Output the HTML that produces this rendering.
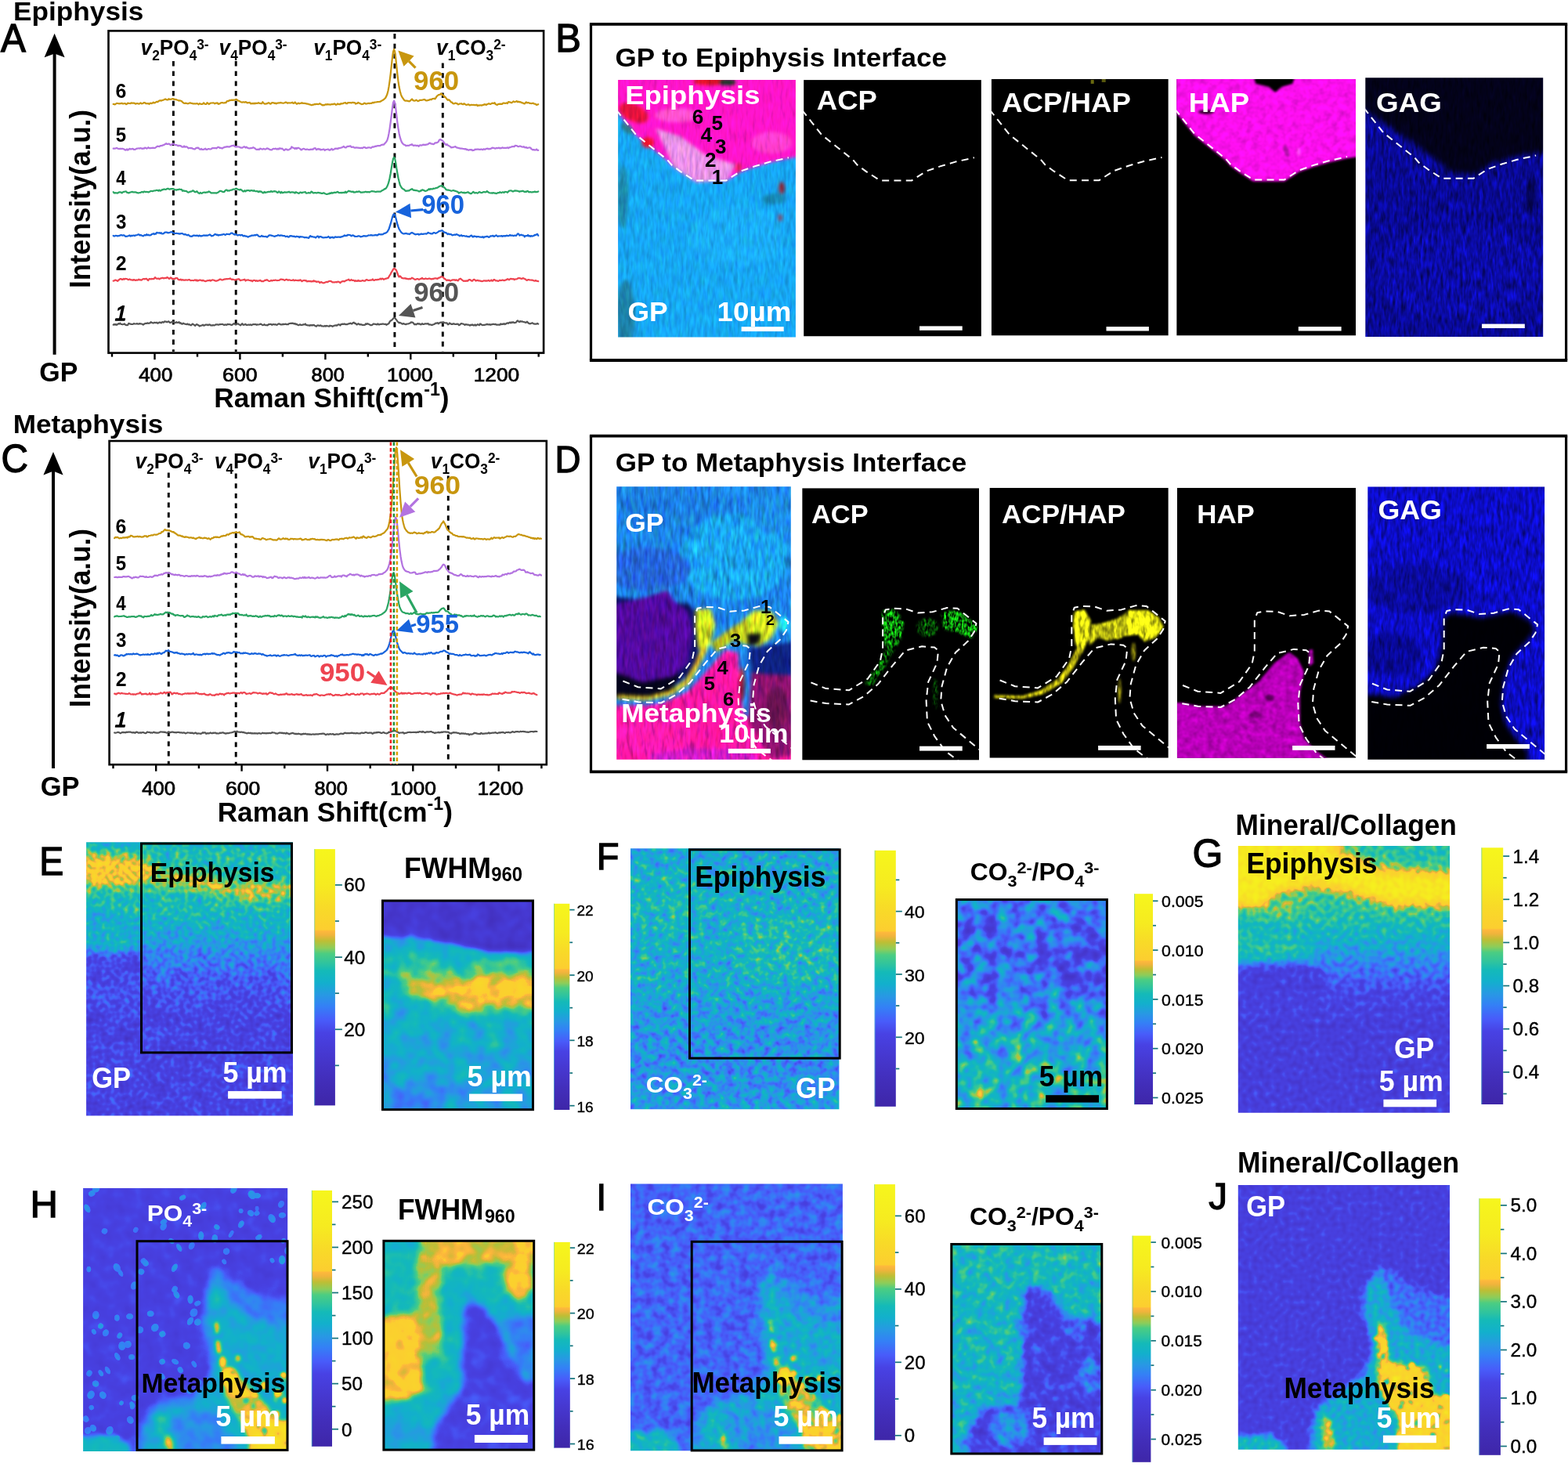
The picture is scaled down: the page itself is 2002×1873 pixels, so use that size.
<!DOCTYPE html>
<html lang="en"><head><meta charset="utf-8"><title>Raman mapping of growth plate interfaces</title>
<style>
html,body{margin:0;padding:0;background:#fff}
body{width:2002px;height:1873px;overflow:hidden}
svg{display:block;font-family:"Liberation Sans", sans-serif;}
</style></head><body>
<svg width="2002" height="1873" viewBox="0 0 2002 1873">
<defs>
<linearGradient id="cb" x1="0" y1="1" x2="0" y2="0"><stop offset="0.000" stop-color="#3e26a8"/><stop offset="0.100" stop-color="#422eba"/><stop offset="0.200" stop-color="#4638d0"/><stop offset="0.284" stop-color="#4842e4"/><stop offset="0.333" stop-color="#485cfa"/><stop offset="0.387" stop-color="#3480f6"/><stop offset="0.430" stop-color="#2898e4"/><stop offset="0.480" stop-color="#12b0cc"/><stop offset="0.525" stop-color="#14bab8"/><stop offset="0.553" stop-color="#2dc3a0"/><stop offset="0.592" stop-color="#4bcd82"/><stop offset="0.614" stop-color="#8ccd5a"/><stop offset="0.642" stop-color="#bebe34"/><stop offset="0.665" stop-color="#f0b43c"/><stop offset="0.680" stop-color="#feb83c"/><stop offset="0.686" stop-color="#fcce30"/><stop offset="0.770" stop-color="#f8da28"/><stop offset="0.860" stop-color="#f6eb20"/><stop offset="1.000" stop-color="#f6f61c"/></linearGradient>
<clipPath id="cp1"><rect x="789.1" y="102.1" width="226.8" height="328.5"/></clipPath>
<filter id="tx1" filterUnits="userSpaceOnUse" x="775.1" y="88.1" width="254.8" height="356.5" color-interpolation-filters="sRGB"><feGaussianBlur in="SourceGraphic" stdDeviation="2.0" result="b"/><feTurbulence type="fractalNoise" baseFrequency="0.26 0.06" numOctaves="2" seed="4" result="n"/><feColorMatrix in="n" type="matrix" values="0.6 0.4 0 0 0  0.3 0.7 0 0 0  0.3 0.3 0.4 0 0  0 0 0 0 1" result="n2"/><feComposite in="b" in2="n2" operator="arithmetic" k1="0.56" k2="0.74" k3="0" k4="0"/></filter>
<clipPath id="cp2"><rect x="1026.1" y="102.1" width="226.8" height="327.4"/></clipPath>
<clipPath id="cp3"><rect x="1265.7" y="100.9" width="226.1" height="327.7"/></clipPath>
<clipPath id="cp4"><rect x="1502.2" y="100.9" width="228.8" height="327.7"/></clipPath>
<filter id="tx2" filterUnits="userSpaceOnUse" x="1488.2" y="86.9" width="256.8" height="355.7" color-interpolation-filters="sRGB"><feGaussianBlur in="SourceGraphic" stdDeviation="1.6" result="b"/><feTurbulence type="fractalNoise" baseFrequency="0.12 0.12" numOctaves="2" seed="9" result="n"/><feColorMatrix in="n" type="matrix" values="0.6 0.4 0 0 0  0.6 0.4 0 0 0  0.6 0.4 0 0 0  0 0 0 0 1" result="n2"/><feComposite in="b" in2="n2" operator="arithmetic" k1="0.5" k2="0.78" k3="0" k4="0"/></filter>
<clipPath id="cp5"><rect x="1743.3" y="99.3" width="226.9" height="330.8"/></clipPath>
<filter id="tx3" filterUnits="userSpaceOnUse" x="1729.3" y="85.3" width="254.9" height="358.8" color-interpolation-filters="sRGB"><feGaussianBlur in="SourceGraphic" stdDeviation="3.5" result="b"/><feTurbulence type="fractalNoise" baseFrequency="0.28 0.07" numOctaves="2" seed="12" result="n"/><feColorMatrix in="n" type="matrix" values="0.6 0.4 0 0 0  0.6 0.4 0 0 0  0.6 0.4 0 0 0  0 0 0 0 1" result="n2"/><feComposite in="b" in2="n2" operator="arithmetic" k1="1.7" k2="0.12" k3="0" k4="0"/></filter>
<clipPath id="cp6"><rect x="787.2" y="621.3" width="222.6" height="348.5"/></clipPath>
<filter id="tx4" filterUnits="userSpaceOnUse" x="773.2" y="607.3" width="250.6" height="376.5" color-interpolation-filters="sRGB"><feGaussianBlur in="SourceGraphic" stdDeviation="2.6" result="b"/><feTurbulence type="fractalNoise" baseFrequency="0.22 0.055" numOctaves="2" seed="21" result="n"/><feColorMatrix in="n" type="matrix" values="0.6 0.4 0 0 0  0.3 0.7 0 0 0  0.3 0.3 0.4 0 0  0 0 0 0 1" result="n2"/><feComposite in="b" in2="n2" operator="arithmetic" k1="1.1" k2="0.45" k3="0" k4="0"/></filter>
<clipPath id="cp7"><rect x="1024.2" y="623.2" width="225.8" height="347.4"/></clipPath>
<filter id="tx5" filterUnits="userSpaceOnUse" x="1020.2" y="619.2" width="233.8" height="355.4" color-interpolation-filters="sRGB"><feGaussianBlur in="SourceGraphic" stdDeviation="1.6" result="b"/><feTurbulence type="fractalNoise" baseFrequency="0.35 0.16" numOctaves="2" seed="5" result="n"/><feColorMatrix in="n" type="matrix" values="0.6 0.4 0 0 0  0.6 0.4 0 0 0  0.6 0.4 0 0 0  0 0 0 0 1" result="n2"/><feComposite in="b" in2="n2" operator="arithmetic" k1="4.2" k2="-1.55" k3="0" k4="0"/></filter>
<clipPath id="cp8"><rect x="1263.4" y="622.8" width="228.4" height="344.9"/></clipPath>
<filter id="tx6" filterUnits="userSpaceOnUse" x="1249.4" y="608.8" width="256.4" height="372.9" color-interpolation-filters="sRGB"><feGaussianBlur in="SourceGraphic" stdDeviation="1.6" result="b"/><feTurbulence type="fractalNoise" baseFrequency="0.22 0.09" numOctaves="2" seed="7" result="n"/><feColorMatrix in="n" type="matrix" values="0.6 0.4 0 0 0  0.6 0.4 0 0 0  0.6 0.4 0 0 0  0 0 0 0 1" result="n2"/><feComposite in="b" in2="n2" operator="arithmetic" k1="2.0" k2="0.0" k3="0" k4="0"/></filter>
<clipPath id="cp9"><rect x="1502.9" y="622.8" width="228.1" height="344.9"/></clipPath>
<filter id="tx7" filterUnits="userSpaceOnUse" x="1488.9" y="608.8" width="256.1" height="372.9" color-interpolation-filters="sRGB"><feGaussianBlur in="SourceGraphic" stdDeviation="1.8" result="b"/><feTurbulence type="fractalNoise" baseFrequency="0.12 0.12" numOctaves="2" seed="15" result="n"/><feColorMatrix in="n" type="matrix" values="0.6 0.4 0 0 0  0.6 0.4 0 0 0  0.6 0.4 0 0 0  0 0 0 0 1" result="n2"/><feComposite in="b" in2="n2" operator="arithmetic" k1="0.7" k2="0.68" k3="0" k4="0"/></filter>
<clipPath id="cp10"><rect x="1746.3" y="621.6" width="225.8" height="348.1"/></clipPath>
<filter id="tx8" filterUnits="userSpaceOnUse" x="1732.3" y="607.6" width="253.8" height="376.1" color-interpolation-filters="sRGB"><feGaussianBlur in="SourceGraphic" stdDeviation="3.0" result="b"/><feTurbulence type="fractalNoise" baseFrequency="0.25 0.07" numOctaves="2" seed="19" result="n"/><feColorMatrix in="n" type="matrix" values="0.6 0.4 0 0 0  0.6 0.4 0 0 0  0.6 0.4 0 0 0  0 0 0 0 1" result="n2"/><feComposite in="b" in2="n2" operator="arithmetic" k1="1.5" k2="0.25" k3="0" k4="0"/></filter>
<filter id="bl2" x="-60%" y="-60%" width="220%" height="220%" color-interpolation-filters="sRGB"><feGaussianBlur stdDeviation="2"/></filter>
<filter id="bl3" x="-60%" y="-60%" width="220%" height="220%" color-interpolation-filters="sRGB"><feGaussianBlur stdDeviation="3"/></filter>
<filter id="bl5" x="-60%" y="-60%" width="220%" height="220%" color-interpolation-filters="sRGB"><feGaussianBlur stdDeviation="5"/></filter>
<filter id="bl8" x="-60%" y="-60%" width="220%" height="220%" color-interpolation-filters="sRGB"><feGaussianBlur stdDeviation="8"/></filter>
<filter id="bl12" x="-60%" y="-60%" width="220%" height="220%" color-interpolation-filters="sRGB"><feGaussianBlur stdDeviation="12"/></filter>
<filter id="bl18" x="-60%" y="-60%" width="220%" height="220%" color-interpolation-filters="sRGB"><feGaussianBlur stdDeviation="18"/></filter>
<clipPath id="cp11"><rect x="110.1" y="1075.3" width="263.9" height="349.2"/></clipPath>
<filter id="hm1" filterUnits="userSpaceOnUse" x="80.1" y="1045.3" width="323.9" height="409.2" color-interpolation-filters="sRGB"><feTurbulence type="fractalNoise" baseFrequency="0.17" numOctaves="1" seed="3" result="n"/><feColorMatrix in="n" type="matrix" values="1 0 0 0 0  1 0 0 0 0  1 0 0 0 0  0 0 0 0 1" result="ng"/><feComposite in="SourceGraphic" in2="ng" operator="arithmetic" k1="0" k2="1" k3="0.27" k4="-0.135" result="v"/><feTurbulence type="fractalNoise" baseFrequency="0.045" numOctaves="2" seed="7" result="m"/><feColorMatrix in="m" type="matrix" values="1 0 0 0 0  1 0 0 0 0  1 0 0 0 0  0 0 0 0 1" result="mg"/><feComposite in="v" in2="mg" operator="arithmetic" k1="0" k2="1" k3="0.14" k4="-0.070" result="v"/><feComponentTransfer><feFuncR type="table" tableValues="0.243 0.245 0.246 0.248 0.249 0.251 0.253 0.254 0.256 0.257 0.259 0.260 0.262 0.264 0.265 0.267 0.268 0.270 0.271 0.273 0.275 0.275 0.276 0.277 0.278 0.279 0.280 0.281 0.282 0.282 0.282 0.282 0.282 0.282 0.272 0.258 0.243 0.229 0.214 0.201 0.190 0.179 0.168 0.157 0.140 0.122 0.105 0.088 0.071 0.072 0.074 0.076 0.078 0.096 0.131 0.166 0.198 0.228 0.258 0.288 0.387 0.503 0.590 0.659 0.728 0.810 0.898 0.959 0.996 0.987 0.986 0.984 0.982 0.980 0.978 0.976 0.974 0.973 0.972 0.971 0.970 0.969 0.968 0.967 0.966 0.966 0.965 0.965 0.965 0.965 0.965 0.965 0.965 0.965 0.965 0.965 0.965 0.965 0.965 0.965 0.965"/><feFuncG type="table" tableValues="0.149 0.152 0.155 0.158 0.162 0.165 0.168 0.171 0.174 0.177 0.180 0.184 0.188 0.192 0.196 0.200 0.204 0.208 0.212 0.216 0.220 0.224 0.229 0.234 0.238 0.243 0.248 0.252 0.257 0.271 0.292 0.313 0.334 0.355 0.379 0.405 0.431 0.458 0.484 0.509 0.530 0.552 0.574 0.596 0.615 0.634 0.653 0.671 0.690 0.699 0.708 0.716 0.725 0.736 0.748 0.761 0.772 0.782 0.792 0.802 0.804 0.804 0.792 0.771 0.750 0.732 0.715 0.711 0.722 0.810 0.816 0.821 0.827 0.832 0.838 0.844 0.849 0.855 0.862 0.870 0.877 0.885 0.892 0.899 0.907 0.914 0.922 0.925 0.928 0.931 0.934 0.937 0.940 0.943 0.946 0.949 0.952 0.955 0.959 0.962 0.965"/><feFuncB type="table" tableValues="0.659 0.666 0.673 0.680 0.687 0.694 0.701 0.708 0.715 0.722 0.729 0.738 0.747 0.755 0.764 0.773 0.781 0.790 0.798 0.807 0.816 0.825 0.834 0.844 0.853 0.862 0.872 0.881 0.890 0.905 0.922 0.940 0.958 0.975 0.978 0.975 0.973 0.970 0.967 0.960 0.943 0.927 0.911 0.894 0.875 0.856 0.838 0.819 0.800 0.783 0.765 0.748 0.730 0.705 0.671 0.638 0.606 0.576 0.546 0.516 0.453 0.381 0.322 0.269 0.217 0.214 0.228 0.235 0.235 0.187 0.183 0.179 0.176 0.172 0.168 0.164 0.161 0.157 0.153 0.150 0.146 0.143 0.139 0.136 0.132 0.129 0.125 0.124 0.123 0.122 0.121 0.120 0.119 0.118 0.117 0.115 0.114 0.113 0.112 0.111 0.110"/></feComponentTransfer></filter>
<linearGradient id="vg1" x1="0" y1="0" x2="0" y2="1"><stop offset="0.000" stop-color="#858585"/><stop offset="0.100" stop-color="#878787"/><stop offset="0.280" stop-color="#858585"/><stop offset="0.360" stop-color="#787878"/><stop offset="0.420" stop-color="#666666"/><stop offset="0.500" stop-color="#545454"/><stop offset="0.620" stop-color="#474747"/><stop offset="1.000" stop-color="#454545"/></linearGradient>
<clipPath id="cp12"><rect x="488.5" y="1150.0" width="192.0" height="266.7"/></clipPath>
<filter id="hm2" filterUnits="userSpaceOnUse" x="458.5" y="1120.0" width="252.0" height="326.7" color-interpolation-filters="sRGB"><feTurbulence type="fractalNoise" baseFrequency="0.05" numOctaves="2" seed="11" result="n"/><feColorMatrix in="n" type="matrix" values="1 0 0 0 0  1 0 0 0 0  1 0 0 0 0  0 0 0 0 1" result="ng"/><feComposite in="SourceGraphic" in2="ng" operator="arithmetic" k1="0" k2="1" k3="0.22" k4="-0.110" result="v"/><feComponentTransfer><feFuncR type="table" tableValues="0.243 0.245 0.246 0.248 0.249 0.251 0.253 0.254 0.256 0.257 0.259 0.260 0.262 0.264 0.265 0.267 0.268 0.270 0.271 0.273 0.275 0.275 0.276 0.277 0.278 0.279 0.280 0.281 0.282 0.282 0.282 0.282 0.282 0.282 0.272 0.258 0.243 0.229 0.214 0.201 0.190 0.179 0.168 0.157 0.140 0.122 0.105 0.088 0.071 0.072 0.074 0.076 0.078 0.096 0.131 0.166 0.198 0.228 0.258 0.288 0.387 0.503 0.590 0.659 0.728 0.810 0.898 0.959 0.996 0.987 0.986 0.984 0.982 0.980 0.978 0.976 0.974 0.973 0.972 0.971 0.970 0.969 0.968 0.967 0.966 0.966 0.965 0.965 0.965 0.965 0.965 0.965 0.965 0.965 0.965 0.965 0.965 0.965 0.965 0.965 0.965"/><feFuncG type="table" tableValues="0.149 0.152 0.155 0.158 0.162 0.165 0.168 0.171 0.174 0.177 0.180 0.184 0.188 0.192 0.196 0.200 0.204 0.208 0.212 0.216 0.220 0.224 0.229 0.234 0.238 0.243 0.248 0.252 0.257 0.271 0.292 0.313 0.334 0.355 0.379 0.405 0.431 0.458 0.484 0.509 0.530 0.552 0.574 0.596 0.615 0.634 0.653 0.671 0.690 0.699 0.708 0.716 0.725 0.736 0.748 0.761 0.772 0.782 0.792 0.802 0.804 0.804 0.792 0.771 0.750 0.732 0.715 0.711 0.722 0.810 0.816 0.821 0.827 0.832 0.838 0.844 0.849 0.855 0.862 0.870 0.877 0.885 0.892 0.899 0.907 0.914 0.922 0.925 0.928 0.931 0.934 0.937 0.940 0.943 0.946 0.949 0.952 0.955 0.959 0.962 0.965"/><feFuncB type="table" tableValues="0.659 0.666 0.673 0.680 0.687 0.694 0.701 0.708 0.715 0.722 0.729 0.738 0.747 0.755 0.764 0.773 0.781 0.790 0.798 0.807 0.816 0.825 0.834 0.844 0.853 0.862 0.872 0.881 0.890 0.905 0.922 0.940 0.958 0.975 0.978 0.975 0.973 0.970 0.967 0.960 0.943 0.927 0.911 0.894 0.875 0.856 0.838 0.819 0.800 0.783 0.765 0.748 0.730 0.705 0.671 0.638 0.606 0.576 0.546 0.516 0.453 0.381 0.322 0.269 0.217 0.214 0.228 0.235 0.235 0.187 0.183 0.179 0.176 0.172 0.168 0.164 0.161 0.157 0.153 0.150 0.146 0.143 0.139 0.136 0.132 0.129 0.125 0.124 0.123 0.122 0.121 0.120 0.119 0.118 0.117 0.115 0.114 0.113 0.112 0.111 0.110"/></feComponentTransfer></filter>
<linearGradient id="vg2" x1="0" y1="0" x2="0" y2="1"><stop offset="0.000" stop-color="#787878"/><stop offset="0.500" stop-color="#7d7d7d"/><stop offset="0.750" stop-color="#757575"/><stop offset="1.000" stop-color="#737373"/></linearGradient>
<clipPath id="cp13"><rect x="805.0" y="1083.3" width="266.4" height="332.9"/></clipPath>
<filter id="hm3" filterUnits="userSpaceOnUse" x="775.0" y="1053.3" width="326.4" height="392.9" color-interpolation-filters="sRGB"><feTurbulence type="fractalNoise" baseFrequency="0.11" numOctaves="2" seed="5" result="n"/><feColorMatrix in="n" type="matrix" values="1 0 0 0 0  1 0 0 0 0  1 0 0 0 0  0 0 0 0 1" result="ng"/><feComposite in="SourceGraphic" in2="ng" operator="arithmetic" k1="0" k2="1" k3="0.36" k4="-0.180" result="v"/><feComponentTransfer><feFuncR type="table" tableValues="0.243 0.245 0.246 0.248 0.249 0.251 0.253 0.254 0.256 0.257 0.259 0.260 0.262 0.264 0.265 0.267 0.268 0.270 0.271 0.273 0.275 0.275 0.276 0.277 0.278 0.279 0.280 0.281 0.282 0.282 0.282 0.282 0.282 0.282 0.272 0.258 0.243 0.229 0.214 0.201 0.190 0.179 0.168 0.157 0.140 0.122 0.105 0.088 0.071 0.072 0.074 0.076 0.078 0.096 0.131 0.166 0.198 0.228 0.258 0.288 0.387 0.503 0.590 0.659 0.728 0.810 0.898 0.959 0.996 0.987 0.986 0.984 0.982 0.980 0.978 0.976 0.974 0.973 0.972 0.971 0.970 0.969 0.968 0.967 0.966 0.966 0.965 0.965 0.965 0.965 0.965 0.965 0.965 0.965 0.965 0.965 0.965 0.965 0.965 0.965 0.965"/><feFuncG type="table" tableValues="0.149 0.152 0.155 0.158 0.162 0.165 0.168 0.171 0.174 0.177 0.180 0.184 0.188 0.192 0.196 0.200 0.204 0.208 0.212 0.216 0.220 0.224 0.229 0.234 0.238 0.243 0.248 0.252 0.257 0.271 0.292 0.313 0.334 0.355 0.379 0.405 0.431 0.458 0.484 0.509 0.530 0.552 0.574 0.596 0.615 0.634 0.653 0.671 0.690 0.699 0.708 0.716 0.725 0.736 0.748 0.761 0.772 0.782 0.792 0.802 0.804 0.804 0.792 0.771 0.750 0.732 0.715 0.711 0.722 0.810 0.816 0.821 0.827 0.832 0.838 0.844 0.849 0.855 0.862 0.870 0.877 0.885 0.892 0.899 0.907 0.914 0.922 0.925 0.928 0.931 0.934 0.937 0.940 0.943 0.946 0.949 0.952 0.955 0.959 0.962 0.965"/><feFuncB type="table" tableValues="0.659 0.666 0.673 0.680 0.687 0.694 0.701 0.708 0.715 0.722 0.729 0.738 0.747 0.755 0.764 0.773 0.781 0.790 0.798 0.807 0.816 0.825 0.834 0.844 0.853 0.862 0.872 0.881 0.890 0.905 0.922 0.940 0.958 0.975 0.978 0.975 0.973 0.970 0.967 0.960 0.943 0.927 0.911 0.894 0.875 0.856 0.838 0.819 0.800 0.783 0.765 0.748 0.730 0.705 0.671 0.638 0.606 0.576 0.546 0.516 0.453 0.381 0.322 0.269 0.217 0.214 0.228 0.235 0.235 0.187 0.183 0.179 0.176 0.172 0.168 0.164 0.161 0.157 0.153 0.150 0.146 0.143 0.139 0.136 0.132 0.129 0.125 0.124 0.123 0.122 0.121 0.120 0.119 0.118 0.117 0.115 0.114 0.113 0.112 0.111 0.110"/></feComponentTransfer></filter>
<linearGradient id="vg3" x1="0" y1="0" x2="0" y2="1"><stop offset="0.000" stop-color="#707070"/><stop offset="0.120" stop-color="#787878"/><stop offset="0.300" stop-color="#7d7d7d"/><stop offset="0.500" stop-color="#797979"/><stop offset="0.620" stop-color="#6f6f6f"/><stop offset="0.800" stop-color="#696969"/><stop offset="0.900" stop-color="#6f6f6f"/><stop offset="1.000" stop-color="#757575"/></linearGradient>
<clipPath id="cp14"><rect x="1221.3" y="1148.6" width="192.1" height="266.9"/></clipPath>
<filter id="hm4" filterUnits="userSpaceOnUse" x="1191.3" y="1118.6" width="252.1" height="326.9" color-interpolation-filters="sRGB"><feTurbulence type="fractalNoise" baseFrequency="0.062" numOctaves="2" seed="8" result="n"/><feColorMatrix in="n" type="matrix" values="1 0 0 0 0  1 0 0 0 0  1 0 0 0 0  0 0 0 0 1" result="ng"/><feComposite in="SourceGraphic" in2="ng" operator="arithmetic" k1="0" k2="1" k3="0.5" k4="-0.250" result="v"/><feComponentTransfer><feFuncR type="table" tableValues="0.243 0.245 0.246 0.248 0.249 0.251 0.253 0.254 0.256 0.257 0.259 0.260 0.262 0.264 0.265 0.267 0.268 0.270 0.271 0.273 0.275 0.275 0.276 0.277 0.278 0.279 0.280 0.281 0.282 0.282 0.282 0.282 0.282 0.282 0.272 0.258 0.243 0.229 0.214 0.201 0.190 0.179 0.168 0.157 0.140 0.122 0.105 0.088 0.071 0.072 0.074 0.076 0.078 0.096 0.131 0.166 0.198 0.228 0.258 0.288 0.387 0.503 0.590 0.659 0.728 0.810 0.898 0.959 0.996 0.987 0.986 0.984 0.982 0.980 0.978 0.976 0.974 0.973 0.972 0.971 0.970 0.969 0.968 0.967 0.966 0.966 0.965 0.965 0.965 0.965 0.965 0.965 0.965 0.965 0.965 0.965 0.965 0.965 0.965 0.965 0.965"/><feFuncG type="table" tableValues="0.149 0.152 0.155 0.158 0.162 0.165 0.168 0.171 0.174 0.177 0.180 0.184 0.188 0.192 0.196 0.200 0.204 0.208 0.212 0.216 0.220 0.224 0.229 0.234 0.238 0.243 0.248 0.252 0.257 0.271 0.292 0.313 0.334 0.355 0.379 0.405 0.431 0.458 0.484 0.509 0.530 0.552 0.574 0.596 0.615 0.634 0.653 0.671 0.690 0.699 0.708 0.716 0.725 0.736 0.748 0.761 0.772 0.782 0.792 0.802 0.804 0.804 0.792 0.771 0.750 0.732 0.715 0.711 0.722 0.810 0.816 0.821 0.827 0.832 0.838 0.844 0.849 0.855 0.862 0.870 0.877 0.885 0.892 0.899 0.907 0.914 0.922 0.925 0.928 0.931 0.934 0.937 0.940 0.943 0.946 0.949 0.952 0.955 0.959 0.962 0.965"/><feFuncB type="table" tableValues="0.659 0.666 0.673 0.680 0.687 0.694 0.701 0.708 0.715 0.722 0.729 0.738 0.747 0.755 0.764 0.773 0.781 0.790 0.798 0.807 0.816 0.825 0.834 0.844 0.853 0.862 0.872 0.881 0.890 0.905 0.922 0.940 0.958 0.975 0.978 0.975 0.973 0.970 0.967 0.960 0.943 0.927 0.911 0.894 0.875 0.856 0.838 0.819 0.800 0.783 0.765 0.748 0.730 0.705 0.671 0.638 0.606 0.576 0.546 0.516 0.453 0.381 0.322 0.269 0.217 0.214 0.228 0.235 0.235 0.187 0.183 0.179 0.176 0.172 0.168 0.164 0.161 0.157 0.153 0.150 0.146 0.143 0.139 0.136 0.132 0.129 0.125 0.124 0.123 0.122 0.121 0.120 0.119 0.118 0.117 0.115 0.114 0.113 0.112 0.111 0.110"/></feComponentTransfer></filter>
<linearGradient id="vg4" x1="0" y1="0" x2="0" y2="1"><stop offset="0.000" stop-color="#757575"/><stop offset="0.060" stop-color="#737373"/><stop offset="0.140" stop-color="#616161"/><stop offset="0.300" stop-color="#5c5c5c"/><stop offset="0.450" stop-color="#616161"/><stop offset="0.560" stop-color="#707070"/><stop offset="0.700" stop-color="#7a7a7a"/><stop offset="0.850" stop-color="#828282"/><stop offset="1.000" stop-color="#858585"/></linearGradient>
<clipPath id="cp15"><rect x="1580.8" y="1080.0" width="270.2" height="340.7"/></clipPath>
<filter id="hm5" filterUnits="userSpaceOnUse" x="1550.8" y="1050.0" width="330.2" height="400.7" color-interpolation-filters="sRGB"><feTurbulence type="fractalNoise" baseFrequency="0.14" numOctaves="1" seed="14" result="n"/><feColorMatrix in="n" type="matrix" values="1 0 0 0 0  1 0 0 0 0  1 0 0 0 0  0 0 0 0 1" result="ng"/><feComposite in="SourceGraphic" in2="ng" operator="arithmetic" k1="0" k2="1" k3="0.26" k4="-0.130" result="v"/><feComponentTransfer><feFuncR type="table" tableValues="0.243 0.245 0.246 0.248 0.249 0.251 0.253 0.254 0.256 0.257 0.259 0.260 0.262 0.264 0.265 0.267 0.268 0.270 0.271 0.273 0.275 0.275 0.276 0.277 0.278 0.279 0.280 0.281 0.282 0.282 0.282 0.282 0.282 0.282 0.272 0.258 0.243 0.229 0.214 0.201 0.190 0.179 0.168 0.157 0.140 0.122 0.105 0.088 0.071 0.072 0.074 0.076 0.078 0.096 0.131 0.166 0.198 0.228 0.258 0.288 0.387 0.503 0.590 0.659 0.728 0.810 0.898 0.959 0.996 0.987 0.986 0.984 0.982 0.980 0.978 0.976 0.974 0.973 0.972 0.971 0.970 0.969 0.968 0.967 0.966 0.966 0.965 0.965 0.965 0.965 0.965 0.965 0.965 0.965 0.965 0.965 0.965 0.965 0.965 0.965 0.965"/><feFuncG type="table" tableValues="0.149 0.152 0.155 0.158 0.162 0.165 0.168 0.171 0.174 0.177 0.180 0.184 0.188 0.192 0.196 0.200 0.204 0.208 0.212 0.216 0.220 0.224 0.229 0.234 0.238 0.243 0.248 0.252 0.257 0.271 0.292 0.313 0.334 0.355 0.379 0.405 0.431 0.458 0.484 0.509 0.530 0.552 0.574 0.596 0.615 0.634 0.653 0.671 0.690 0.699 0.708 0.716 0.725 0.736 0.748 0.761 0.772 0.782 0.792 0.802 0.804 0.804 0.792 0.771 0.750 0.732 0.715 0.711 0.722 0.810 0.816 0.821 0.827 0.832 0.838 0.844 0.849 0.855 0.862 0.870 0.877 0.885 0.892 0.899 0.907 0.914 0.922 0.925 0.928 0.931 0.934 0.937 0.940 0.943 0.946 0.949 0.952 0.955 0.959 0.962 0.965"/><feFuncB type="table" tableValues="0.659 0.666 0.673 0.680 0.687 0.694 0.701 0.708 0.715 0.722 0.729 0.738 0.747 0.755 0.764 0.773 0.781 0.790 0.798 0.807 0.816 0.825 0.834 0.844 0.853 0.862 0.872 0.881 0.890 0.905 0.922 0.940 0.958 0.975 0.978 0.975 0.973 0.970 0.967 0.960 0.943 0.927 0.911 0.894 0.875 0.856 0.838 0.819 0.800 0.783 0.765 0.748 0.730 0.705 0.671 0.638 0.606 0.576 0.546 0.516 0.453 0.381 0.322 0.269 0.217 0.214 0.228 0.235 0.235 0.187 0.183 0.179 0.176 0.172 0.168 0.164 0.161 0.157 0.153 0.150 0.146 0.143 0.139 0.136 0.132 0.129 0.125 0.124 0.123 0.122 0.121 0.120 0.119 0.118 0.117 0.115 0.114 0.113 0.112 0.111 0.110"/></feComponentTransfer></filter>
<linearGradient id="vg5" x1="0" y1="0" x2="0" y2="1"><stop offset="0.000" stop-color="#8f8f8f"/><stop offset="0.200" stop-color="#919191"/><stop offset="0.300" stop-color="#8c8c8c"/><stop offset="0.380" stop-color="#7a7a7a"/><stop offset="0.460" stop-color="#616161"/><stop offset="0.540" stop-color="#4a4a4a"/><stop offset="0.650" stop-color="#404040"/><stop offset="1.000" stop-color="#404040"/></linearGradient>
<clipPath id="cp16"><rect x="106.1" y="1517.1" width="261.1" height="335.8"/></clipPath>
<filter id="hm6" filterUnits="userSpaceOnUse" x="76.1" y="1487.1" width="321.1" height="395.8" color-interpolation-filters="sRGB"><feTurbulence type="fractalNoise" baseFrequency="0.06" numOctaves="2" seed="23" result="n"/><feColorMatrix in="n" type="matrix" values="1 0 0 0 0  1 0 0 0 0  1 0 0 0 0  0 0 0 0 1" result="ng"/><feComposite in="SourceGraphic" in2="ng" operator="arithmetic" k1="0" k2="1" k3="0.12" k4="-0.060" result="v"/><feComponentTransfer><feFuncR type="table" tableValues="0.243 0.245 0.246 0.248 0.249 0.251 0.253 0.254 0.256 0.257 0.259 0.260 0.262 0.264 0.265 0.267 0.268 0.270 0.271 0.273 0.275 0.275 0.276 0.277 0.278 0.279 0.280 0.281 0.282 0.282 0.282 0.282 0.282 0.282 0.272 0.258 0.243 0.229 0.214 0.201 0.190 0.179 0.168 0.157 0.140 0.122 0.105 0.088 0.071 0.072 0.074 0.076 0.078 0.096 0.131 0.166 0.198 0.228 0.258 0.288 0.387 0.503 0.590 0.659 0.728 0.810 0.898 0.959 0.996 0.987 0.986 0.984 0.982 0.980 0.978 0.976 0.974 0.973 0.972 0.971 0.970 0.969 0.968 0.967 0.966 0.966 0.965 0.965 0.965 0.965 0.965 0.965 0.965 0.965 0.965 0.965 0.965 0.965 0.965 0.965 0.965"/><feFuncG type="table" tableValues="0.149 0.152 0.155 0.158 0.162 0.165 0.168 0.171 0.174 0.177 0.180 0.184 0.188 0.192 0.196 0.200 0.204 0.208 0.212 0.216 0.220 0.224 0.229 0.234 0.238 0.243 0.248 0.252 0.257 0.271 0.292 0.313 0.334 0.355 0.379 0.405 0.431 0.458 0.484 0.509 0.530 0.552 0.574 0.596 0.615 0.634 0.653 0.671 0.690 0.699 0.708 0.716 0.725 0.736 0.748 0.761 0.772 0.782 0.792 0.802 0.804 0.804 0.792 0.771 0.750 0.732 0.715 0.711 0.722 0.810 0.816 0.821 0.827 0.832 0.838 0.844 0.849 0.855 0.862 0.870 0.877 0.885 0.892 0.899 0.907 0.914 0.922 0.925 0.928 0.931 0.934 0.937 0.940 0.943 0.946 0.949 0.952 0.955 0.959 0.962 0.965"/><feFuncB type="table" tableValues="0.659 0.666 0.673 0.680 0.687 0.694 0.701 0.708 0.715 0.722 0.729 0.738 0.747 0.755 0.764 0.773 0.781 0.790 0.798 0.807 0.816 0.825 0.834 0.844 0.853 0.862 0.872 0.881 0.890 0.905 0.922 0.940 0.958 0.975 0.978 0.975 0.973 0.970 0.967 0.960 0.943 0.927 0.911 0.894 0.875 0.856 0.838 0.819 0.800 0.783 0.765 0.748 0.730 0.705 0.671 0.638 0.606 0.576 0.546 0.516 0.453 0.381 0.322 0.269 0.217 0.214 0.228 0.235 0.235 0.187 0.183 0.179 0.176 0.172 0.168 0.164 0.161 0.157 0.153 0.150 0.146 0.143 0.139 0.136 0.132 0.129 0.125 0.124 0.123 0.122 0.121 0.120 0.119 0.118 0.117 0.115 0.114 0.113 0.112 0.111 0.110"/></feComponentTransfer></filter>
<clipPath id="cp17"><rect x="489.9" y="1584.3" width="191.8" height="266.8"/></clipPath>
<filter id="hm7" filterUnits="userSpaceOnUse" x="459.9" y="1554.3" width="251.8" height="326.8" color-interpolation-filters="sRGB"><feTurbulence type="fractalNoise" baseFrequency="0.05" numOctaves="2" seed="31" result="n"/><feColorMatrix in="n" type="matrix" values="1 0 0 0 0  1 0 0 0 0  1 0 0 0 0  0 0 0 0 1" result="ng"/><feComposite in="SourceGraphic" in2="ng" operator="arithmetic" k1="0" k2="1" k3="0.16" k4="-0.080" result="v"/><feComponentTransfer><feFuncR type="table" tableValues="0.243 0.245 0.246 0.248 0.249 0.251 0.253 0.254 0.256 0.257 0.259 0.260 0.262 0.264 0.265 0.267 0.268 0.270 0.271 0.273 0.275 0.275 0.276 0.277 0.278 0.279 0.280 0.281 0.282 0.282 0.282 0.282 0.282 0.282 0.272 0.258 0.243 0.229 0.214 0.201 0.190 0.179 0.168 0.157 0.140 0.122 0.105 0.088 0.071 0.072 0.074 0.076 0.078 0.096 0.131 0.166 0.198 0.228 0.258 0.288 0.387 0.503 0.590 0.659 0.728 0.810 0.898 0.959 0.996 0.987 0.986 0.984 0.982 0.980 0.978 0.976 0.974 0.973 0.972 0.971 0.970 0.969 0.968 0.967 0.966 0.966 0.965 0.965 0.965 0.965 0.965 0.965 0.965 0.965 0.965 0.965 0.965 0.965 0.965 0.965 0.965"/><feFuncG type="table" tableValues="0.149 0.152 0.155 0.158 0.162 0.165 0.168 0.171 0.174 0.177 0.180 0.184 0.188 0.192 0.196 0.200 0.204 0.208 0.212 0.216 0.220 0.224 0.229 0.234 0.238 0.243 0.248 0.252 0.257 0.271 0.292 0.313 0.334 0.355 0.379 0.405 0.431 0.458 0.484 0.509 0.530 0.552 0.574 0.596 0.615 0.634 0.653 0.671 0.690 0.699 0.708 0.716 0.725 0.736 0.748 0.761 0.772 0.782 0.792 0.802 0.804 0.804 0.792 0.771 0.750 0.732 0.715 0.711 0.722 0.810 0.816 0.821 0.827 0.832 0.838 0.844 0.849 0.855 0.862 0.870 0.877 0.885 0.892 0.899 0.907 0.914 0.922 0.925 0.928 0.931 0.934 0.937 0.940 0.943 0.946 0.949 0.952 0.955 0.959 0.962 0.965"/><feFuncB type="table" tableValues="0.659 0.666 0.673 0.680 0.687 0.694 0.701 0.708 0.715 0.722 0.729 0.738 0.747 0.755 0.764 0.773 0.781 0.790 0.798 0.807 0.816 0.825 0.834 0.844 0.853 0.862 0.872 0.881 0.890 0.905 0.922 0.940 0.958 0.975 0.978 0.975 0.973 0.970 0.967 0.960 0.943 0.927 0.911 0.894 0.875 0.856 0.838 0.819 0.800 0.783 0.765 0.748 0.730 0.705 0.671 0.638 0.606 0.576 0.546 0.516 0.453 0.381 0.322 0.269 0.217 0.214 0.228 0.235 0.235 0.187 0.183 0.179 0.176 0.172 0.168 0.164 0.161 0.157 0.153 0.150 0.146 0.143 0.139 0.136 0.132 0.129 0.125 0.124 0.123 0.122 0.121 0.120 0.119 0.118 0.117 0.115 0.114 0.113 0.112 0.111 0.110"/></feComponentTransfer></filter>
<clipPath id="cp18"><rect x="805.0" y="1511.4" width="270.9" height="340.9"/></clipPath>
<filter id="hm8" filterUnits="userSpaceOnUse" x="775.0" y="1481.4" width="330.9" height="400.9" color-interpolation-filters="sRGB"><feTurbulence type="fractalNoise" baseFrequency="0.09" numOctaves="2" seed="41" result="n"/><feColorMatrix in="n" type="matrix" values="1 0 0 0 0  1 0 0 0 0  1 0 0 0 0  0 0 0 0 1" result="ng"/><feComposite in="SourceGraphic" in2="ng" operator="arithmetic" k1="0" k2="1" k3="0.22" k4="-0.110" result="v"/><feComponentTransfer><feFuncR type="table" tableValues="0.243 0.245 0.246 0.248 0.249 0.251 0.253 0.254 0.256 0.257 0.259 0.260 0.262 0.264 0.265 0.267 0.268 0.270 0.271 0.273 0.275 0.275 0.276 0.277 0.278 0.279 0.280 0.281 0.282 0.282 0.282 0.282 0.282 0.282 0.272 0.258 0.243 0.229 0.214 0.201 0.190 0.179 0.168 0.157 0.140 0.122 0.105 0.088 0.071 0.072 0.074 0.076 0.078 0.096 0.131 0.166 0.198 0.228 0.258 0.288 0.387 0.503 0.590 0.659 0.728 0.810 0.898 0.959 0.996 0.987 0.986 0.984 0.982 0.980 0.978 0.976 0.974 0.973 0.972 0.971 0.970 0.969 0.968 0.967 0.966 0.966 0.965 0.965 0.965 0.965 0.965 0.965 0.965 0.965 0.965 0.965 0.965 0.965 0.965 0.965 0.965"/><feFuncG type="table" tableValues="0.149 0.152 0.155 0.158 0.162 0.165 0.168 0.171 0.174 0.177 0.180 0.184 0.188 0.192 0.196 0.200 0.204 0.208 0.212 0.216 0.220 0.224 0.229 0.234 0.238 0.243 0.248 0.252 0.257 0.271 0.292 0.313 0.334 0.355 0.379 0.405 0.431 0.458 0.484 0.509 0.530 0.552 0.574 0.596 0.615 0.634 0.653 0.671 0.690 0.699 0.708 0.716 0.725 0.736 0.748 0.761 0.772 0.782 0.792 0.802 0.804 0.804 0.792 0.771 0.750 0.732 0.715 0.711 0.722 0.810 0.816 0.821 0.827 0.832 0.838 0.844 0.849 0.855 0.862 0.870 0.877 0.885 0.892 0.899 0.907 0.914 0.922 0.925 0.928 0.931 0.934 0.937 0.940 0.943 0.946 0.949 0.952 0.955 0.959 0.962 0.965"/><feFuncB type="table" tableValues="0.659 0.666 0.673 0.680 0.687 0.694 0.701 0.708 0.715 0.722 0.729 0.738 0.747 0.755 0.764 0.773 0.781 0.790 0.798 0.807 0.816 0.825 0.834 0.844 0.853 0.862 0.872 0.881 0.890 0.905 0.922 0.940 0.958 0.975 0.978 0.975 0.973 0.970 0.967 0.960 0.943 0.927 0.911 0.894 0.875 0.856 0.838 0.819 0.800 0.783 0.765 0.748 0.730 0.705 0.671 0.638 0.606 0.576 0.546 0.516 0.453 0.381 0.322 0.269 0.217 0.214 0.228 0.235 0.235 0.187 0.183 0.179 0.176 0.172 0.168 0.164 0.161 0.157 0.153 0.150 0.146 0.143 0.139 0.136 0.132 0.129 0.125 0.124 0.123 0.122 0.121 0.120 0.119 0.118 0.117 0.115 0.114 0.113 0.112 0.111 0.110"/></feComponentTransfer></filter>
<clipPath id="cp19"><rect x="1214.8" y="1588.5" width="192.0" height="267.5"/></clipPath>
<filter id="hm9" filterUnits="userSpaceOnUse" x="1184.8" y="1558.5" width="252.0" height="327.5" color-interpolation-filters="sRGB"><feTurbulence type="fractalNoise" baseFrequency="0.085" numOctaves="2" seed="51" result="n"/><feColorMatrix in="n" type="matrix" values="1 0 0 0 0  1 0 0 0 0  1 0 0 0 0  0 0 0 0 1" result="ng"/><feComposite in="SourceGraphic" in2="ng" operator="arithmetic" k1="0" k2="1" k3="0.3" k4="-0.150" result="v"/><feComponentTransfer><feFuncR type="table" tableValues="0.243 0.245 0.246 0.248 0.249 0.251 0.253 0.254 0.256 0.257 0.259 0.260 0.262 0.264 0.265 0.267 0.268 0.270 0.271 0.273 0.275 0.275 0.276 0.277 0.278 0.279 0.280 0.281 0.282 0.282 0.282 0.282 0.282 0.282 0.272 0.258 0.243 0.229 0.214 0.201 0.190 0.179 0.168 0.157 0.140 0.122 0.105 0.088 0.071 0.072 0.074 0.076 0.078 0.096 0.131 0.166 0.198 0.228 0.258 0.288 0.387 0.503 0.590 0.659 0.728 0.810 0.898 0.959 0.996 0.987 0.986 0.984 0.982 0.980 0.978 0.976 0.974 0.973 0.972 0.971 0.970 0.969 0.968 0.967 0.966 0.966 0.965 0.965 0.965 0.965 0.965 0.965 0.965 0.965 0.965 0.965 0.965 0.965 0.965 0.965 0.965"/><feFuncG type="table" tableValues="0.149 0.152 0.155 0.158 0.162 0.165 0.168 0.171 0.174 0.177 0.180 0.184 0.188 0.192 0.196 0.200 0.204 0.208 0.212 0.216 0.220 0.224 0.229 0.234 0.238 0.243 0.248 0.252 0.257 0.271 0.292 0.313 0.334 0.355 0.379 0.405 0.431 0.458 0.484 0.509 0.530 0.552 0.574 0.596 0.615 0.634 0.653 0.671 0.690 0.699 0.708 0.716 0.725 0.736 0.748 0.761 0.772 0.782 0.792 0.802 0.804 0.804 0.792 0.771 0.750 0.732 0.715 0.711 0.722 0.810 0.816 0.821 0.827 0.832 0.838 0.844 0.849 0.855 0.862 0.870 0.877 0.885 0.892 0.899 0.907 0.914 0.922 0.925 0.928 0.931 0.934 0.937 0.940 0.943 0.946 0.949 0.952 0.955 0.959 0.962 0.965"/><feFuncB type="table" tableValues="0.659 0.666 0.673 0.680 0.687 0.694 0.701 0.708 0.715 0.722 0.729 0.738 0.747 0.755 0.764 0.773 0.781 0.790 0.798 0.807 0.816 0.825 0.834 0.844 0.853 0.862 0.872 0.881 0.890 0.905 0.922 0.940 0.958 0.975 0.978 0.975 0.973 0.970 0.967 0.960 0.943 0.927 0.911 0.894 0.875 0.856 0.838 0.819 0.800 0.783 0.765 0.748 0.730 0.705 0.671 0.638 0.606 0.576 0.546 0.516 0.453 0.381 0.322 0.269 0.217 0.214 0.228 0.235 0.235 0.187 0.183 0.179 0.176 0.172 0.168 0.164 0.161 0.157 0.153 0.150 0.146 0.143 0.139 0.136 0.132 0.129 0.125 0.124 0.123 0.122 0.121 0.120 0.119 0.118 0.117 0.115 0.114 0.113 0.112 0.111 0.110"/></feComponentTransfer></filter>
<linearGradient id="vg6" x1="0" y1="0" x2="0" y2="1"><stop offset="0.000" stop-color="#858585"/><stop offset="0.500" stop-color="#808080"/><stop offset="1.000" stop-color="#787878"/></linearGradient>
<clipPath id="cp20"><rect x="1580.8" y="1513.1" width="270.2" height="337.7"/></clipPath>
<filter id="hm10" filterUnits="userSpaceOnUse" x="1550.8" y="1483.1" width="330.2" height="397.7" color-interpolation-filters="sRGB"><feTurbulence type="fractalNoise" baseFrequency="0.15" numOctaves="1" seed="61" result="n"/><feColorMatrix in="n" type="matrix" values="1 0 0 0 0  1 0 0 0 0  1 0 0 0 0  0 0 0 0 1" result="ng"/><feComposite in="SourceGraphic" in2="ng" operator="arithmetic" k1="0" k2="1" k3="0.22" k4="-0.110" result="v"/><feComponentTransfer><feFuncR type="table" tableValues="0.243 0.245 0.246 0.248 0.249 0.251 0.253 0.254 0.256 0.257 0.259 0.260 0.262 0.264 0.265 0.267 0.268 0.270 0.271 0.273 0.275 0.275 0.276 0.277 0.278 0.279 0.280 0.281 0.282 0.282 0.282 0.282 0.282 0.282 0.272 0.258 0.243 0.229 0.214 0.201 0.190 0.179 0.168 0.157 0.140 0.122 0.105 0.088 0.071 0.072 0.074 0.076 0.078 0.096 0.131 0.166 0.198 0.228 0.258 0.288 0.387 0.503 0.590 0.659 0.728 0.810 0.898 0.959 0.996 0.987 0.986 0.984 0.982 0.980 0.978 0.976 0.974 0.973 0.972 0.971 0.970 0.969 0.968 0.967 0.966 0.966 0.965 0.965 0.965 0.965 0.965 0.965 0.965 0.965 0.965 0.965 0.965 0.965 0.965 0.965 0.965"/><feFuncG type="table" tableValues="0.149 0.152 0.155 0.158 0.162 0.165 0.168 0.171 0.174 0.177 0.180 0.184 0.188 0.192 0.196 0.200 0.204 0.208 0.212 0.216 0.220 0.224 0.229 0.234 0.238 0.243 0.248 0.252 0.257 0.271 0.292 0.313 0.334 0.355 0.379 0.405 0.431 0.458 0.484 0.509 0.530 0.552 0.574 0.596 0.615 0.634 0.653 0.671 0.690 0.699 0.708 0.716 0.725 0.736 0.748 0.761 0.772 0.782 0.792 0.802 0.804 0.804 0.792 0.771 0.750 0.732 0.715 0.711 0.722 0.810 0.816 0.821 0.827 0.832 0.838 0.844 0.849 0.855 0.862 0.870 0.877 0.885 0.892 0.899 0.907 0.914 0.922 0.925 0.928 0.931 0.934 0.937 0.940 0.943 0.946 0.949 0.952 0.955 0.959 0.962 0.965"/><feFuncB type="table" tableValues="0.659 0.666 0.673 0.680 0.687 0.694 0.701 0.708 0.715 0.722 0.729 0.738 0.747 0.755 0.764 0.773 0.781 0.790 0.798 0.807 0.816 0.825 0.834 0.844 0.853 0.862 0.872 0.881 0.890 0.905 0.922 0.940 0.958 0.975 0.978 0.975 0.973 0.970 0.967 0.960 0.943 0.927 0.911 0.894 0.875 0.856 0.838 0.819 0.800 0.783 0.765 0.748 0.730 0.705 0.671 0.638 0.606 0.576 0.546 0.516 0.453 0.381 0.322 0.269 0.217 0.214 0.228 0.235 0.235 0.187 0.183 0.179 0.176 0.172 0.168 0.164 0.161 0.157 0.153 0.150 0.146 0.143 0.139 0.136 0.132 0.129 0.125 0.124 0.123 0.122 0.121 0.120 0.119 0.118 0.117 0.115 0.114 0.113 0.112 0.111 0.110"/></feComponentTransfer></filter>
</defs>
<rect width="2002" height="1873" fill="#fff"/>
<text transform="translate(17.1 25.9) scale(1 0.945)" font-size="35.2" font-weight="bold">Epiphysis</text>
<text transform="translate(0.9 66.4) scale(1 1.032)" font-size="47.8" stroke="#000" stroke-width="1.3">A</text>
<line x1="69.6" y1="67.4" x2="69.6" y2="452.8" stroke="#000" stroke-width="4.0"/>
<polygon points="69.6,42.8 82.6,73.2 69.6,68.4 56.6,73.2" fill="#000"/>
<text transform="translate(114.7 368.1) rotate(-90) scale(1 1.03)" font-size="35.1" font-weight="bold">Intensity(a.u.)</text>
<text transform="translate(50.3 487.4) scale(1 1.040)" font-size="34.0" font-weight="bold">GP</text>
<rect x="138.5" y="39.4" width="555.6" height="411.2" fill="none" stroke="#000" stroke-width="2.6"/>
<line x1="143.0" y1="450.6" x2="143.0" y2="455.6" stroke="#000" stroke-width="2.4"/>
<line x1="197.5" y1="450.6" x2="197.5" y2="459.1" stroke="#000" stroke-width="2.4"/>
<line x1="252.0" y1="450.6" x2="252.0" y2="455.6" stroke="#000" stroke-width="2.4"/>
<line x1="306.4" y1="450.6" x2="306.4" y2="459.1" stroke="#000" stroke-width="2.4"/>
<line x1="360.9" y1="450.6" x2="360.9" y2="455.6" stroke="#000" stroke-width="2.4"/>
<line x1="415.4" y1="450.6" x2="415.4" y2="459.1" stroke="#000" stroke-width="2.4"/>
<line x1="469.8" y1="450.6" x2="469.8" y2="455.6" stroke="#000" stroke-width="2.4"/>
<line x1="524.3" y1="450.6" x2="524.3" y2="459.1" stroke="#000" stroke-width="2.4"/>
<line x1="578.8" y1="450.6" x2="578.8" y2="455.6" stroke="#000" stroke-width="2.4"/>
<line x1="633.3" y1="450.6" x2="633.3" y2="459.1" stroke="#000" stroke-width="2.4"/>
<line x1="687.7" y1="450.6" x2="687.7" y2="455.6" stroke="#000" stroke-width="2.4"/>
<text transform="translate(177.2 486.9) scale(1 0.950)" font-size="25.8" stroke="#000" stroke-width="0.8">400</text>
<text transform="translate(284.1 486.9) scale(1 0.918)" font-size="26.7" stroke="#000" stroke-width="0.8">600</text>
<text transform="translate(397.6 486.9) scale(1 0.971)" font-size="25.3" stroke="#000" stroke-width="0.8">800</text>
<text transform="translate(494.1 486.9) scale(1 0.927)" font-size="26.4" stroke="#000" stroke-width="0.8">1000</text>
<text transform="translate(604.7 486.9) scale(1 0.932)" font-size="26.3" stroke="#000" stroke-width="0.8">1200</text>
<text transform="translate(273.3 519.6) scale(1 1.020)" font-size="35.2" font-weight="bold">Raman Shift(cm<tspan font-size="23.2" dy="-14.1">-1</tspan><tspan dy="14.1">)</tspan></text>
<text transform="translate(179.6 69.8) scale(1 1.040)" font-size="26.2" font-weight="bold"><tspan font-style="italic">v</tspan><tspan font-size="17.3" dy="6.5">2</tspan><tspan dy="-6.5">PO</tspan><tspan font-size="17.3" dy="6.5">4</tspan><tspan font-size="17.3" dy="-13.1">3-</tspan></text>
<text transform="translate(279.6 69.8) scale(1 1.040)" font-size="26.2" font-weight="bold"><tspan font-style="italic">v</tspan><tspan font-size="17.3" dy="6.5">4</tspan><tspan dy="-6.5">PO</tspan><tspan font-size="17.3" dy="6.5">4</tspan><tspan font-size="17.3" dy="-13.1">3-</tspan></text>
<text transform="translate(400.2 69.8) scale(1 1.040)" font-size="26.2" font-weight="bold"><tspan font-style="italic">v</tspan><tspan font-size="17.3" dy="6.5">1</tspan><tspan dy="-6.5">PO</tspan><tspan font-size="17.3" dy="6.5">4</tspan><tspan font-size="17.3" dy="-13.1">3-</tspan></text>
<text transform="translate(557.1 69.8) scale(1 1.040)" font-size="26.2" font-weight="bold"><tspan font-style="italic">v</tspan><tspan font-size="17.3" dy="6.5">1</tspan><tspan dy="-6.5">CO</tspan><tspan font-size="17.3" dy="6.5">3</tspan><tspan font-size="17.3" dy="-13.1">2-</tspan></text>
<line x1="221.4" y1="78.0" x2="221.4" y2="449.0" stroke="#000" stroke-width="2.9" stroke-dasharray="6.4 6.3"/>
<line x1="301.2" y1="78.0" x2="301.2" y2="449.0" stroke="#000" stroke-width="2.9" stroke-dasharray="6.4 6.3"/>
<line x1="503.9" y1="43.0" x2="503.9" y2="449.0" stroke="#000" stroke-width="2.9" stroke-dasharray="6.4 6.3"/>
<line x1="565.3" y1="80.5" x2="565.3" y2="449.0" stroke="#000" stroke-width="2.9" stroke-dasharray="6.4 6.3"/>
<polyline points="144.7,414.7 145.8,414.0 146.8,414.7 147.9,414.0 149.0,414.8 150.1,414.1 151.2,413.1 152.3,413.6 153.4,412.6 154.5,413.9 155.6,414.0 156.6,414.3 157.7,414.0 158.8,413.4 159.9,414.5 161.0,415.0 162.1,415.2 163.2,414.9 164.3,412.8 165.4,413.2 166.5,413.7 167.5,413.8 168.6,414.0 169.7,413.9 170.8,413.2 171.9,413.4 173.0,413.5 174.1,413.4 175.2,413.1 176.3,413.7 177.3,413.6 178.4,413.1 179.5,413.3 180.6,413.5 181.7,413.8 182.8,414.6 183.9,413.8 185.0,413.1 186.1,412.9 187.2,413.0 188.2,412.3 189.3,412.9 190.4,412.7 191.5,412.5 192.6,411.2 193.7,411.8 194.8,412.3 195.9,412.5 197.0,411.8 198.0,411.9 199.1,412.2 200.2,411.6 201.3,412.9 202.4,412.3 203.5,411.5 204.6,411.7 205.7,412.3 206.8,411.4 207.8,411.2 208.9,411.7 210.0,410.4 211.1,410.6 212.2,410.7 213.3,411.3 214.4,410.6 215.5,410.4 216.6,411.8 217.7,411.9 218.7,411.4 219.8,411.0 220.9,411.5 222.0,411.2 223.1,411.7 224.2,412.1 225.3,411.2 226.4,412.0 227.5,412.0 228.5,411.1 229.6,412.7 230.7,412.1 231.8,413.5 232.9,413.6 234.0,412.6 235.1,413.2 236.2,413.6 237.3,413.8 238.4,414.2 239.4,413.5 240.5,414.5 241.6,414.1 242.7,414.8 243.8,415.4 244.9,414.4 246.0,413.5 247.1,414.4 248.2,415.0 249.2,415.9 250.3,414.6 251.4,414.1 252.5,414.9 253.6,415.3 254.7,416.4 255.8,415.9 256.9,415.6 258.0,415.2 259.1,414.6 260.1,415.7 261.2,415.5 262.3,414.7 263.4,414.6 264.5,414.5 265.6,415.2 266.7,414.5 267.8,414.4 268.9,415.4 269.9,415.3 271.0,415.6 272.1,415.0 273.2,415.5 274.3,415.2 275.4,414.3 276.5,414.3 277.6,414.3 278.7,414.7 279.7,414.6 280.8,414.1 281.9,414.2 283.0,414.0 284.1,413.9 285.2,414.4 286.3,414.9 287.4,414.4 288.5,414.6 289.6,414.8 290.6,413.9 291.7,414.2 292.8,414.0 293.9,414.3 295.0,414.9 296.1,414.9 297.2,414.2 298.3,413.3 299.4,413.0 300.4,414.4 301.5,414.4 302.6,413.6 303.7,413.3 304.8,414.0 305.9,414.6 307.0,415.3 308.1,414.4 309.2,413.1 310.3,414.7 311.3,414.8 312.4,414.4 313.5,413.8 314.6,415.0 315.7,414.9 316.8,414.7 317.9,414.6 319.0,414.8 320.1,414.4 321.1,415.2 322.2,414.6 323.3,414.1 324.4,414.2 325.5,414.1 326.6,414.2 327.7,414.8 328.8,414.4 329.9,414.5 331.0,414.2 332.0,413.9 333.1,413.6 334.2,414.4 335.3,415.1 336.4,414.9 337.5,414.2 338.6,415.0 339.7,415.3 340.8,415.0 341.8,415.4 342.9,414.0 344.0,414.2 345.1,413.8 346.2,414.0 347.3,414.8 348.4,414.2 349.5,414.2 350.6,414.3 351.7,414.2 352.7,414.6 353.8,414.8 354.9,413.7 356.0,413.4 357.1,413.6 358.2,414.3 359.3,414.4 360.4,414.4 361.5,413.7 362.5,414.2 363.6,413.8 364.7,413.7 365.8,414.2 366.9,414.0 368.0,414.2 369.1,413.0 370.2,413.0 371.3,412.7 372.3,412.8 373.4,412.7 374.5,412.9 375.6,413.6 376.7,413.1 377.8,414.1 378.9,413.7 380.0,414.7 381.1,415.2 382.2,414.6 383.2,414.3 384.3,415.0 385.4,415.0 386.5,414.6 387.6,414.2 388.7,414.5 389.8,413.5 390.9,415.0 392.0,415.1 393.0,415.5 394.1,415.3 395.2,415.8 396.3,415.1 397.4,415.4 398.5,415.1 399.6,415.3 400.7,414.8 401.8,415.7 402.9,416.2 403.9,416.7 405.0,415.5 406.1,415.4 407.2,415.8 408.3,415.8 409.4,415.3 410.5,416.3 411.6,416.4 412.7,416.5 413.7,416.6 414.8,415.9 415.9,416.7 417.0,415.9 418.1,416.2 419.2,416.5 420.3,416.8 421.4,415.6 422.5,416.2 423.6,416.0 424.6,416.8 425.7,416.2 426.8,415.6 427.9,415.7 429.0,415.2 430.1,415.8 431.2,414.8 432.3,414.2 433.4,414.5 434.4,415.5 435.5,414.0 436.6,413.8 437.7,413.6 438.8,413.9 439.9,413.4 441.0,414.2 442.1,414.0 443.2,414.2 444.2,413.6 445.3,413.3 446.4,413.1 447.5,412.5 448.6,413.4 449.7,413.3 450.8,412.1 451.9,411.7 453.0,413.0 454.1,412.9 455.1,414.4 456.2,414.3 457.3,413.2 458.4,413.8 459.5,414.5 460.6,414.2 461.7,414.4 462.8,414.9 463.9,414.8 464.9,415.0 466.0,414.7 467.1,413.3 468.2,414.0 469.3,413.1 470.4,413.8 471.5,414.2 472.6,414.7 473.7,415.3 474.8,415.0 475.8,414.3 476.9,413.5 478.0,413.7 479.1,413.8 480.2,414.2 481.3,414.3 482.4,413.4 483.5,414.4 484.6,414.4 485.6,413.8 486.7,414.0 487.8,413.6 488.9,413.6 490.0,413.7 491.1,414.0 492.2,413.7 493.3,414.8 494.4,414.0 495.5,413.6 496.5,413.0 497.6,410.7 498.7,409.6 499.8,409.1 500.9,407.9 502.0,406.7 503.1,405.8 504.2,405.8 505.3,407.4 506.3,408.7 507.4,410.2 508.5,411.2 509.6,412.3 510.7,411.9 511.8,412.4 512.9,413.2 514.0,413.7 515.1,413.0 516.1,413.4 517.2,413.9 518.3,414.2 519.4,413.5 520.5,413.5 521.6,413.4 522.7,412.8 523.8,412.5 524.9,411.3 526.0,411.7 527.0,411.7 528.1,412.8 529.2,414.3 530.3,413.9 531.4,414.3 532.5,413.5 533.6,413.0 534.7,413.7 535.8,413.3 536.8,414.3 537.9,414.2 539.0,413.1 540.1,413.9 541.2,414.0 542.3,413.4 543.4,413.4 544.5,413.3 545.6,413.4 546.7,413.2 547.7,414.5 548.8,414.3 549.9,414.5 551.0,414.9 552.1,414.9 553.2,414.3 554.3,414.0 555.4,413.3 556.5,412.5 557.5,412.7 558.6,412.1 559.7,413.3 560.8,412.5 561.9,411.9 563.0,411.5 564.1,411.9 565.2,411.7 566.3,411.4 567.4,412.0 568.4,412.3 569.5,412.4 570.6,412.3 571.7,414.1 572.8,414.1 573.9,412.5 575.0,413.0 576.1,414.0 577.2,413.6 578.2,413.8 579.3,413.1 580.4,413.8 581.5,414.0 582.6,413.7 583.7,413.8 584.8,413.5 585.9,415.2 587.0,414.7 588.0,413.7 589.1,413.0 590.2,413.3 591.3,413.5 592.4,414.1 593.5,414.9 594.6,414.1 595.7,414.3 596.8,414.6 597.9,414.7 598.9,414.8 600.0,415.7 601.1,414.7 602.2,414.9 603.3,414.4 604.4,415.4 605.5,415.3 606.6,414.5 607.7,415.6 608.7,414.9 609.8,414.2 610.9,414.6 612.0,415.2 613.1,413.4 614.2,414.0 615.3,414.8 616.4,415.1 617.5,414.8 618.6,415.0 619.6,414.5 620.7,414.5 621.8,413.8 622.9,414.3 624.0,414.3 625.1,414.1 626.2,414.8 627.3,414.3 628.4,414.1 629.4,413.9 630.5,413.9 631.6,414.2 632.7,413.8 633.8,414.7 634.9,414.6 636.0,414.7 637.1,414.5 638.2,414.8 639.3,413.5 640.3,414.2 641.4,413.6 642.5,413.9 643.6,413.2 644.7,414.1 645.8,413.6 646.9,412.7 648.0,412.4 649.1,412.8 650.1,412.0 651.2,411.5 652.3,412.3 653.4,411.4 654.5,411.8 655.6,411.3 656.7,412.2 657.8,412.0 658.9,411.7 660.0,410.0 661.0,409.3 662.1,410.6 663.2,411.1 664.3,410.0 665.4,410.6 666.5,410.3 667.6,410.9 668.7,411.0 669.8,411.3 670.8,411.8 671.9,411.6 673.0,410.7 674.1,411.9 675.2,412.9 676.3,413.3 677.4,413.1 678.5,412.7 679.6,412.3 680.6,412.9 681.7,413.4 682.8,413.7 683.9,413.6 685.0,413.6 686.1,412.9 687.2,413.7" fill="none" stroke="#555555" stroke-width="2.2" stroke-linejoin="round" stroke-linecap="round"/>
<polyline points="144.7,358.6 145.8,358.5 146.8,357.7 147.9,357.7 149.0,358.1 150.1,358.8 151.2,357.9 152.3,356.9 153.4,356.2 154.5,356.0 155.6,356.8 156.6,357.0 157.7,355.9 158.8,356.7 159.9,355.8 161.0,356.0 162.1,356.1 163.2,356.9 164.3,357.1 165.4,356.4 166.5,357.0 167.5,357.5 168.6,357.3 169.7,357.8 170.8,357.0 171.9,357.4 173.0,357.9 174.1,357.4 175.2,357.7 176.3,357.5 177.3,356.6 178.4,357.5 179.5,357.2 180.6,357.7 181.7,356.7 182.8,356.2 183.9,356.0 185.0,356.5 186.1,355.9 187.2,355.9 188.2,357.3 189.3,358.0 190.4,356.2 191.5,356.2 192.6,356.4 193.7,355.9 194.8,356.2 195.9,356.2 197.0,355.5 198.0,354.1 199.1,355.3 200.2,355.8 201.3,355.7 202.4,355.5 203.5,356.3 204.6,355.6 205.7,355.2 206.8,355.1 207.8,354.7 208.9,355.4 210.0,355.1 211.1,354.8 212.2,355.2 213.3,354.0 214.4,354.5 215.5,355.6 216.6,355.8 217.7,354.3 218.7,354.7 219.8,356.1 220.9,355.8 222.0,355.9 223.1,356.1 224.2,355.2 225.3,355.1 226.4,355.2 227.5,356.9 228.5,357.1 229.6,357.3 230.7,356.6 231.8,357.7 232.9,357.1 234.0,357.6 235.1,357.5 236.2,357.7 237.3,357.4 238.4,357.5 239.4,357.7 240.5,357.3 241.6,357.0 242.7,357.7 243.8,358.2 244.9,358.0 246.0,358.0 247.1,358.2 248.2,357.8 249.2,357.3 250.3,358.3 251.4,357.5 252.5,358.6 253.6,358.0 254.7,357.6 255.8,357.5 256.9,357.9 258.0,358.5 259.1,357.8 260.1,358.4 261.2,358.7 262.3,359.1 263.4,358.9 264.5,358.3 265.6,358.2 266.7,358.2 267.8,357.7 268.9,358.6 269.9,358.0 271.0,357.4 272.1,357.5 273.2,357.8 274.3,358.4 275.4,358.6 276.5,358.6 277.6,358.2 278.7,357.9 279.7,357.3 280.8,356.5 281.9,356.6 283.0,357.5 284.1,357.5 285.2,357.0 286.3,356.6 287.4,356.4 288.5,356.4 289.6,356.0 290.6,356.3 291.7,356.0 292.8,355.9 293.9,355.4 295.0,356.4 296.1,357.0 297.2,356.6 298.3,357.0 299.4,357.3 300.4,357.4 301.5,357.2 302.6,356.6 303.7,356.5 304.8,356.2 305.9,357.1 307.0,358.1 308.1,357.8 309.2,357.5 310.3,357.4 311.3,357.2 312.4,356.7 313.5,358.5 314.6,357.5 315.7,357.7 316.8,357.3 317.9,357.9 319.0,358.0 320.1,358.4 321.1,358.2 322.2,359.3 323.3,358.0 324.4,357.8 325.5,358.0 326.6,358.8 327.7,358.1 328.8,358.9 329.9,358.4 331.0,358.5 332.0,357.8 333.1,358.5 334.2,359.2 335.3,359.1 336.4,359.2 337.5,358.2 338.6,357.6 339.7,357.8 340.8,357.2 341.8,357.9 342.9,358.7 344.0,359.0 345.1,358.7 346.2,357.9 347.3,358.6 348.4,358.0 349.5,357.7 350.6,358.0 351.7,357.5 352.7,357.8 353.8,358.1 354.9,358.0 356.0,358.0 357.1,357.5 358.2,356.7 359.3,356.7 360.4,356.8 361.5,356.8 362.5,357.5 363.6,357.9 364.7,357.0 365.8,356.7 366.9,357.4 368.0,357.8 369.1,357.3 370.2,357.5 371.3,358.0 372.3,358.0 373.4,357.8 374.5,357.2 375.6,358.3 376.7,357.8 377.8,357.7 378.9,358.0 380.0,358.1 381.1,357.9 382.2,358.1 383.2,357.3 384.3,358.0 385.4,359.2 386.5,358.5 387.6,358.0 388.7,357.9 389.8,358.5 390.9,358.1 392.0,359.5 393.0,359.1 394.1,358.9 395.2,359.2 396.3,358.9 397.4,359.6 398.5,359.0 399.6,359.4 400.7,358.2 401.8,359.3 402.9,359.0 403.9,359.9 405.0,359.6 406.1,359.5 407.2,359.6 408.3,361.2 409.4,360.4 410.5,360.1 411.6,361.0 412.7,361.3 413.7,361.2 414.8,360.7 415.9,360.3 417.0,359.9 418.1,360.2 419.2,359.5 420.3,359.0 421.4,358.8 422.5,359.0 423.6,359.7 424.6,360.5 425.7,360.4 426.8,360.3 427.9,360.3 429.0,360.0 430.1,360.4 431.2,359.5 432.3,359.8 433.4,360.3 434.4,361.3 435.5,360.0 436.6,359.4 437.7,359.1 438.8,359.1 439.9,359.3 441.0,358.6 442.1,358.1 443.2,357.5 444.2,357.4 445.3,356.7 446.4,358.1 447.5,357.9 448.6,357.0 449.7,358.0 450.8,357.9 451.9,357.9 453.0,359.1 454.1,358.2 455.1,358.8 456.2,358.8 457.3,357.9 458.4,358.9 459.5,358.5 460.6,358.9 461.7,358.5 462.8,358.0 463.9,358.4 464.9,358.6 466.0,358.7 467.1,357.5 468.2,357.1 469.3,357.6 470.4,358.0 471.5,358.0 472.6,357.5 473.7,357.7 474.8,357.5 475.8,356.4 476.9,357.7 478.0,357.9 479.1,357.2 480.2,357.2 481.3,357.3 482.4,356.9 483.5,356.9 484.6,356.5 485.6,355.7 486.7,356.6 487.8,355.7 488.9,355.8 490.0,356.9 491.1,356.3 492.2,355.9 493.3,355.7 494.4,355.1 495.5,355.2 496.5,353.4 497.6,351.5 498.7,349.8 499.8,347.6 500.9,345.9 502.0,343.9 503.1,342.9 504.2,343.3 505.3,344.1 506.3,345.9 507.4,348.7 508.5,351.8 509.6,353.5 510.7,352.5 511.8,353.3 512.9,355.0 514.0,355.1 515.1,355.4 516.1,355.5 517.2,355.1 518.3,356.0 519.4,355.6 520.5,356.2 521.6,356.3 522.7,355.9 523.8,356.3 524.9,355.6 526.0,354.7 527.0,355.3 528.1,355.8 529.2,356.6 530.3,356.8 531.4,356.6 532.5,356.0 533.6,356.2 534.7,356.8 535.8,356.6 536.8,355.9 537.9,356.0 539.0,354.9 540.1,356.1 541.2,356.1 542.3,356.1 543.4,355.4 544.5,356.0 545.6,356.2 546.7,356.0 547.7,355.5 548.8,355.7 549.9,356.1 551.0,356.5 552.1,355.9 553.2,356.2 554.3,355.5 555.4,355.3 556.5,355.4 557.5,355.6 558.6,356.0 559.7,354.9 560.8,354.7 561.9,354.2 563.0,353.3 564.1,353.5 565.2,353.4 566.3,354.6 567.4,356.0 568.4,356.2 569.5,357.3 570.6,358.1 571.7,357.4 572.8,357.9 573.9,357.7 575.0,358.7 576.1,358.1 577.2,357.6 578.2,357.3 579.3,357.3 580.4,357.3 581.5,358.0 582.6,357.3 583.7,357.9 584.8,358.4 585.9,356.8 587.0,356.1 588.0,355.7 589.1,356.7 590.2,357.6 591.3,358.4 592.4,358.9 593.5,358.5 594.6,359.0 595.7,358.4 596.8,358.8 597.9,358.0 598.9,357.0 600.0,357.1 601.1,357.8 602.2,358.7 603.3,358.6 604.4,357.0 605.5,356.8 606.6,357.7 607.7,358.6 608.7,358.1 609.8,357.8 610.9,358.5 612.0,358.4 613.1,358.6 614.2,358.8 615.3,359.2 616.4,359.0 617.5,358.4 618.6,358.3 619.6,358.6 620.7,358.4 621.8,358.7 622.9,358.2 624.0,357.9 625.1,358.8 626.2,358.5 627.3,357.5 628.4,358.7 629.4,358.5 630.5,357.0 631.6,357.2 632.7,358.3 633.8,358.4 634.9,358.4 636.0,359.0 637.1,358.4 638.2,357.7 639.3,358.1 640.3,358.0 641.4,357.5 642.5,357.7 643.6,358.2 644.7,357.7 645.8,357.6 646.9,357.1 648.0,356.2 649.1,356.6 650.1,357.3 651.2,356.3 652.3,355.9 653.4,356.2 654.5,356.3 655.6,356.0 656.7,357.2 657.8,356.4 658.9,356.5 660.0,356.2 661.0,355.5 662.1,355.1 663.2,355.2 664.3,355.4 665.4,355.8 666.5,355.9 667.6,355.1 668.7,355.6 669.8,356.1 670.8,356.4 671.9,357.5 673.0,357.9 674.1,357.0 675.2,357.1 676.3,357.5 677.4,357.5 678.5,357.7 679.6,357.6 680.6,358.0 681.7,358.5 682.8,358.7 683.9,358.0 685.0,358.7 686.1,358.8 687.2,359.1" fill="none" stroke="#ee4450" stroke-width="2.2" stroke-linejoin="round" stroke-linecap="round"/>
<polyline points="144.7,300.9 145.8,301.6 146.8,301.2 147.9,300.8 149.0,301.0 150.1,301.4 151.2,301.2 152.3,300.9 153.4,300.6 154.5,300.0 155.6,300.4 156.6,300.6 157.7,300.2 158.8,300.5 159.9,301.6 161.0,301.9 162.1,301.7 163.2,301.4 164.3,301.0 165.4,300.4 166.5,301.6 167.5,300.7 168.6,301.1 169.7,300.7 170.8,300.5 171.9,301.1 173.0,300.3 174.1,300.3 175.2,300.0 176.3,299.4 177.3,299.3 178.4,300.4 179.5,300.2 180.6,300.4 181.7,300.9 182.8,301.5 183.9,300.6 185.0,300.1 186.1,300.6 187.2,299.2 188.2,300.3 189.3,299.7 190.4,300.4 191.5,300.4 192.6,300.1 193.7,299.1 194.8,298.7 195.9,298.1 197.0,299.1 198.0,298.4 199.1,298.6 200.2,296.8 201.3,297.2 202.4,297.5 203.5,297.1 204.6,297.8 205.7,297.1 206.8,298.5 207.8,298.5 208.9,298.1 210.0,297.1 211.1,296.6 212.2,296.7 213.3,296.7 214.4,297.4 215.5,297.2 216.6,296.9 217.7,296.5 218.7,296.0 219.8,296.6 220.9,297.0 222.0,297.9 223.1,297.8 224.2,298.0 225.3,297.8 226.4,298.0 227.5,298.3 228.5,298.2 229.6,298.7 230.7,298.1 231.8,298.2 232.9,298.0 234.0,298.9 235.1,299.5 236.2,299.1 237.3,299.3 238.4,300.1 239.4,300.3 240.5,299.7 241.6,300.7 242.7,301.7 243.8,301.6 244.9,301.9 246.0,301.2 247.1,300.5 248.2,300.6 249.2,300.8 250.3,300.8 251.4,300.6 252.5,300.8 253.6,301.5 254.7,300.5 255.8,301.4 256.9,301.2 258.0,301.3 259.1,300.8 260.1,300.4 261.2,300.6 262.3,300.8 263.4,300.4 264.5,300.9 265.6,300.3 266.7,300.1 267.8,299.4 268.9,300.2 269.9,301.3 271.0,301.1 272.1,300.9 273.2,300.1 274.3,299.0 275.4,299.2 276.5,299.9 277.6,299.6 278.7,300.7 279.7,299.9 280.8,300.2 281.9,299.9 283.0,299.7 284.1,299.6 285.2,299.0 286.3,299.0 287.4,299.9 288.5,299.4 289.6,298.7 290.6,299.0 291.7,299.0 292.8,299.3 293.9,298.6 295.0,297.7 296.1,297.6 297.2,298.1 298.3,299.0 299.4,299.6 300.4,298.7 301.5,299.2 302.6,299.9 303.7,300.6 304.8,300.0 305.9,299.9 307.0,300.6 308.1,300.1 309.2,299.9 310.3,301.2 311.3,301.5 312.4,300.8 313.5,301.6 314.6,301.6 315.7,302.1 316.8,302.7 317.9,301.9 319.0,301.4 320.1,301.5 321.1,300.6 322.2,300.7 323.3,300.6 324.4,300.4 325.5,300.1 326.6,300.3 327.7,299.7 328.8,299.8 329.9,301.4 331.0,301.8 332.0,302.1 333.1,301.7 334.2,300.9 335.3,301.8 336.4,301.7 337.5,302.0 338.6,302.1 339.7,301.8 340.8,302.8 341.8,302.1 342.9,301.0 344.0,300.3 345.1,300.3 346.2,300.6 347.3,300.9 348.4,301.2 349.5,301.5 350.6,302.0 351.7,301.4 352.7,301.2 353.8,301.0 354.9,300.1 356.0,300.5 357.1,301.0 358.2,300.4 359.3,300.6 360.4,300.7 361.5,301.2 362.5,301.1 363.6,301.2 364.7,302.2 365.8,301.8 366.9,301.7 368.0,302.6 369.1,302.5 370.2,301.1 371.3,301.4 372.3,301.2 373.4,301.7 374.5,301.9 375.6,301.6 376.7,302.3 377.8,302.3 378.9,301.7 380.0,302.2 381.1,302.0 382.2,303.1 383.2,302.1 384.3,302.4 385.4,302.3 386.5,302.5 387.6,302.8 388.7,303.3 389.8,303.2 390.9,303.1 392.0,303.3 393.0,303.5 394.1,304.0 395.2,302.3 396.3,301.1 397.4,302.3 398.5,302.0 399.6,302.5 400.7,302.6 401.8,302.6 402.9,303.5 403.9,302.8 405.0,301.7 406.1,301.7 407.2,303.3 408.3,302.0 409.4,302.1 410.5,302.5 411.6,303.2 412.7,303.3 413.7,303.3 414.8,303.2 415.9,303.0 417.0,303.1 418.1,303.0 419.2,302.0 420.3,302.8 421.4,304.0 422.5,302.9 423.6,303.2 424.6,302.7 425.7,303.6 426.8,303.5 427.9,302.3 429.0,302.7 430.1,302.9 431.2,302.7 432.3,302.5 433.4,302.6 434.4,303.0 435.5,302.3 436.6,302.3 437.7,301.8 438.8,301.4 439.9,300.4 441.0,301.2 442.1,300.7 443.2,300.8 444.2,299.7 445.3,300.0 446.4,300.0 447.5,300.4 448.6,301.3 449.7,300.6 450.8,300.4 451.9,301.0 453.0,301.8 454.1,301.9 455.1,302.0 456.2,301.8 457.3,301.4 458.4,301.3 459.5,301.7 460.6,302.4 461.7,302.0 462.8,301.9 463.9,301.2 464.9,301.3 466.0,301.2 467.1,301.6 468.2,301.3 469.3,301.2 470.4,300.4 471.5,300.5 472.6,300.4 473.7,300.2 474.8,300.3 475.8,300.6 476.9,300.5 478.0,300.4 479.1,299.9 480.2,300.3 481.3,300.1 482.4,300.3 483.5,299.0 484.6,299.1 485.6,299.5 486.7,299.2 487.8,299.3 488.9,299.2 490.0,298.3 491.1,297.8 492.2,297.6 493.3,297.0 494.4,296.1 495.5,294.3 496.5,292.6 497.6,289.2 498.7,285.7 499.8,281.7 500.9,277.4 502.0,274.3 503.1,273.2 504.2,274.7 505.3,278.0 506.3,282.1 507.4,286.1 508.5,289.6 509.6,292.5 510.7,294.2 511.8,296.0 512.9,297.3 514.0,297.9 515.1,298.5 516.1,298.4 517.2,298.2 518.3,297.9 519.4,298.2 520.5,298.6 521.6,298.6 522.7,299.1 523.8,298.3 524.9,297.3 526.0,297.1 527.0,297.5 528.1,298.1 529.2,298.9 530.3,299.3 531.4,299.1 532.5,299.0 533.6,298.7 534.7,299.6 535.8,299.2 536.8,299.2 537.9,298.4 539.0,298.9 540.1,298.8 541.2,298.6 542.3,298.5 543.4,298.4 544.5,298.6 545.6,297.9 546.7,296.9 547.7,297.5 548.8,297.8 549.9,298.3 551.0,298.4 552.1,298.3 553.2,297.4 554.3,297.0 555.4,297.5 556.5,297.9 557.5,297.2 558.6,296.8 559.7,295.8 560.8,295.0 561.9,295.0 563.0,294.6 564.1,294.2 565.2,294.6 566.3,296.1 567.4,296.3 568.4,297.1 569.5,297.2 570.6,298.1 571.7,299.1 572.8,298.3 573.9,299.2 575.0,299.1 576.1,299.2 577.2,300.3 578.2,300.1 579.3,299.9 580.4,299.5 581.5,299.9 582.6,299.1 583.7,299.4 584.8,299.9 585.9,300.5 587.0,301.3 588.0,300.6 589.1,300.2 590.2,301.5 591.3,301.0 592.4,301.0 593.5,301.5 594.6,301.7 595.7,301.3 596.8,302.2 597.9,302.1 598.9,302.5 600.0,301.9 601.1,300.8 602.2,300.6 603.3,302.3 604.4,302.4 605.5,301.4 606.6,302.0 607.7,301.8 608.7,302.6 609.8,302.1 610.9,302.0 612.0,302.5 613.1,302.7 614.2,302.6 615.3,302.8 616.4,302.2 617.5,303.4 618.6,302.4 619.6,302.3 620.7,302.2 621.8,301.7 622.9,302.1 624.0,302.9 625.1,302.5 626.2,301.4 627.3,301.4 628.4,301.4 629.4,300.8 630.5,301.9 631.6,301.7 632.7,300.7 633.8,300.4 634.9,301.6 636.0,301.8 637.1,301.3 638.2,301.5 639.3,301.4 640.3,301.0 641.4,301.8 642.5,301.1 643.6,301.3 644.7,301.1 645.8,301.3 646.9,300.6 648.0,301.1 649.1,301.2 650.1,300.8 651.2,300.0 652.3,300.8 653.4,300.5 654.5,300.7 655.6,301.1 656.7,300.7 657.8,300.7 658.9,301.0 660.0,299.7 661.0,298.4 662.1,298.5 663.2,300.6 664.3,300.2 665.4,299.6 666.5,300.4 667.6,300.3 668.7,300.7 669.8,302.3 670.8,301.1 671.9,301.0 673.0,301.2 674.1,300.0 675.2,301.5 676.3,301.0 677.4,301.8 678.5,301.0 679.6,301.6 680.6,301.3 681.7,300.9 682.8,299.9 683.9,300.1 685.0,299.3 686.1,298.9 687.2,300.8" fill="none" stroke="#1763dc" stroke-width="2.2" stroke-linejoin="round" stroke-linecap="round"/>
<polyline points="144.7,245.1 145.8,246.5 146.8,246.2 147.9,246.4 149.0,246.3 150.1,246.6 151.2,245.8 152.3,245.4 153.4,245.3 154.5,245.6 155.6,246.4 156.6,245.4 157.7,244.9 158.8,244.8 159.9,244.5 161.0,244.4 162.1,245.9 163.2,245.9 164.3,246.5 165.4,245.9 166.5,245.5 167.5,245.2 168.6,244.9 169.7,245.3 170.8,245.3 171.9,245.3 173.0,245.4 174.1,245.6 175.2,246.2 176.3,246.3 177.3,246.3 178.4,246.0 179.5,246.0 180.6,245.1 181.7,245.0 182.8,245.6 183.9,244.7 185.0,244.7 186.1,245.2 187.2,244.9 188.2,245.0 189.3,245.5 190.4,245.1 191.5,244.5 192.6,243.9 193.7,244.0 194.8,244.2 195.9,243.7 197.0,243.5 198.0,243.3 199.1,243.1 200.2,242.8 201.3,243.0 202.4,243.7 203.5,242.6 204.6,243.7 205.7,243.3 206.8,242.2 207.8,242.3 208.9,241.7 210.0,241.5 211.1,242.0 212.2,241.7 213.3,241.0 214.4,240.7 215.5,241.4 216.6,241.7 217.7,241.2 218.7,241.2 219.8,241.0 220.9,241.1 222.0,241.5 223.1,242.2 224.2,242.4 225.3,242.7 226.4,242.0 227.5,242.2 228.5,241.7 229.6,241.7 230.7,242.0 231.8,241.8 232.9,243.8 234.0,243.4 235.1,243.6 236.2,244.0 237.3,243.9 238.4,244.3 239.4,245.3 240.5,245.7 241.6,245.3 242.7,244.7 243.8,244.6 244.9,244.3 246.0,243.4 247.1,243.6 248.2,244.7 249.2,245.3 250.3,244.9 251.4,244.2 252.5,245.5 253.6,246.6 254.7,247.1 255.8,245.8 256.9,246.7 258.0,246.8 259.1,245.8 260.1,245.7 261.2,245.5 262.3,246.0 263.4,245.6 264.5,245.4 265.6,245.3 266.7,244.4 267.8,245.0 268.9,245.8 269.9,246.5 271.0,246.4 272.1,246.3 273.2,246.3 274.3,246.4 275.4,246.4 276.5,246.6 277.6,246.1 278.7,245.5 279.7,244.7 280.8,243.8 281.9,243.9 283.0,244.3 284.1,244.9 285.2,245.1 286.3,245.0 287.4,243.5 288.5,242.6 289.6,242.5 290.6,243.7 291.7,243.3 292.8,243.6 293.9,243.1 295.0,242.5 296.1,242.7 297.2,241.8 298.3,241.5 299.4,241.6 300.4,241.3 301.5,240.7 302.6,241.1 303.7,241.8 304.8,242.1 305.9,242.6 307.0,241.8 308.1,242.4 309.2,243.3 310.3,244.4 311.3,244.4 312.4,243.2 313.5,244.4 314.6,243.4 315.7,243.1 316.8,243.1 317.9,243.0 319.0,243.9 320.1,243.2 321.1,243.2 322.2,243.4 323.3,243.8 324.4,243.2 325.5,244.0 326.6,244.3 327.7,244.0 328.8,244.2 329.9,245.3 331.0,244.2 332.0,244.8 333.1,244.4 334.2,245.0 335.3,246.2 336.4,246.4 337.5,244.9 338.6,245.9 339.7,245.6 340.8,245.4 341.8,245.1 342.9,244.9 344.0,244.8 345.1,244.8 346.2,244.0 347.3,244.9 348.4,244.6 349.5,244.3 350.6,244.2 351.7,244.4 352.7,244.5 353.8,245.9 354.9,245.8 356.0,244.3 357.1,245.3 358.2,246.4 359.3,244.9 360.4,246.3 361.5,245.9 362.5,245.8 363.6,245.2 364.7,245.6 365.8,245.6 366.9,245.4 368.0,245.3 369.1,244.7 370.2,245.8 371.3,245.6 372.3,245.4 373.4,245.3 374.5,245.7 375.6,245.6 376.7,246.6 377.8,245.1 378.9,245.7 380.0,246.2 381.1,246.8 382.2,246.6 383.2,245.5 384.3,245.7 385.4,246.3 386.5,245.7 387.6,245.5 388.7,245.3 389.8,245.0 390.9,246.7 392.0,246.5 393.0,246.5 394.1,245.9 395.2,246.5 396.3,246.3 397.4,244.6 398.5,245.0 399.6,246.3 400.7,246.3 401.8,246.1 402.9,246.2 403.9,246.3 405.0,246.3 406.1,245.8 407.2,246.1 408.3,246.4 409.4,246.4 410.5,246.9 411.6,246.9 412.7,246.4 413.7,246.3 414.8,247.2 415.9,247.5 417.0,248.0 418.1,247.8 419.2,247.4 420.3,247.4 421.4,246.4 422.5,246.9 423.6,245.9 424.6,246.7 425.7,246.1 426.8,245.7 427.9,245.9 429.0,245.9 430.1,245.2 431.2,244.9 432.3,245.9 433.4,246.1 434.4,246.2 435.5,245.9 436.6,246.3 437.7,245.9 438.8,245.8 439.9,246.1 441.0,244.6 442.1,246.1 443.2,245.1 444.2,244.5 445.3,243.6 446.4,244.3 447.5,244.3 448.6,244.9 449.7,244.9 450.8,244.5 451.9,245.6 453.0,245.4 454.1,245.3 455.1,244.6 456.2,244.8 457.3,244.8 458.4,244.4 459.5,244.7 460.6,245.8 461.7,245.5 462.8,245.6 463.9,245.3 464.9,245.5 466.0,244.9 467.1,244.8 468.2,245.3 469.3,245.1 470.4,245.0 471.5,245.5 472.6,244.8 473.7,244.5 474.8,244.0 475.8,244.3 476.9,244.3 478.0,244.5 479.1,244.9 480.2,245.0 481.3,244.5 482.4,244.6 483.5,244.6 484.6,244.7 485.6,244.7 486.7,244.1 487.8,243.2 488.9,242.8 490.0,242.1 491.1,241.1 492.2,241.1 493.3,239.7 494.4,237.9 495.5,235.2 496.5,231.9 497.6,227.2 498.7,221.5 499.8,214.5 500.9,208.0 502.0,202.7 503.1,200.7 504.2,202.6 505.3,207.9 506.3,214.7 507.4,221.1 508.5,227.2 509.6,231.8 510.7,235.9 511.8,238.0 512.9,239.9 514.0,240.8 515.1,241.6 516.1,242.0 517.2,243.4 518.3,244.0 519.4,243.5 520.5,243.6 521.6,243.4 522.7,243.3 523.8,242.3 524.9,241.8 526.0,241.1 527.0,242.1 528.1,242.8 529.2,242.7 530.3,243.1 531.4,243.2 532.5,243.4 533.6,243.5 534.7,244.4 535.8,244.5 536.8,243.4 537.9,243.6 539.0,242.3 540.1,242.6 541.2,243.0 542.3,243.7 543.4,243.9 544.5,243.5 545.6,243.0 546.7,242.3 547.7,241.2 548.8,242.0 549.9,241.0 551.0,241.4 552.1,241.5 553.2,240.6 554.3,240.8 555.4,240.5 556.5,240.1 557.5,239.8 558.6,239.6 559.7,238.8 560.8,238.1 561.9,237.5 563.0,237.3 564.1,236.9 565.2,237.6 566.3,238.6 567.4,239.6 568.4,240.4 569.5,242.2 570.6,242.4 571.7,242.7 572.8,242.6 573.9,243.0 575.0,243.3 576.1,243.8 577.2,243.5 578.2,243.2 579.3,243.1 580.4,243.7 581.5,243.9 582.6,244.3 583.7,244.5 584.8,245.3 585.9,246.7 587.0,245.9 588.0,245.7 589.1,245.3 590.2,245.8 591.3,246.2 592.4,245.7 593.5,246.5 594.6,246.1 595.7,246.0 596.8,245.4 597.9,245.4 598.9,246.4 600.0,246.6 601.1,247.3 602.2,246.9 603.3,245.6 604.4,244.8 605.5,246.1 606.6,246.4 607.7,245.9 608.7,246.3 609.8,246.7 610.9,245.7 612.0,245.1 613.1,245.5 614.2,246.1 615.3,245.9 616.4,245.6 617.5,245.1 618.6,245.1 619.6,245.4 620.7,245.2 621.8,244.0 622.9,245.0 624.0,245.8 625.1,246.2 626.2,246.5 627.3,246.3 628.4,246.7 629.4,246.1 630.5,246.3 631.6,246.6 632.7,246.7 633.8,247.1 634.9,246.5 636.0,246.1 637.1,246.2 638.2,245.2 639.3,245.8 640.3,246.1 641.4,245.4 642.5,245.4 643.6,245.9 644.7,244.9 645.8,245.0 646.9,245.1 648.0,245.8 649.1,244.6 650.1,243.6 651.2,243.5 652.3,243.3 653.4,243.7 654.5,244.5 655.6,244.3 656.7,243.6 657.8,243.4 658.9,243.7 660.0,243.6 661.0,244.0 662.1,244.1 663.2,244.8 664.3,244.3 665.4,244.2 666.5,244.2 667.6,243.6 668.7,244.4 669.8,244.9 670.8,244.6 671.9,245.1 673.0,243.9 674.1,244.0 675.2,245.4 676.3,245.2 677.4,245.1 678.5,245.5 679.6,245.3 680.6,245.2 681.7,245.1 682.8,244.5 683.9,245.2 685.0,245.1 686.1,245.0 687.2,244.5" fill="none" stroke="#2aa563" stroke-width="2.2" stroke-linejoin="round" stroke-linecap="round"/>
<polyline points="144.7,189.6 145.8,189.7 146.8,189.6 147.9,189.3 149.0,188.9 150.1,189.4 151.2,190.0 152.3,190.1 153.4,189.7 154.5,190.1 155.6,189.8 156.6,189.9 157.7,190.2 158.8,190.7 159.9,191.6 161.0,191.4 162.1,190.3 163.2,191.7 164.3,190.9 165.4,189.8 166.5,190.5 167.5,190.3 168.6,190.1 169.7,189.9 170.8,190.8 171.9,190.9 173.0,190.7 174.1,189.8 175.2,189.6 176.3,189.5 177.3,189.3 178.4,189.6 179.5,189.0 180.6,189.5 181.7,190.0 182.8,189.4 183.9,189.7 185.0,188.6 186.1,188.8 187.2,189.6 188.2,189.3 189.3,188.2 190.4,189.1 191.5,189.0 192.6,189.2 193.7,188.9 194.8,188.8 195.9,188.7 197.0,189.0 198.0,188.8 199.1,188.1 200.2,187.2 201.3,186.6 202.4,187.0 203.5,187.1 204.6,186.2 205.7,186.1 206.8,185.9 207.8,185.4 208.9,185.2 210.0,184.5 211.1,184.0 212.2,183.2 213.3,184.0 214.4,183.9 215.5,183.5 216.6,184.0 217.7,185.2 218.7,185.3 219.8,183.9 220.9,183.5 222.0,183.7 223.1,184.9 224.2,185.1 225.3,185.0 226.4,185.6 227.5,186.4 228.5,185.7 229.6,186.2 230.7,186.1 231.8,187.3 232.9,187.6 234.0,187.6 235.1,186.5 236.2,187.8 237.3,187.3 238.4,187.4 239.4,187.9 240.5,189.4 241.6,189.0 242.7,188.9 243.8,189.3 244.9,189.0 246.0,189.8 247.1,190.1 248.2,190.4 249.2,190.4 250.3,188.9 251.4,188.9 252.5,188.7 253.6,188.9 254.7,190.5 255.8,190.8 256.9,189.9 258.0,190.8 259.1,190.9 260.1,190.8 261.2,190.4 262.3,189.6 263.4,191.0 264.5,191.0 265.6,190.1 266.7,190.0 267.8,190.5 268.9,190.5 269.9,190.0 271.0,189.2 272.1,189.2 273.2,189.0 274.3,189.1 275.4,189.0 276.5,189.4 277.6,188.2 278.7,187.8 279.7,188.3 280.8,189.0 281.9,188.7 283.0,189.3 284.1,189.4 285.2,188.3 286.3,188.2 287.4,187.5 288.5,187.7 289.6,187.2 290.6,187.4 291.7,187.3 292.8,187.6 293.9,187.0 295.0,186.5 296.1,186.1 297.2,186.0 298.3,185.6 299.4,186.8 300.4,187.3 301.5,187.1 302.6,187.4 303.7,187.3 304.8,187.5 305.9,187.8 307.0,188.5 308.1,188.7 309.2,188.7 310.3,188.1 311.3,187.3 312.4,187.4 313.5,188.6 314.6,187.7 315.7,188.6 316.8,189.0 317.9,189.5 319.0,189.3 320.1,189.1 321.1,189.2 322.2,188.9 323.3,188.2 324.4,188.7 325.5,189.4 326.6,190.5 327.7,190.9 328.8,190.8 329.9,190.6 331.0,191.0 332.0,189.7 333.1,189.9 334.2,190.5 335.3,190.6 336.4,189.9 337.5,190.2 338.6,190.6 339.7,190.3 340.8,189.4 341.8,189.6 342.9,190.0 344.0,190.8 345.1,191.2 346.2,191.3 347.3,191.2 348.4,190.0 349.5,189.9 350.6,190.2 351.7,189.6 352.7,190.0 353.8,190.7 354.9,189.7 356.0,190.5 357.1,189.2 358.2,189.7 359.3,189.9 360.4,189.7 361.5,190.7 362.5,191.9 363.6,191.4 364.7,190.4 365.8,190.5 366.9,191.3 368.0,191.4 369.1,190.9 370.2,190.3 371.3,189.8 372.3,187.5 373.4,188.2 374.5,188.7 375.6,189.3 376.7,190.0 377.8,188.9 378.9,190.0 380.0,188.9 381.1,188.8 382.2,189.4 383.2,189.9 384.3,191.3 385.4,191.1 386.5,190.2 387.6,189.8 388.7,190.2 389.8,190.8 390.9,191.0 392.0,190.4 393.0,190.8 394.1,191.1 395.2,191.2 396.3,190.6 397.4,190.9 398.5,190.5 399.6,190.9 400.7,189.5 401.8,189.2 402.9,189.4 403.9,191.1 405.0,190.8 406.1,189.9 407.2,190.7 408.3,190.2 409.4,191.5 410.5,191.0 411.6,191.1 412.7,190.5 413.7,190.7 414.8,192.0 415.9,191.0 417.0,191.0 418.1,190.7 419.2,190.5 420.3,191.6 421.4,191.6 422.5,190.6 423.6,189.9 424.6,191.4 425.7,191.0 426.8,190.5 427.9,189.5 429.0,190.0 430.1,189.5 431.2,190.1 432.3,189.1 433.4,189.1 434.4,189.0 435.5,188.5 436.6,188.3 437.7,187.6 438.8,186.9 439.9,188.0 441.0,188.4 442.1,188.3 443.2,187.1 444.2,186.8 445.3,186.9 446.4,186.6 447.5,186.4 448.6,187.8 449.7,187.8 450.8,187.5 451.9,188.2 453.0,188.7 454.1,188.7 455.1,188.3 456.2,188.6 457.3,188.7 458.4,188.9 459.5,188.9 460.6,189.1 461.7,188.7 462.8,189.2 463.9,188.2 464.9,188.1 466.0,188.2 467.1,189.0 468.2,189.1 469.3,188.6 470.4,188.3 471.5,188.4 472.6,188.5 473.7,189.0 474.8,188.0 475.8,187.4 476.9,187.7 478.0,187.3 479.1,186.6 480.2,186.9 481.3,186.3 482.4,186.1 483.5,186.2 484.6,186.2 485.6,186.0 486.7,185.1 487.8,184.8 488.9,184.6 490.0,184.7 491.1,183.4 492.2,182.3 493.3,180.9 494.4,179.0 495.5,175.4 496.5,170.4 497.6,164.1 498.7,156.0 499.8,147.3 500.9,138.1 502.0,131.0 503.1,128.6 504.2,131.5 505.3,138.5 506.3,147.4 507.4,156.3 508.5,164.0 509.6,170.4 510.7,175.2 511.8,178.7 512.9,181.5 514.0,183.0 515.1,184.2 516.1,184.7 517.2,185.1 518.3,186.2 519.4,185.9 520.5,185.9 521.6,185.9 522.7,185.7 523.8,184.9 524.9,185.0 526.0,184.2 527.0,185.4 528.1,186.0 529.2,185.6 530.3,185.6 531.4,186.1 532.5,185.8 533.6,185.9 534.7,186.8 535.8,185.6 536.8,185.3 537.9,185.6 539.0,185.4 540.1,184.6 541.2,185.1 542.3,184.7 543.4,185.1 544.5,184.6 545.6,184.3 546.7,184.1 547.7,183.0 548.8,182.5 549.9,183.2 551.0,183.6 552.1,183.7 553.2,184.1 554.3,183.8 555.4,182.4 556.5,182.4 557.5,182.3 558.6,181.7 559.7,181.1 560.8,178.7 561.9,178.2 563.0,178.3 564.1,179.2 565.2,179.8 566.3,181.1 567.4,182.6 568.4,183.9 569.5,185.1 570.6,184.1 571.7,185.5 572.8,185.9 573.9,186.6 575.0,187.2 576.1,188.4 577.2,188.1 578.2,188.2 579.3,187.7 580.4,187.5 581.5,187.1 582.6,188.3 583.7,188.6 584.8,188.7 585.9,189.2 587.0,189.3 588.0,189.6 589.1,189.6 590.2,189.7 591.3,190.0 592.4,190.1 593.5,190.4 594.6,190.0 595.7,191.1 596.8,190.8 597.9,191.6 598.9,191.6 600.0,191.0 601.1,191.4 602.2,191.0 603.3,192.1 604.4,191.8 605.5,191.6 606.6,190.7 607.7,190.8 608.7,190.7 609.8,190.7 610.9,190.7 612.0,190.8 613.1,190.9 614.2,190.6 615.3,190.7 616.4,191.2 617.5,190.2 618.6,190.7 619.6,190.8 620.7,189.8 621.8,189.9 622.9,189.6 624.0,190.4 625.1,189.9 626.2,190.1 627.3,189.6 628.4,188.6 629.4,188.8 630.5,188.9 631.6,189.4 632.7,189.6 633.8,188.9 634.9,189.1 636.0,189.1 637.1,188.6 638.2,189.5 639.3,189.1 640.3,189.2 641.4,188.3 642.5,188.9 643.6,188.8 644.7,188.9 645.8,188.8 646.9,188.9 648.0,188.3 649.1,189.3 650.1,188.4 651.2,188.1 652.3,187.8 653.4,187.3 654.5,187.1 655.6,187.2 656.7,187.2 657.8,185.8 658.9,186.0 660.0,186.2 661.0,187.0 662.1,187.2 663.2,186.6 664.3,186.5 665.4,187.1 666.5,187.5 667.6,187.7 668.7,187.2 669.8,188.1 670.8,188.4 671.9,188.0 673.0,188.8 674.1,188.8 675.2,188.5 676.3,188.3 677.4,188.7 678.5,190.3 679.6,190.9 680.6,191.5 681.7,191.0 682.8,191.6 683.9,191.5 685.0,190.5 686.1,191.6 687.2,191.9" fill="none" stroke="#b373e0" stroke-width="2.2" stroke-linejoin="round" stroke-linecap="round"/>
<polyline points="144.7,132.9 145.8,133.1 146.8,133.3 147.9,132.6 149.0,131.9 150.1,132.0 151.2,132.2 152.3,132.3 153.4,132.1 154.5,132.1 155.6,131.7 156.6,132.5 157.7,132.3 158.8,132.0 159.9,132.2 161.0,133.1 162.1,132.7 163.2,131.5 164.3,131.9 165.4,132.0 166.5,132.1 167.5,131.3 168.6,131.7 169.7,131.7 170.8,131.5 171.9,131.9 173.0,132.7 174.1,132.2 175.2,132.0 176.3,132.3 177.3,132.6 178.4,132.3 179.5,131.3 180.6,132.3 181.7,132.1 182.8,131.7 183.9,131.0 185.0,131.1 186.1,132.2 187.2,132.1 188.2,132.3 189.3,132.0 190.4,133.0 191.5,131.9 192.6,131.7 193.7,132.1 194.8,131.6 195.9,130.7 197.0,131.5 198.0,131.2 199.1,130.4 200.2,129.8 201.3,130.3 202.4,129.2 203.5,128.5 204.6,128.2 205.7,128.7 206.8,128.1 207.8,127.9 208.9,127.5 210.0,127.0 211.1,126.4 212.2,127.1 213.3,127.4 214.4,127.5 215.5,126.2 216.6,126.9 217.7,126.8 218.7,126.7 219.8,126.3 220.9,126.0 222.0,126.8 223.1,126.6 224.2,127.2 225.3,127.2 226.4,127.7 227.5,128.0 228.5,128.7 229.6,128.3 230.7,128.7 231.8,129.0 232.9,130.3 234.0,131.1 235.1,132.0 236.2,131.8 237.3,131.6 238.4,132.0 239.4,132.3 240.5,132.2 241.6,131.7 242.7,131.3 243.8,131.8 244.9,131.8 246.0,132.3 247.1,132.3 248.2,132.3 249.2,132.4 250.3,132.5 251.4,132.0 252.5,132.5 253.6,133.4 254.7,132.1 255.8,132.6 256.9,132.8 258.0,132.9 259.1,132.5 260.1,131.3 261.2,132.5 262.3,133.0 263.4,133.0 264.5,131.1 265.6,132.0 266.7,133.0 267.8,132.3 268.9,131.6 269.9,131.5 271.0,131.5 272.1,131.4 273.2,131.5 274.3,132.4 275.4,131.6 276.5,131.7 277.6,131.4 278.7,132.9 279.7,132.4 280.8,132.3 281.9,131.3 283.0,131.1 284.1,131.0 285.2,131.5 286.3,131.5 287.4,131.0 288.5,131.1 289.6,129.3 290.6,129.0 291.7,129.1 292.8,128.1 293.9,128.1 295.0,127.9 296.1,127.7 297.2,127.9 298.3,127.6 299.4,127.6 300.4,127.5 301.5,126.8 302.6,127.4 303.7,128.4 304.8,128.7 305.9,129.2 307.0,129.9 308.1,130.5 309.2,130.7 310.3,130.4 311.3,130.4 312.4,130.7 313.5,130.1 314.6,130.6 315.7,131.4 316.8,131.2 317.9,131.2 319.0,130.8 320.1,132.3 321.1,132.3 322.2,131.9 323.3,132.4 324.4,131.7 325.5,132.4 326.6,131.6 327.7,132.0 328.8,131.8 329.9,131.2 331.0,131.8 332.0,131.9 333.1,132.2 334.2,132.2 335.3,130.2 336.4,131.5 337.5,132.4 338.6,132.7 339.7,132.4 340.8,132.3 341.8,131.7 342.9,131.1 344.0,131.7 345.1,132.6 346.2,132.2 347.3,131.0 348.4,131.2 349.5,131.3 350.6,132.0 351.7,131.5 352.7,132.4 353.8,131.6 354.9,131.6 356.0,131.3 357.1,131.4 358.2,130.9 359.3,131.4 360.4,131.5 361.5,131.8 362.5,131.5 363.6,131.2 364.7,130.5 365.8,130.8 366.9,131.8 368.0,131.3 369.1,131.3 370.2,131.5 371.3,131.3 372.3,131.1 373.4,130.7 374.5,131.9 375.6,131.7 376.7,130.5 377.8,131.8 378.9,132.8 380.0,132.1 381.1,131.6 382.2,132.3 383.2,131.9 384.3,131.9 385.4,131.2 386.5,131.8 387.6,131.9 388.7,131.8 389.8,132.2 390.9,132.2 392.0,132.7 393.0,132.6 394.1,133.1 395.2,133.3 396.3,133.6 397.4,134.2 398.5,134.2 399.6,133.5 400.7,133.6 401.8,132.9 402.9,133.3 403.9,132.8 405.0,132.8 406.1,133.1 407.2,132.8 408.3,132.2 409.4,132.9 410.5,133.4 411.6,134.5 412.7,134.0 413.7,134.4 414.8,133.7 415.9,133.2 417.0,133.6 418.1,133.1 419.2,133.4 420.3,133.3 421.4,133.6 422.5,133.4 423.6,133.2 424.6,133.1 425.7,133.2 426.8,132.4 427.9,133.0 429.0,133.8 430.1,133.5 431.2,132.4 432.3,133.1 433.4,132.9 434.4,133.1 435.5,132.1 436.6,132.5 437.7,132.2 438.8,131.5 439.9,131.4 441.0,131.0 442.1,132.2 443.2,132.1 444.2,131.1 445.3,131.0 446.4,131.2 447.5,131.1 448.6,131.4 449.7,130.9 450.8,130.8 451.9,131.3 453.0,131.0 454.1,132.6 455.1,132.2 456.2,132.0 457.3,130.9 458.4,131.4 459.5,132.1 460.6,132.5 461.7,133.1 462.8,132.9 463.9,132.6 464.9,131.7 466.0,131.9 467.1,132.7 468.2,132.3 469.3,132.1 470.4,131.8 471.5,132.1 472.6,131.8 473.7,132.0 474.8,131.6 475.8,130.8 476.9,131.4 478.0,130.7 479.1,130.5 480.2,130.5 481.3,130.2 482.4,130.1 483.5,130.0 484.6,129.9 485.6,129.7 486.7,129.0 487.8,128.4 488.9,127.8 490.0,127.0 491.1,126.1 492.2,124.9 493.3,122.9 494.4,120.3 495.5,116.0 496.5,110.7 497.6,103.2 498.7,94.5 499.8,84.1 500.9,73.9 502.0,66.1 503.1,63.0 504.2,66.4 505.3,74.7 506.3,84.7 507.4,94.9 508.5,103.9 509.6,111.1 510.7,116.2 511.8,120.3 512.9,123.2 514.0,124.9 515.1,126.4 516.1,127.9 517.2,128.6 518.3,128.6 519.4,128.7 520.5,128.8 521.6,129.1 522.7,129.3 523.8,128.6 524.9,127.5 526.0,126.5 527.0,127.8 528.1,128.5 529.2,128.7 530.3,128.5 531.4,127.6 532.5,128.4 533.6,129.2 534.7,128.8 535.8,127.9 536.8,127.8 537.9,127.8 539.0,127.7 540.1,127.5 541.2,127.1 542.3,127.0 543.4,128.1 544.5,128.3 545.6,128.3 546.7,127.9 547.7,127.8 548.8,127.1 549.9,126.9 551.0,127.1 552.1,126.0 553.2,126.0 554.3,125.7 555.4,126.4 556.5,124.9 557.5,123.1 558.6,122.2 559.7,121.2 560.8,121.0 561.9,120.7 563.0,119.4 564.1,120.2 565.2,121.5 566.3,121.8 567.4,123.8 568.4,123.6 569.5,125.1 570.6,126.5 571.7,127.9 572.8,127.3 573.9,128.0 575.0,129.2 576.1,130.6 577.2,130.7 578.2,132.0 579.3,132.4 580.4,132.1 581.5,131.6 582.6,132.1 583.7,132.1 584.8,133.4 585.9,133.0 587.0,132.4 588.0,132.5 589.1,132.2 590.2,133.0 591.3,133.3 592.4,132.2 593.5,133.1 594.6,133.6 595.7,133.8 596.8,133.6 597.9,133.2 598.9,133.8 600.0,134.5 601.1,133.9 602.2,133.8 603.3,134.0 604.4,133.9 605.5,134.1 606.6,134.0 607.7,134.3 608.7,133.7 609.8,135.2 610.9,134.3 612.0,134.6 613.1,134.4 614.2,134.4 615.3,134.7 616.4,133.8 617.5,134.0 618.6,133.2 619.6,133.3 620.7,134.0 621.8,133.3 622.9,132.8 624.0,132.2 625.1,132.6 626.2,133.0 627.3,132.4 628.4,131.6 629.4,131.8 630.5,132.0 631.6,131.2 632.7,133.1 633.8,133.6 634.9,133.8 636.0,133.0 637.1,132.7 638.2,132.8 639.3,132.6 640.3,133.0 641.4,132.6 642.5,131.5 643.6,131.5 644.7,132.0 645.8,131.7 646.9,131.4 648.0,132.0 649.1,130.0 650.1,130.3 651.2,130.4 652.3,130.9 653.4,131.3 654.5,130.3 655.6,129.3 656.7,130.3 657.8,130.0 658.9,129.6 660.0,129.1 661.0,130.3 662.1,129.6 663.2,130.3 664.3,130.2 665.4,130.6 666.5,131.4 667.6,131.3 668.7,132.1 669.8,132.5 670.8,131.4 671.9,130.4 673.0,131.3 674.1,131.1 675.2,131.1 676.3,132.0 677.4,131.9 678.5,132.1 679.6,132.0 680.6,131.6 681.7,132.5 682.8,132.7 683.9,132.9 685.0,134.1 686.1,133.6 687.2,133.2" fill="none" stroke="#c8960e" stroke-width="2.2" stroke-linejoin="round" stroke-linecap="round"/>
<text transform="translate(147.6 125.1) scale(1 1.026)" font-size="24.9" font-weight="bold">6</text>
<text transform="translate(147.8 180.9) scale(1 1.073)" font-size="24.1" font-weight="bold">5</text>
<text transform="translate(148.2 236.3) scale(1 1.154)" font-size="22.4" font-weight="bold">4</text>
<text transform="translate(148.0 291.9) scale(1 1.058)" font-size="24.1" font-weight="bold">3</text>
<text transform="translate(147.7 345.3) scale(1 1.026)" font-size="24.9" font-weight="bold">2</text>
<text transform="translate(145.6 409.3) skewX(-12)" font-size="26.5" stroke="#000" stroke-width="1.5" stroke-linejoin="round">1</text>
<text x="528.1" y="115.1" font-size="34.7" font-weight="bold" fill="#c8960e">960</text>
<line x1="530.5" y1="86.6" x2="522.1" y2="78.2" stroke="#c8960e" stroke-width="3.2"/>
<polygon points="508.3,64.4 528.6,71.6 522.1,78.2 515.5,84.7" fill="#c8960e"/>
<text transform="translate(538.3 272.9) scale(1 1.056)" font-size="32.8" font-weight="bold" fill="#1763dc">960</text>
<line x1="540.1" y1="267.7" x2="524.3" y2="269.0" stroke="#1763dc" stroke-width="3.2"/>
<polygon points="504.9,270.7 523.5,259.8 524.3,269.0 525.1,278.3" fill="#1763dc"/>
<text transform="translate(528.2 384.8) scale(1 0.984)" font-size="34.7" font-weight="bold" fill="#555555">960</text>
<line x1="539.5" y1="392.5" x2="527.5" y2="396.6" stroke="#555555" stroke-width="3.2"/>
<polygon points="509.0,402.9 524.5,387.9 527.5,396.6 530.4,405.4" fill="#555555"/>
<text transform="translate(16.7 552.6) scale(1 0.949)" font-size="35.2" font-weight="bold">Metaphysis</text>
<text transform="translate(1.6 603.2) scale(1 1.042)" font-size="47.6" stroke="#000" stroke-width="1.3">C</text>
<line x1="68.0" y1="600.5" x2="68.0" y2="980.9" stroke="#000" stroke-width="4.0"/>
<polygon points="68.0,576.9 80.6,606.5 68.0,601.5 55.4,606.5" fill="#000"/>
<text transform="translate(114.7 903.2) rotate(-90) scale(1 1.03)" font-size="35.1" font-weight="bold">Intensity(a.u.)</text>
<text transform="translate(51.7 1016.0) scale(1 1.040)" font-size="34.5" font-weight="bold">GP</text>
<rect x="139.6" y="563.0" width="558.2" height="413.2" fill="none" stroke="#000" stroke-width="2.6"/>
<line x1="144.5" y1="976.2" x2="144.5" y2="981.2" stroke="#000" stroke-width="2.4"/>
<line x1="199.2" y1="976.2" x2="199.2" y2="984.7" stroke="#000" stroke-width="2.4"/>
<line x1="253.9" y1="976.2" x2="253.9" y2="981.2" stroke="#000" stroke-width="2.4"/>
<line x1="308.6" y1="976.2" x2="308.6" y2="984.7" stroke="#000" stroke-width="2.4"/>
<line x1="363.3" y1="976.2" x2="363.3" y2="981.2" stroke="#000" stroke-width="2.4"/>
<line x1="418.0" y1="976.2" x2="418.0" y2="984.7" stroke="#000" stroke-width="2.4"/>
<line x1="472.7" y1="976.2" x2="472.7" y2="981.2" stroke="#000" stroke-width="2.4"/>
<line x1="527.3" y1="976.2" x2="527.3" y2="984.7" stroke="#000" stroke-width="2.4"/>
<line x1="582.0" y1="976.2" x2="582.0" y2="981.2" stroke="#000" stroke-width="2.4"/>
<line x1="636.7" y1="976.2" x2="636.7" y2="984.7" stroke="#000" stroke-width="2.4"/>
<line x1="691.4" y1="976.2" x2="691.4" y2="981.2" stroke="#000" stroke-width="2.4"/>
<text transform="translate(181.3 1015.0) scale(1 0.959)" font-size="25.6" stroke="#000" stroke-width="0.8">400</text>
<text transform="translate(288.1 1015.0) scale(1 0.927)" font-size="26.5" stroke="#000" stroke-width="0.8">600</text>
<text transform="translate(401.6 1015.0) scale(1 0.968)" font-size="25.3" stroke="#000" stroke-width="0.8">800</text>
<text transform="translate(498.1 1015.0) scale(1 0.924)" font-size="26.5" stroke="#000" stroke-width="0.8">1000</text>
<text transform="translate(609.4 1015.0) scale(1 0.927)" font-size="26.4" stroke="#000" stroke-width="0.8">1200</text>
<text transform="translate(277.7 1048.7) scale(1 1.020)" font-size="35.2" font-weight="bold">Raman Shift(cm<tspan font-size="23.2" dy="-14.1">-1</tspan><tspan dy="14.1">)</tspan></text>
<text transform="translate(172.6 598.3) scale(1 1.040)" font-size="26.2" font-weight="bold"><tspan font-style="italic">v</tspan><tspan font-size="17.3" dy="6.5">2</tspan><tspan dy="-6.5">PO</tspan><tspan font-size="17.3" dy="6.5">4</tspan><tspan font-size="17.3" dy="-13.1">3-</tspan></text>
<text transform="translate(273.8 598.3) scale(1 1.040)" font-size="26.2" font-weight="bold"><tspan font-style="italic">v</tspan><tspan font-size="17.3" dy="6.5">4</tspan><tspan dy="-6.5">PO</tspan><tspan font-size="17.3" dy="6.5">4</tspan><tspan font-size="17.3" dy="-13.1">3-</tspan></text>
<text transform="translate(393.3 598.3) scale(1 1.040)" font-size="26.2" font-weight="bold"><tspan font-style="italic">v</tspan><tspan font-size="17.3" dy="6.5">1</tspan><tspan dy="-6.5">PO</tspan><tspan font-size="17.3" dy="6.5">4</tspan><tspan font-size="17.3" dy="-13.1">3-</tspan></text>
<text transform="translate(549.8 598.3) scale(1 1.040)" font-size="26.2" font-weight="bold"><tspan font-style="italic">v</tspan><tspan font-size="17.3" dy="6.5">1</tspan><tspan dy="-6.5">CO</tspan><tspan font-size="17.3" dy="6.5">3</tspan><tspan font-size="17.3" dy="-13.1">2-</tspan></text>
<line x1="215.3" y1="603.5" x2="215.3" y2="975.0" stroke="#000" stroke-width="2.9" stroke-dasharray="6.4 6.3"/>
<line x1="301.2" y1="604.5" x2="301.2" y2="975.0" stroke="#000" stroke-width="2.9" stroke-dasharray="6.4 6.3"/>
<line x1="572.3" y1="607.5" x2="572.3" y2="975.0" stroke="#000" stroke-width="2.9" stroke-dasharray="6.4 6.3"/>
<polyline points="146.2,935.5 147.2,935.8 148.3,935.5 149.4,935.2 150.5,934.8 151.6,935.1 152.7,935.6 153.8,936.2 154.9,935.6 156.0,935.1 157.1,934.9 158.2,935.3 159.3,935.0 160.4,935.4 161.5,934.6 162.6,934.9 163.7,934.7 164.7,934.5 165.8,934.7 166.9,934.7 168.0,935.1 169.1,935.4 170.2,935.1 171.3,935.3 172.4,935.9 173.5,934.8 174.6,934.6 175.7,935.1 176.8,935.7 177.9,935.7 179.0,935.2 180.1,935.8 181.2,935.3 182.2,935.0 183.3,935.1 184.4,935.8 185.5,936.1 186.6,935.9 187.7,934.7 188.8,934.7 189.9,935.0 191.0,934.9 192.1,935.6 193.2,935.3 194.3,935.6 195.4,935.2 196.5,934.6 197.6,935.4 198.7,935.4 199.7,935.6 200.8,935.6 201.9,935.6 203.0,935.4 204.1,934.7 205.2,934.4 206.3,934.5 207.4,934.7 208.5,934.5 209.6,934.9 210.7,934.7 211.8,935.3 212.9,935.6 214.0,935.4 215.1,934.5 216.2,935.0 217.2,935.3 218.3,934.8 219.4,934.6 220.5,934.6 221.6,934.9 222.7,935.2 223.8,935.0 224.9,935.4 226.0,934.9 227.1,935.0 228.2,934.9 229.3,935.3 230.4,935.3 231.5,935.3 232.6,935.6 233.7,935.7 234.7,935.3 235.8,935.7 236.9,936.4 238.0,936.0 239.1,935.4 240.2,935.5 241.3,935.5 242.4,935.8 243.5,935.7 244.6,935.9 245.7,935.7 246.8,936.4 247.9,936.4 249.0,935.7 250.1,935.6 251.2,936.6 252.2,936.6 253.3,936.3 254.4,936.5 255.5,936.6 256.6,936.8 257.7,936.3 258.8,935.2 259.9,935.8 261.0,935.3 262.1,935.4 263.2,936.9 264.3,936.3 265.4,936.2 266.5,936.3 267.6,936.2 268.7,935.4 269.8,935.9 270.8,936.3 271.9,935.6 273.0,935.8 274.1,935.7 275.2,935.7 276.3,936.5 277.4,936.2 278.5,936.5 279.6,936.5 280.7,935.6 281.8,935.9 282.9,935.7 284.0,935.4 285.1,935.3 286.2,936.2 287.3,936.2 288.3,936.7 289.4,936.2 290.5,936.1 291.6,936.1 292.7,935.9 293.8,935.5 294.9,935.5 296.0,935.2 297.1,934.9 298.2,934.4 299.3,933.9 300.4,934.1 301.5,934.3 302.6,933.7 303.7,934.5 304.8,934.6 305.8,934.6 306.9,934.8 308.0,934.6 309.1,934.7 310.2,935.1 311.3,934.9 312.4,935.6 313.5,935.6 314.6,936.2 315.7,936.3 316.8,935.7 317.9,935.8 319.0,936.1 320.1,935.7 321.2,936.5 322.3,936.2 323.3,936.3 324.4,936.4 325.5,936.1 326.6,936.5 327.7,936.2 328.8,936.6 329.9,936.2 331.0,936.1 332.1,936.4 333.2,936.6 334.3,936.3 335.4,935.6 336.5,936.2 337.6,936.2 338.7,936.2 339.8,936.4 340.8,936.1 341.9,936.2 343.0,936.2 344.1,935.8 345.2,936.2 346.3,936.0 347.4,935.2 348.5,935.4 349.6,935.5 350.7,935.5 351.8,936.5 352.9,936.4 354.0,936.6 355.1,936.2 356.2,935.7 357.3,935.6 358.3,935.5 359.4,935.9 360.5,935.7 361.6,936.3 362.7,935.9 363.8,936.2 364.9,936.6 366.0,935.7 367.1,936.5 368.2,936.6 369.3,937.4 370.4,936.5 371.5,936.6 372.6,936.1 373.7,935.8 374.8,936.5 375.8,936.5 376.9,937.2 378.0,936.6 379.1,937.3 380.2,936.9 381.3,936.7 382.4,937.0 383.5,937.4 384.6,937.8 385.7,937.1 386.8,937.5 387.9,936.6 389.0,937.2 390.1,936.6 391.2,937.2 392.3,937.6 393.3,937.1 394.4,937.7 395.5,937.4 396.6,937.7 397.7,937.8 398.8,937.5 399.9,937.4 401.0,937.7 402.1,937.6 403.2,937.3 404.3,937.4 405.4,937.3 406.5,937.5 407.6,937.0 408.7,937.0 409.8,936.8 410.9,936.9 411.9,936.5 413.0,936.6 414.1,936.8 415.2,937.8 416.3,938.2 417.4,937.4 418.5,937.4 419.6,937.8 420.7,937.4 421.8,937.0 422.9,937.5 424.0,937.3 425.1,937.0 426.2,937.8 427.3,937.8 428.4,937.7 429.4,937.4 430.5,937.3 431.6,937.6 432.7,937.5 433.8,937.0 434.9,936.6 436.0,936.6 437.1,936.8 438.2,937.0 439.3,936.3 440.4,935.6 441.5,936.1 442.6,936.1 443.7,936.1 444.8,936.0 445.9,936.2 446.9,936.1 448.0,935.8 449.1,935.7 450.2,935.8 451.3,936.3 452.4,936.0 453.5,936.3 454.6,936.3 455.7,935.9 456.8,936.2 457.9,936.5 459.0,936.4 460.1,936.5 461.2,935.5 462.3,935.6 463.4,935.9 464.4,935.8 465.5,935.6 466.6,935.1 467.7,935.2 468.8,935.5 469.9,936.0 471.0,935.7 472.1,935.6 473.2,935.6 474.3,935.6 475.4,936.8 476.5,936.5 477.6,935.4 478.7,935.7 479.8,935.4 480.9,935.1 481.9,935.3 483.0,934.8 484.1,935.2 485.2,935.2 486.3,935.8 487.4,935.9 488.5,935.5 489.6,934.9 490.7,935.6 491.8,936.0 492.9,936.3 494.0,936.3 495.1,935.9 496.2,934.7 497.3,934.9 498.4,934.4 499.4,934.3 500.5,933.7 501.6,933.3 502.7,933.4 503.8,933.2 504.9,933.1 506.0,933.9 507.1,934.5 508.2,934.8 509.3,935.8 510.4,935.7 511.5,935.5 512.6,935.5 513.7,935.3 514.8,935.1 515.9,936.5 516.9,935.8 518.0,935.8 519.1,935.6 520.2,935.2 521.3,935.0 522.4,934.8 523.5,934.8 524.6,935.1 525.7,935.0 526.8,935.0 527.9,934.9 529.0,935.0 530.1,934.8 531.2,935.3 532.3,934.8 533.4,934.7 534.4,934.9 535.5,934.0 536.6,934.3 537.7,934.3 538.8,934.9 539.9,933.9 541.0,934.4 542.1,935.2 543.2,935.2 544.3,934.5 545.4,934.2 546.5,934.7 547.6,934.4 548.7,934.5 549.8,934.0 550.9,934.1 552.0,934.9 553.0,935.1 554.1,935.6 555.2,936.1 556.3,935.3 557.4,935.5 558.5,935.2 559.6,934.8 560.7,935.5 561.8,935.1 562.9,935.2 564.0,934.5 565.1,935.0 566.2,934.4 567.3,934.5 568.4,934.4 569.5,934.6 570.5,934.6 571.6,934.6 572.7,934.8 573.8,935.9 574.9,936.1 576.0,936.6 577.1,935.6 578.2,935.6 579.3,935.1 580.4,935.4 581.5,935.3 582.6,935.4 583.7,935.8 584.8,935.8 585.9,936.1 587.0,936.8 588.0,936.8 589.1,936.2 590.2,936.7 591.3,936.3 592.4,936.9 593.5,936.5 594.6,936.7 595.7,937.2 596.8,937.3 597.9,937.0 599.0,938.3 600.1,937.5 601.2,937.4 602.3,937.6 603.4,937.3 604.5,936.6 605.5,935.7 606.6,936.1 607.7,935.9 608.8,936.6 609.9,936.7 611.0,937.0 612.1,936.8 613.2,937.1 614.3,935.8 615.4,936.5 616.5,936.9 617.6,936.5 618.7,936.7 619.8,936.3 620.9,936.4 622.0,936.3 623.0,936.2 624.1,935.3 625.2,936.4 626.3,936.0 627.4,935.8 628.5,935.7 629.6,935.5 630.7,935.7 631.8,935.3 632.9,935.2 634.0,935.9 635.1,936.1 636.2,935.7 637.3,935.1 638.4,935.7 639.5,935.0 640.5,935.2 641.6,934.9 642.7,935.1 643.8,935.6 644.9,936.0 646.0,935.0 647.1,935.0 648.2,935.1 649.3,934.8 650.4,935.4 651.5,935.4 652.6,935.2 653.7,934.4 654.8,934.2 655.9,934.6 657.0,934.9 658.0,934.3 659.1,934.2 660.2,934.1 661.3,934.0 662.4,934.5 663.5,934.4 664.6,933.8 665.7,934.2 666.8,934.0 667.9,933.8 669.0,934.2 670.1,934.1 671.2,934.5 672.3,934.6 673.4,934.6 674.5,934.9 675.5,934.5 676.6,934.4 677.7,934.0 678.8,934.0 679.9,934.0 681.0,934.4 682.1,934.1 683.2,933.8 684.3,933.8 685.4,934.0" fill="none" stroke="#555555" stroke-width="2.2" stroke-linejoin="round" stroke-linecap="round"/>
<polyline points="146.2,885.6 147.2,885.8 148.3,886.5 149.4,885.4 150.5,885.3 151.6,884.6 152.7,885.2 153.8,885.6 154.9,884.9 156.0,885.2 157.1,885.4 158.2,885.5 159.3,885.6 160.4,885.8 161.5,885.8 162.6,886.0 163.7,886.0 164.7,885.1 165.8,885.5 166.9,886.5 168.0,886.5 169.1,886.2 170.2,886.8 171.3,886.3 172.4,886.7 173.5,886.7 174.6,885.8 175.7,885.7 176.8,885.5 177.9,885.3 179.0,884.0 180.1,885.4 181.2,886.7 182.2,885.9 183.3,886.4 184.4,885.8 185.5,885.9 186.6,885.6 187.7,886.6 188.8,886.5 189.9,886.3 191.0,884.8 192.1,886.7 193.2,886.4 194.3,885.2 195.4,885.9 196.5,886.0 197.6,886.0 198.7,886.7 199.7,885.9 200.8,886.4 201.9,885.7 203.0,885.7 204.1,885.3 205.2,884.3 206.3,885.2 207.4,885.4 208.5,885.0 209.6,883.9 210.7,884.3 211.8,885.5 212.9,884.2 214.0,884.2 215.1,884.2 216.2,884.1 217.2,883.5 218.3,884.3 219.4,886.3 220.5,886.1 221.6,884.8 222.7,884.7 223.8,885.1 224.9,885.5 226.0,884.8 227.1,885.2 228.2,886.2 229.3,885.8 230.4,886.3 231.5,886.5 232.6,886.8 233.7,886.1 234.7,886.0 235.8,885.5 236.9,885.3 238.0,885.7 239.1,885.6 240.2,885.1 241.3,885.9 242.4,885.2 243.5,885.6 244.6,885.3 245.7,885.3 246.8,885.2 247.9,885.5 249.0,885.4 250.1,884.2 251.2,884.8 252.2,885.5 253.3,885.2 254.4,886.2 255.5,886.2 256.6,885.8 257.7,886.5 258.8,886.0 259.9,885.8 261.0,885.6 262.1,886.8 263.2,886.9 264.3,887.5 265.4,887.2 266.5,887.4 267.6,886.3 268.7,886.4 269.8,887.1 270.8,887.7 271.9,887.5 273.0,887.7 274.1,887.9 275.2,886.9 276.3,886.6 277.4,886.3 278.5,887.1 279.6,886.5 280.7,885.7 281.8,885.8 282.9,886.5 284.0,885.9 285.1,886.4 286.2,887.5 287.3,885.8 288.3,886.0 289.4,885.1 290.5,885.1 291.6,884.7 292.7,885.3 293.8,885.5 294.9,885.0 296.0,885.0 297.1,884.6 298.2,884.5 299.3,884.7 300.4,884.9 301.5,885.7 302.6,885.5 303.7,884.8 304.8,885.0 305.8,885.5 306.9,884.5 308.0,884.1 309.1,885.4 310.2,884.3 311.3,884.1 312.4,884.1 313.5,885.0 314.6,886.1 315.7,885.8 316.8,885.5 317.9,885.3 319.0,885.0 320.1,886.0 321.2,885.5 322.3,884.8 323.3,884.2 324.4,884.4 325.5,884.4 326.6,884.5 327.7,884.6 328.8,885.3 329.9,885.3 331.0,884.9 332.1,884.6 333.2,885.5 334.3,885.3 335.4,886.2 336.5,885.3 337.6,885.6 338.7,885.7 339.8,885.1 340.8,886.6 341.9,886.2 343.0,885.3 344.1,884.4 345.2,884.3 346.3,884.9 347.4,884.6 348.5,885.2 349.6,886.2 350.7,886.1 351.8,885.3 352.9,886.1 354.0,886.7 355.1,887.0 356.2,887.5 357.3,886.9 358.3,886.7 359.4,886.8 360.5,886.6 361.6,886.7 362.7,886.4 363.8,886.6 364.9,885.6 366.0,885.3 367.1,886.7 368.2,886.7 369.3,886.9 370.4,886.5 371.5,886.6 372.6,886.0 373.7,886.9 374.8,886.8 375.8,887.3 376.9,886.6 378.0,886.5 379.1,886.1 380.2,886.9 381.3,886.6 382.4,886.9 383.5,886.5 384.6,886.1 385.7,887.2 386.8,887.7 387.9,887.9 389.0,887.6 390.1,887.5 391.2,887.0 392.3,887.9 393.3,887.7 394.4,887.7 395.5,887.7 396.6,887.4 397.7,887.8 398.8,888.3 399.9,886.9 401.0,886.4 402.1,886.7 403.2,886.1 404.3,886.1 405.4,886.8 406.5,887.3 407.6,887.7 408.7,888.2 409.8,887.5 410.9,887.5 411.9,887.7 413.0,887.8 414.1,888.0 415.2,887.4 416.3,886.9 417.4,886.7 418.5,886.7 419.6,886.1 420.7,886.9 421.8,885.8 422.9,886.6 424.0,887.2 425.1,888.1 426.2,888.0 427.3,887.6 428.4,886.8 429.4,887.4 430.5,887.0 431.6,887.7 432.7,887.0 433.8,887.5 434.9,887.9 436.0,888.0 437.1,887.7 438.2,887.5 439.3,887.5 440.4,886.9 441.5,887.0 442.6,885.5 443.7,886.1 444.8,887.2 445.9,887.2 446.9,887.3 448.0,886.1 449.1,885.9 450.2,886.1 451.3,885.6 452.4,886.4 453.5,887.1 454.6,887.0 455.7,886.8 456.8,886.1 457.9,887.0 459.0,886.9 460.1,885.7 461.2,885.6 462.3,885.5 463.4,885.5 464.4,887.2 465.5,886.2 466.6,886.1 467.7,885.7 468.8,885.5 469.9,885.8 471.0,886.2 472.1,886.7 473.2,886.4 474.3,885.9 475.4,886.1 476.5,885.8 477.6,885.7 478.7,885.9 479.8,886.9 480.9,886.4 481.9,885.7 483.0,886.2 484.1,886.7 485.2,886.2 486.3,885.3 487.4,884.8 488.5,885.1 489.6,884.9 490.7,884.8 491.8,883.5 492.9,882.8 494.0,881.9 495.1,880.4 496.2,879.3 497.3,878.4 498.4,877.7 499.4,877.4 500.5,878.4 501.6,878.8 502.7,880.7 503.8,881.9 504.9,883.1 506.0,883.8 507.1,884.8 508.2,884.8 509.3,886.1 510.4,885.5 511.5,885.4 512.6,884.5 513.7,885.8 514.8,884.8 515.9,885.8 516.9,884.9 518.0,885.2 519.1,885.3 520.2,885.5 521.3,884.6 522.4,884.8 523.5,884.9 524.6,886.0 525.7,885.8 526.8,886.0 527.9,885.5 529.0,885.1 530.1,885.2 531.2,885.0 532.3,885.2 533.4,884.6 534.4,885.3 535.5,884.6 536.6,884.8 537.7,885.5 538.8,885.9 539.9,885.8 541.0,885.6 542.1,885.4 543.2,885.0 544.3,885.0 545.4,885.1 546.5,885.6 547.6,885.7 548.7,885.7 549.8,887.0 550.9,886.1 552.0,885.1 553.0,885.0 554.1,885.3 555.2,885.3 556.3,886.0 557.4,886.7 558.5,886.5 559.6,886.1 560.7,886.2 561.8,886.0 562.9,885.3 564.0,885.4 565.1,885.3 566.2,884.9 567.3,885.1 568.4,885.2 569.5,884.7 570.5,885.1 571.6,885.2 572.7,885.5 573.8,884.9 574.9,884.7 576.0,885.5 577.1,885.7 578.2,886.1 579.3,886.4 580.4,886.7 581.5,886.8 582.6,887.3 583.7,887.6 584.8,887.0 585.9,886.8 587.0,886.6 588.0,886.5 589.1,886.7 590.2,885.7 591.3,884.5 592.4,885.5 593.5,884.9 594.6,885.4 595.7,885.5 596.8,885.3 597.9,885.5 599.0,885.5 600.1,886.3 601.2,886.9 602.3,885.7 603.4,885.7 604.5,886.1 605.5,886.4 606.6,886.5 607.7,886.6 608.8,887.5 609.9,886.7 611.0,886.7 612.1,886.8 613.2,886.7 614.3,887.0 615.4,886.6 616.5,887.1 617.6,886.4 618.7,886.7 619.8,887.0 620.9,887.1 622.0,886.8 623.0,887.5 624.1,887.3 625.2,887.2 626.3,886.7 627.4,886.6 628.5,885.5 629.6,885.7 630.7,886.0 631.8,885.5 632.9,885.9 634.0,886.0 635.1,885.7 636.2,886.1 637.3,884.4 638.4,885.0 639.5,885.4 640.5,885.6 641.6,886.0 642.7,884.6 643.8,885.0 644.9,883.6 646.0,884.0 647.1,884.5 648.2,884.6 649.3,884.7 650.4,884.5 651.5,884.6 652.6,884.4 653.7,883.0 654.8,883.5 655.9,883.2 657.0,883.0 658.0,883.5 659.1,883.5 660.2,883.9 661.3,884.1 662.4,884.1 663.5,884.8 664.6,884.6 665.7,884.1 666.8,883.9 667.9,884.4 669.0,883.8 670.1,884.2 671.2,884.9 672.3,885.3 673.4,885.0 674.5,884.8 675.5,884.7 676.6,885.5 677.7,885.5 678.8,885.9 679.9,885.4 681.0,885.1 682.1,885.4 683.2,886.3 684.3,886.6 685.4,887.2" fill="none" stroke="#ee4450" stroke-width="2.2" stroke-linejoin="round" stroke-linecap="round"/>
<polyline points="146.2,836.5 147.2,836.1 148.3,836.9 149.4,836.4 150.5,836.9 151.6,838.0 152.7,837.7 153.8,836.5 154.9,836.4 156.0,836.5 157.1,837.2 158.2,837.5 159.3,836.4 160.4,836.5 161.5,834.9 162.6,835.4 163.7,835.2 164.7,835.2 165.8,835.4 166.9,835.0 168.0,835.4 169.1,835.3 170.2,834.4 171.3,835.1 172.4,835.1 173.5,834.9 174.6,834.7 175.7,834.9 176.8,835.5 177.9,835.9 179.0,836.6 180.1,836.0 181.2,836.1 182.2,835.7 183.3,835.5 184.4,836.0 185.5,835.7 186.6,835.5 187.7,836.0 188.8,835.2 189.9,835.9 191.0,835.9 192.1,835.8 193.2,834.7 194.3,835.0 195.4,835.5 196.5,835.1 197.6,834.2 198.7,834.5 199.7,835.1 200.8,833.7 201.9,834.6 203.0,833.4 204.1,833.7 205.2,834.6 206.3,834.8 207.4,833.9 208.5,833.3 209.6,833.2 210.7,831.9 211.8,830.7 212.9,831.3 214.0,830.8 215.1,830.2 216.2,831.9 217.2,831.9 218.3,832.0 219.4,832.5 220.5,832.7 221.6,833.4 222.7,833.8 223.8,833.1 224.9,833.6 226.0,833.0 227.1,834.2 228.2,834.1 229.3,834.6 230.4,835.0 231.5,834.6 232.6,834.6 233.7,835.0 234.7,835.0 235.8,835.8 236.9,835.6 238.0,835.0 239.1,835.4 240.2,835.4 241.3,834.8 242.4,835.2 243.5,835.4 244.6,835.1 245.7,834.9 246.8,833.9 247.9,835.8 249.0,836.0 250.1,835.4 251.2,835.5 252.2,835.8 253.3,835.8 254.4,836.3 255.5,835.6 256.6,836.5 257.7,836.1 258.8,835.4 259.9,835.2 261.0,834.6 262.1,835.5 263.2,834.7 264.3,834.8 265.4,834.7 266.5,835.3 267.6,834.8 268.7,835.0 269.8,834.5 270.8,834.0 271.9,834.8 273.0,834.2 274.1,834.5 275.2,835.3 276.3,835.5 277.4,836.2 278.5,836.0 279.6,836.1 280.7,836.7 281.8,835.8 282.9,835.3 284.0,834.9 285.1,833.8 286.2,834.0 287.3,834.8 288.3,834.1 289.4,833.3 290.5,833.6 291.6,833.1 292.7,833.6 293.8,833.3 294.9,834.1 296.0,833.8 297.1,833.5 298.2,832.2 299.3,832.3 300.4,832.5 301.5,832.9 302.6,832.5 303.7,833.3 304.8,833.1 305.8,833.1 306.9,834.2 308.0,834.3 309.1,834.0 310.2,834.4 311.3,833.4 312.4,833.9 313.5,833.4 314.6,834.0 315.7,834.0 316.8,834.6 317.9,834.6 319.0,835.3 320.1,835.0 321.2,834.2 322.3,834.6 323.3,835.0 324.4,834.4 325.5,834.1 326.6,834.3 327.7,834.8 328.8,835.0 329.9,834.4 331.0,834.7 332.1,834.6 333.2,835.0 334.3,835.9 335.4,835.0 336.5,835.8 337.6,836.4 338.7,836.8 339.8,836.8 340.8,837.6 341.9,837.3 343.0,837.0 344.1,836.8 345.2,836.3 346.3,837.2 347.4,837.3 348.5,837.0 349.6,836.6 350.7,836.6 351.8,836.6 352.9,837.7 354.0,837.0 355.1,836.5 356.2,837.5 357.3,837.8 358.3,837.4 359.4,837.0 360.5,836.5 361.6,836.7 362.7,836.0 363.8,836.5 364.9,836.5 366.0,836.4 367.1,836.8 368.2,837.1 369.3,836.7 370.4,836.5 371.5,836.1 372.6,836.2 373.7,836.0 374.8,835.7 375.8,835.7 376.9,835.0 378.0,836.3 379.1,836.6 380.2,837.1 381.3,836.9 382.4,836.3 383.5,837.1 384.6,836.4 385.7,836.6 386.8,837.3 387.9,836.8 389.0,837.1 390.1,836.6 391.2,836.7 392.3,836.8 393.3,836.7 394.4,836.5 395.5,836.2 396.6,837.5 397.7,837.9 398.8,837.3 399.9,837.2 401.0,836.9 402.1,838.3 403.2,838.1 404.3,837.6 405.4,837.0 406.5,837.4 407.6,838.5 408.7,837.7 409.8,837.4 410.9,837.7 411.9,837.9 413.0,837.1 414.1,836.9 415.2,837.0 416.3,838.7 417.4,837.7 418.5,837.3 419.6,837.5 420.7,837.1 421.8,837.1 422.9,836.1 424.0,836.7 425.1,836.9 426.2,837.1 427.3,837.9 428.4,837.6 429.4,837.4 430.5,838.4 431.6,837.4 432.7,837.2 433.8,836.6 434.9,835.9 436.0,836.0 437.1,835.4 438.2,836.5 439.3,836.7 440.4,836.4 441.5,836.5 442.6,836.1 443.7,836.2 444.8,836.3 445.9,836.1 446.9,835.6 448.0,835.6 449.1,835.3 450.2,834.9 451.3,834.9 452.4,835.3 453.5,835.3 454.6,835.3 455.7,835.9 456.8,835.4 457.9,835.5 459.0,836.0 460.1,835.8 461.2,836.0 462.3,837.1 463.4,836.0 464.4,836.9 465.5,835.5 466.6,835.1 467.7,835.6 468.8,835.0 469.9,836.1 471.0,836.3 472.1,835.1 473.2,835.2 474.3,835.7 475.4,836.2 476.5,836.8 477.6,836.8 478.7,836.0 479.8,835.7 480.9,836.4 481.9,836.1 483.0,835.6 484.1,835.5 485.2,834.9 486.3,834.4 487.4,834.8 488.5,834.1 489.6,833.6 490.7,832.4 491.8,831.7 492.9,830.7 494.0,829.6 495.1,827.6 496.2,824.9 497.3,821.6 498.4,817.3 499.4,812.7 500.5,808.4 501.6,805.7 502.7,805.3 503.8,807.7 504.9,811.8 506.0,816.2 507.1,820.6 508.2,824.1 509.3,827.3 510.4,829.4 511.5,830.8 512.6,831.7 513.7,833.0 514.8,833.8 515.9,833.2 516.9,833.2 518.0,833.6 519.1,834.3 520.2,834.3 521.3,834.1 522.4,834.2 523.5,834.6 524.6,834.4 525.7,834.5 526.8,834.8 527.9,834.7 529.0,833.5 530.1,834.4 531.2,835.1 532.3,835.3 533.4,835.4 534.4,835.1 535.5,835.1 536.6,835.5 537.7,835.5 538.8,835.2 539.9,835.7 541.0,834.5 542.1,834.5 543.2,835.5 544.3,834.1 545.4,834.7 546.5,834.3 547.6,833.3 548.7,834.3 549.8,833.2 550.9,833.1 552.0,834.4 553.0,834.6 554.1,834.2 555.2,834.6 556.3,833.7 557.4,833.0 558.5,833.4 559.6,833.6 560.7,832.8 561.8,832.4 562.9,831.8 564.0,831.8 565.1,831.6 566.2,830.6 567.3,830.7 568.4,831.1 569.5,832.3 570.5,832.5 571.6,833.1 572.7,833.8 573.8,835.0 574.9,834.4 576.0,834.8 577.1,834.8 578.2,834.9 579.3,835.1 580.4,835.7 581.5,836.1 582.6,836.1 583.7,836.2 584.8,836.7 585.9,837.1 587.0,836.0 588.0,836.7 589.1,837.2 590.2,836.6 591.3,836.4 592.4,836.1 593.5,836.1 594.6,835.4 595.7,835.9 596.8,836.2 597.9,836.1 599.0,835.9 600.1,835.7 601.2,836.9 602.3,837.3 603.4,837.0 604.5,836.8 605.5,836.9 606.6,837.8 607.7,837.2 608.8,837.5 609.9,835.4 611.0,835.9 612.1,836.9 613.2,837.1 614.3,837.2 615.4,836.9 616.5,837.0 617.6,836.6 618.7,836.6 619.8,837.1 620.9,837.3 622.0,836.6 623.0,836.5 624.1,835.9 625.2,836.0 626.3,835.8 627.4,836.5 628.5,836.3 629.6,835.2 630.7,835.1 631.8,834.1 632.9,834.2 634.0,834.2 635.1,834.5 636.2,834.6 637.3,834.6 638.4,835.2 639.5,834.7 640.5,834.2 641.6,835.0 642.7,833.9 643.8,833.8 644.9,833.9 646.0,833.4 647.1,832.5 648.2,832.9 649.3,833.8 650.4,833.2 651.5,832.9 652.6,832.8 653.7,833.2 654.8,832.9 655.9,833.2 657.0,831.9 658.0,831.8 659.1,832.4 660.2,832.3 661.3,832.6 662.4,833.0 663.5,833.5 664.6,833.1 665.7,832.7 666.8,833.4 667.9,832.8 669.0,832.6 670.1,832.8 671.2,833.1 672.3,833.3 673.4,833.7 674.5,834.4 675.5,833.0 676.6,832.3 677.7,833.7 678.8,834.3 679.9,835.6 681.0,834.5 682.1,835.9 683.2,836.2 684.3,836.1 685.4,835.7 686.5,835.7 687.6,835.5 688.7,836.3 689.8,836.0" fill="none" stroke="#1763dc" stroke-width="2.2" stroke-linejoin="round" stroke-linecap="round"/>
<polyline points="146.2,787.4 147.2,786.8 148.3,786.6 149.4,786.4 150.5,786.8 151.6,787.2 152.7,787.0 153.8,787.0 154.9,786.8 156.0,786.7 157.1,786.5 158.2,786.2 159.3,787.0 160.4,787.1 161.5,787.8 162.6,787.9 163.7,787.8 164.7,787.3 165.8,787.6 166.9,787.4 168.0,787.2 169.1,787.1 170.2,787.1 171.3,787.0 172.4,787.7 173.5,788.0 174.6,787.3 175.7,787.1 176.8,786.6 177.9,786.1 179.0,786.7 180.1,786.3 181.2,787.6 182.2,787.5 183.3,788.3 184.4,786.9 185.5,787.0 186.6,787.1 187.7,787.1 188.8,786.7 189.9,786.9 191.0,786.7 192.1,786.3 193.2,785.1 194.3,786.3 195.4,785.8 196.5,785.2 197.6,784.1 198.7,785.0 199.7,784.6 200.8,785.2 201.9,784.8 203.0,784.7 204.1,784.2 205.2,783.9 206.3,784.5 207.4,784.4 208.5,784.3 209.6,783.2 210.7,782.5 211.8,781.6 212.9,782.3 214.0,781.7 215.1,782.2 216.2,782.6 217.2,782.4 218.3,783.2 219.4,783.8 220.5,783.5 221.6,785.0 222.7,784.9 223.8,786.2 224.9,785.3 226.0,785.4 227.1,785.1 228.2,785.7 229.3,786.0 230.4,786.3 231.5,786.2 232.6,786.1 233.7,786.0 234.7,787.6 235.8,788.0 236.9,787.2 238.0,786.7 239.1,785.5 240.2,786.5 241.3,786.4 242.4,787.3 243.5,787.6 244.6,787.1 245.7,787.2 246.8,786.9 247.9,787.4 249.0,787.6 250.1,787.3 251.2,788.0 252.2,787.7 253.3,787.0 254.4,787.7 255.5,788.3 256.6,788.5 257.7,788.5 258.8,787.2 259.9,787.3 261.0,787.6 262.1,787.2 263.2,786.8 264.3,787.3 265.4,788.2 266.5,787.7 267.6,787.4 268.7,787.2 269.8,787.7 270.8,787.3 271.9,786.3 273.0,787.4 274.1,785.8 275.2,786.5 276.3,786.5 277.4,786.9 278.5,785.8 279.6,785.2 280.7,785.5 281.8,785.0 282.9,784.6 284.0,785.6 285.1,786.0 286.2,785.6 287.3,785.2 288.3,785.9 289.4,784.8 290.5,784.5 291.6,785.0 292.7,784.4 293.8,785.0 294.9,783.9 296.0,784.0 297.1,782.9 298.2,783.1 299.3,783.2 300.4,782.8 301.5,782.8 302.6,783.3 303.7,782.9 304.8,783.9 305.8,785.0 306.9,784.9 308.0,785.3 309.1,784.9 310.2,785.5 311.3,785.8 312.4,785.3 313.5,785.7 314.6,784.5 315.7,786.3 316.8,786.9 317.9,786.2 319.0,786.4 320.1,785.9 321.2,786.5 322.3,786.9 323.3,786.6 324.4,786.8 325.5,786.8 326.6,786.2 327.7,786.8 328.8,786.8 329.9,787.9 331.0,787.7 332.1,786.6 333.2,787.7 334.3,787.6 335.4,786.8 336.5,786.5 337.6,786.7 338.7,785.9 339.8,786.4 340.8,786.2 341.9,785.8 343.0,786.5 344.1,786.0 345.2,787.4 346.3,787.0 347.4,787.2 348.5,786.8 349.6,787.3 350.7,785.9 351.8,786.6 352.9,787.1 354.0,785.9 355.1,785.7 356.2,785.2 357.3,786.0 358.3,786.3 359.4,785.5 360.5,786.0 361.6,787.1 362.7,786.7 363.8,786.5 364.9,786.5 366.0,787.2 367.1,786.6 368.2,786.2 369.3,786.9 370.4,786.9 371.5,786.6 372.6,786.4 373.7,786.7 374.8,787.4 375.8,786.8 376.9,787.0 378.0,787.6 379.1,787.4 380.2,787.6 381.3,787.9 382.4,787.8 383.5,788.0 384.6,787.5 385.7,788.6 386.8,786.5 387.9,787.0 389.0,787.4 390.1,786.4 391.2,787.8 392.3,788.2 393.3,787.3 394.4,787.9 395.5,788.1 396.6,788.2 397.7,787.8 398.8,787.5 399.9,788.1 401.0,787.6 402.1,788.5 403.2,787.2 404.3,788.0 405.4,787.4 406.5,788.4 407.6,788.5 408.7,789.0 409.8,788.5 410.9,788.4 411.9,787.7 413.0,787.2 414.1,788.5 415.2,788.5 416.3,788.3 417.4,788.8 418.5,788.9 419.6,788.3 420.7,788.1 421.8,788.4 422.9,787.8 424.0,787.9 425.1,788.4 426.2,788.4 427.3,788.9 428.4,788.4 429.4,788.7 430.5,788.5 431.6,788.8 432.7,789.2 433.8,788.3 434.9,788.4 436.0,787.6 437.1,786.4 438.2,786.9 439.3,787.5 440.4,785.9 441.5,786.9 442.6,785.5 443.7,784.9 444.8,783.9 445.9,784.7 446.9,784.2 448.0,785.1 449.1,784.2 450.2,784.8 451.3,785.5 452.4,784.8 453.5,786.1 454.6,786.6 455.7,786.2 456.8,785.7 457.9,785.7 459.0,786.9 460.1,786.8 461.2,786.4 462.3,786.6 463.4,787.5 464.4,787.3 465.5,786.4 466.6,787.0 467.7,786.6 468.8,787.2 469.9,786.7 471.0,786.3 472.1,787.2 473.2,786.5 474.3,786.6 475.4,786.2 476.5,786.0 477.6,785.9 478.7,786.3 479.8,786.7 480.9,786.8 481.9,786.2 483.0,786.2 484.1,785.7 485.2,785.1 486.3,784.7 487.4,784.2 488.5,783.6 489.6,782.5 490.7,782.0 491.8,780.8 492.9,779.6 494.0,776.9 495.1,772.9 496.2,768.3 497.3,762.3 498.4,754.7 499.4,746.4 500.5,738.4 501.6,732.6 502.7,731.2 503.8,735.2 504.9,742.2 506.0,750.6 507.1,758.8 508.2,765.5 509.3,771.0 510.4,775.4 511.5,777.8 512.6,779.9 513.7,781.2 514.8,781.7 515.9,782.1 516.9,782.5 518.0,783.2 519.1,783.1 520.2,783.2 521.3,783.3 522.4,784.0 523.5,783.7 524.6,782.7 525.7,783.9 526.8,783.5 527.9,782.7 529.0,781.9 530.1,782.9 531.2,783.8 532.3,784.1 533.4,783.9 534.4,784.4 535.5,784.1 536.6,783.6 537.7,783.7 538.8,784.0 539.9,784.3 541.0,784.2 542.1,784.1 543.2,784.0 544.3,782.7 545.4,782.4 546.5,783.1 547.6,782.5 548.7,782.6 549.8,782.6 550.9,782.0 552.0,782.6 553.0,782.2 554.1,782.4 555.2,782.0 556.3,781.9 557.4,781.8 558.5,781.8 559.6,781.6 560.7,780.6 561.8,779.1 562.9,778.1 564.0,777.1 565.1,776.7 566.2,776.4 567.3,777.4 568.4,779.2 569.5,780.4 570.5,780.4 571.6,780.5 572.7,781.7 573.8,782.9 574.9,783.7 576.0,784.0 577.1,785.6 578.2,785.7 579.3,785.1 580.4,784.3 581.5,785.1 582.6,784.8 583.7,785.4 584.8,785.8 585.9,785.3 587.0,785.6 588.0,786.4 589.1,786.1 590.2,787.1 591.3,787.7 592.4,787.3 593.5,786.4 594.6,786.8 595.7,786.0 596.8,786.3 597.9,786.3 599.0,786.5 600.1,786.4 601.2,786.1 602.3,786.8 603.4,786.2 604.5,786.6 605.5,785.4 606.6,786.7 607.7,787.0 608.8,787.5 609.9,787.7 611.0,786.7 612.1,787.0 613.2,786.6 614.3,786.1 615.4,786.6 616.5,786.2 617.6,786.4 618.7,787.0 619.8,787.4 620.9,786.5 622.0,786.3 623.0,786.4 624.1,787.2 625.2,787.2 626.3,787.0 627.4,787.1 628.5,787.0 629.6,785.8 630.7,785.7 631.8,786.2 632.9,787.6 634.0,786.9 635.1,787.4 636.2,787.4 637.3,787.0 638.4,786.3 639.5,787.1 640.5,786.4 641.6,786.5 642.7,787.6 643.8,786.5 644.9,786.0 646.0,786.5 647.1,785.7 648.2,785.7 649.3,785.1 650.4,784.9 651.5,784.9 652.6,785.7 653.7,785.3 654.8,784.8 655.9,785.7 657.0,785.6 658.0,784.6 659.1,784.1 660.2,783.7 661.3,784.4 662.4,783.0 663.5,783.9 664.6,784.6 665.7,784.7 666.8,784.0 667.9,784.0 669.0,784.3 670.1,784.6 671.2,783.7 672.3,783.5 673.4,784.3 674.5,785.6 675.5,785.4 676.6,785.5 677.7,785.8 678.8,785.3 679.9,784.9 681.0,785.4 682.1,785.8 683.2,786.2 684.3,785.6 685.4,786.3 686.5,786.9 687.6,787.2 688.7,786.7 689.8,787.2" fill="none" stroke="#2aa563" stroke-width="2.2" stroke-linejoin="round" stroke-linecap="round"/>
<polyline points="146.2,737.0 147.2,737.0 148.3,736.6 149.4,737.2 150.5,737.1 151.6,736.7 152.7,736.9 153.8,736.9 154.9,736.8 156.0,737.0 157.1,736.1 158.2,736.0 159.3,736.4 160.4,736.3 161.5,736.3 162.6,736.2 163.7,735.9 164.7,736.0 165.8,736.9 166.9,737.1 168.0,738.2 169.1,738.4 170.2,737.1 171.3,737.5 172.4,736.8 173.5,736.7 174.6,737.1 175.7,737.5 176.8,737.4 177.9,736.5 179.0,735.6 180.1,736.0 181.2,735.9 182.2,735.8 183.3,736.1 184.4,736.5 185.5,737.0 186.6,736.2 187.7,737.0 188.8,737.0 189.9,737.0 191.0,736.4 192.1,736.3 193.2,736.6 194.3,736.9 195.4,736.3 196.5,735.5 197.6,734.7 198.7,734.8 199.7,734.7 200.8,735.1 201.9,734.7 203.0,733.8 204.1,733.9 205.2,733.6 206.3,733.1 207.4,733.7 208.5,732.9 209.6,731.9 210.7,731.9 211.8,731.1 212.9,731.3 214.0,731.6 215.1,731.3 216.2,731.9 217.2,731.9 218.3,732.5 219.4,733.4 220.5,733.2 221.6,733.7 222.7,734.2 223.8,733.5 224.9,733.9 226.0,734.1 227.1,734.3 228.2,733.7 229.3,734.0 230.4,735.2 231.5,734.9 232.6,735.0 233.7,735.3 234.7,735.6 235.8,735.8 236.9,735.2 238.0,735.0 239.1,735.3 240.2,735.8 241.3,735.9 242.4,735.7 243.5,735.9 244.6,735.1 245.7,735.6 246.8,735.4 247.9,735.2 249.0,735.3 250.1,735.8 251.2,734.8 252.2,735.1 253.3,735.5 254.4,735.9 255.5,736.1 256.6,735.6 257.7,736.1 258.8,735.7 259.9,735.9 261.0,735.1 262.1,735.4 263.2,735.5 264.3,736.3 265.4,736.2 266.5,736.3 267.6,735.6 268.7,736.3 269.8,735.9 270.8,735.8 271.9,735.5 273.0,734.9 274.1,734.7 275.2,734.6 276.3,735.0 277.4,734.0 278.5,734.7 279.6,734.3 280.7,734.6 281.8,733.4 282.9,733.7 284.0,732.7 285.1,732.9 286.2,731.7 287.3,732.4 288.3,732.2 289.4,732.7 290.5,732.2 291.6,732.0 292.7,732.0 293.8,731.7 294.9,730.7 296.0,730.3 297.1,730.5 298.2,731.2 299.3,731.6 300.4,731.4 301.5,730.7 302.6,731.3 303.7,732.1 304.8,732.3 305.8,732.7 306.9,733.4 308.0,734.0 309.1,733.7 310.2,733.0 311.3,734.2 312.4,733.3 313.5,734.6 314.6,734.9 315.7,736.0 316.8,735.7 317.9,735.0 319.0,734.9 320.1,735.1 321.2,735.7 322.3,736.7 323.3,736.7 324.4,736.4 325.5,735.4 326.6,735.6 327.7,735.8 328.8,735.6 329.9,735.4 331.0,736.5 332.1,735.6 333.2,736.0 334.3,735.9 335.4,737.0 336.5,736.2 337.6,736.9 338.7,736.5 339.8,737.4 340.8,738.1 341.9,737.9 343.0,737.6 344.1,737.4 345.2,736.8 346.3,736.6 347.4,738.2 348.5,737.7 349.6,736.5 350.7,735.6 351.8,736.2 352.9,736.3 354.0,736.5 355.1,737.9 356.2,737.8 357.3,737.2 358.3,737.5 359.4,737.5 360.5,738.3 361.6,737.8 362.7,737.0 363.8,737.3 364.9,738.1 366.0,738.2 367.1,737.4 368.2,737.3 369.3,737.2 370.4,738.0 371.5,737.5 372.6,737.9 373.7,738.1 374.8,738.6 375.8,739.1 376.9,739.1 378.0,738.9 379.1,738.7 380.2,738.6 381.3,738.7 382.4,737.7 383.5,737.6 384.6,738.0 385.7,737.7 386.8,737.0 387.9,738.0 389.0,736.9 390.1,737.9 391.2,737.5 392.3,737.6 393.3,737.5 394.4,736.8 395.5,737.9 396.6,738.1 397.7,737.5 398.8,737.7 399.9,737.9 401.0,738.3 402.1,738.6 403.2,738.3 404.3,737.6 405.4,736.9 406.5,737.8 407.6,737.9 408.7,737.6 409.8,737.2 410.9,737.5 411.9,737.3 413.0,737.6 414.1,737.3 415.2,737.8 416.3,737.5 417.4,737.3 418.5,736.7 419.6,735.9 420.7,735.0 421.8,734.8 422.9,736.5 424.0,737.1 425.1,736.8 426.2,736.7 427.3,735.5 428.4,736.7 429.4,736.4 430.5,735.9 431.6,735.5 432.7,735.4 433.8,735.7 434.9,735.3 436.0,736.5 437.1,734.8 438.2,734.5 439.3,734.5 440.4,735.3 441.5,735.4 442.6,736.2 443.7,734.8 444.8,734.3 445.9,733.6 446.9,732.7 448.0,733.3 449.1,733.8 450.2,734.3 451.3,733.7 452.4,734.5 453.5,733.6 454.6,733.7 455.7,733.3 456.8,733.5 457.9,734.1 459.0,734.5 460.1,735.6 461.2,734.7 462.3,735.4 463.4,735.7 464.4,735.6 465.5,736.6 466.6,736.0 467.7,735.7 468.8,735.7 469.9,735.8 471.0,735.2 472.1,735.1 473.2,735.6 474.3,734.3 475.4,734.0 476.5,734.0 477.6,733.9 478.7,734.3 479.8,734.6 480.9,734.4 481.9,734.5 483.0,733.5 484.1,733.0 485.2,733.3 486.3,732.8 487.4,732.9 488.5,732.6 489.6,731.6 490.7,731.0 491.8,730.4 492.9,729.1 494.0,727.9 495.1,726.1 496.2,722.8 497.3,719.2 498.4,714.2 499.4,707.2 500.5,697.7 501.6,687.1 502.7,675.9 503.8,666.0 504.9,660.6 506.0,661.9 507.1,669.3 508.2,679.6 509.3,691.3 510.4,701.5 511.5,710.2 512.6,716.6 513.7,721.5 514.8,724.8 515.9,726.8 516.9,728.0 518.0,729.1 519.1,729.4 520.2,730.0 521.3,730.0 522.4,730.6 523.5,731.5 524.6,731.5 525.7,731.4 526.8,731.1 527.9,730.7 529.0,730.6 530.1,730.9 531.2,732.9 532.3,733.0 533.4,732.9 534.4,732.5 535.5,732.4 536.6,732.3 537.7,732.1 538.8,731.9 539.9,731.4 541.0,731.3 542.1,730.8 543.2,730.3 544.3,730.6 545.4,731.1 546.5,730.2 547.6,730.4 548.7,730.4 549.8,730.3 550.9,730.1 552.0,729.9 553.0,729.4 554.1,728.8 555.2,729.1 556.3,728.8 557.4,728.9 558.5,728.7 559.6,728.3 560.7,727.1 561.8,726.4 562.9,724.9 564.0,723.8 565.1,721.6 566.2,720.7 567.3,721.1 568.4,722.7 569.5,725.0 570.5,727.0 571.6,728.0 572.7,729.9 573.8,730.8 574.9,731.4 576.0,731.6 577.1,732.0 578.2,732.7 579.3,733.6 580.4,734.1 581.5,734.1 582.6,734.5 583.7,735.1 584.8,735.0 585.9,735.1 587.0,734.2 588.0,733.2 589.1,733.3 590.2,734.4 591.3,735.4 592.4,735.0 593.5,735.5 594.6,735.9 595.7,735.8 596.8,734.9 597.9,735.9 599.0,735.7 600.1,735.3 601.2,735.4 602.3,735.9 603.4,736.0 604.5,736.3 605.5,735.8 606.6,735.4 607.7,735.5 608.8,735.9 609.9,737.0 611.0,737.2 612.1,735.8 613.2,736.1 614.3,736.7 615.4,736.1 616.5,736.1 617.6,736.3 618.7,736.1 619.8,736.1 620.9,736.1 622.0,735.7 623.0,735.7 624.1,735.6 625.2,735.8 626.3,736.2 627.4,736.3 628.5,735.5 629.6,736.0 630.7,736.0 631.8,735.5 632.9,735.1 634.0,735.5 635.1,736.2 636.2,736.0 637.3,736.5 638.4,735.8 639.5,735.5 640.5,735.3 641.6,733.7 642.7,733.8 643.8,733.9 644.9,733.0 646.0,732.9 647.1,733.6 648.2,732.1 649.3,732.0 650.4,732.5 651.5,732.3 652.6,731.5 653.7,731.6 654.8,730.8 655.9,729.5 657.0,729.6 658.0,729.4 659.1,729.1 660.2,727.8 661.3,727.5 662.4,727.1 663.5,726.5 664.6,727.4 665.7,728.0 666.8,727.7 667.9,727.8 669.0,727.7 670.1,728.7 671.2,730.6 672.3,730.7 673.4,730.2 674.5,731.0 675.5,731.3 676.6,731.6 677.7,732.2 678.8,732.0 679.9,731.7 681.0,732.5 682.1,733.9 683.2,733.9 684.3,734.0 685.4,734.4 686.5,734.7 687.6,734.7 688.7,733.6 689.8,733.7 690.9,734.5" fill="none" stroke="#b373e0" stroke-width="2.2" stroke-linejoin="round" stroke-linecap="round"/>
<polyline points="146.2,687.2 147.2,685.9 148.3,686.3 149.4,685.9 150.5,686.1 151.6,686.9 152.7,687.4 153.8,686.8 154.9,687.1 156.0,686.7 157.1,686.2 158.2,686.6 159.3,686.2 160.4,686.5 161.5,685.9 162.6,686.7 163.7,685.3 164.7,685.7 165.8,685.2 166.9,683.8 168.0,684.1 169.1,684.6 170.2,685.4 171.3,685.3 172.4,685.3 173.5,685.2 174.6,685.1 175.7,684.7 176.8,685.4 177.9,684.9 179.0,685.1 180.1,685.5 181.2,685.7 182.2,685.3 183.3,685.3 184.4,684.2 185.5,684.5 186.6,684.2 187.7,685.6 188.8,685.1 189.9,684.0 191.0,684.0 192.1,683.7 193.2,683.3 194.3,683.4 195.4,683.5 196.5,682.5 197.6,682.5 198.7,682.8 199.7,682.6 200.8,682.5 201.9,681.9 203.0,681.2 204.1,681.0 205.2,680.9 206.3,679.2 207.4,679.1 208.5,678.3 209.6,677.0 210.7,676.0 211.8,677.2 212.9,676.9 214.0,677.1 215.1,677.3 216.2,677.1 217.2,677.7 218.3,678.3 219.4,678.8 220.5,679.4 221.6,679.0 222.7,680.4 223.8,680.6 224.9,681.6 226.0,682.4 227.1,683.4 228.2,683.7 229.3,683.6 230.4,683.9 231.5,684.7 232.6,684.4 233.7,685.4 234.7,685.4 235.8,686.0 236.9,685.3 238.0,685.7 239.1,685.7 240.2,686.0 241.3,686.6 242.4,686.4 243.5,686.3 244.6,686.3 245.7,687.1 246.8,686.5 247.9,687.3 249.0,687.5 250.1,688.2 251.2,687.3 252.2,686.8 253.3,686.5 254.4,685.9 255.5,686.9 256.6,686.6 257.7,687.0 258.8,687.3 259.9,687.1 261.0,686.6 262.1,686.8 263.2,686.9 264.3,687.7 265.4,687.8 266.5,687.1 267.6,688.0 268.7,688.9 269.8,687.5 270.8,687.1 271.9,687.1 273.0,685.8 274.1,686.1 275.2,685.6 276.3,686.1 277.4,685.6 278.5,686.0 279.6,686.1 280.7,685.9 281.8,685.1 282.9,684.4 284.0,684.7 285.1,683.8 286.2,684.2 287.3,684.0 288.3,684.0 289.4,682.5 290.5,682.3 291.6,682.8 292.7,682.1 293.8,681.0 294.9,681.1 296.0,680.6 297.1,680.1 298.2,680.6 299.3,679.9 300.4,679.9 301.5,679.2 302.6,680.0 303.7,680.0 304.8,679.8 305.8,679.3 306.9,681.4 308.0,682.3 309.1,682.3 310.2,683.3 311.3,683.5 312.4,685.1 313.5,685.3 314.6,685.2 315.7,685.1 316.8,684.8 317.9,685.1 319.0,685.9 320.1,685.2 321.2,685.6 322.3,685.1 323.3,685.9 324.4,687.4 325.5,687.7 326.6,687.6 327.7,687.9 328.8,688.0 329.9,688.3 331.0,688.1 332.1,688.9 333.2,688.9 334.3,687.5 335.4,687.0 336.5,687.5 337.6,687.9 338.7,688.2 339.8,689.3 340.8,689.0 341.9,688.5 343.0,688.5 344.1,688.2 345.2,687.9 346.3,688.4 347.4,688.7 348.5,689.4 349.6,689.3 350.7,689.3 351.8,689.4 352.9,689.7 354.0,689.3 355.1,688.0 356.2,687.3 357.3,688.4 358.3,688.7 359.4,688.4 360.5,687.9 361.6,687.2 362.7,687.9 363.8,688.3 364.9,687.4 366.0,688.1 367.1,687.7 368.2,689.0 369.3,689.0 370.4,688.5 371.5,687.7 372.6,688.0 373.7,687.8 374.8,688.7 375.8,688.0 376.9,688.1 378.0,688.5 379.1,688.2 380.2,688.5 381.3,688.2 382.4,688.2 383.5,687.5 384.6,688.0 385.7,689.5 386.8,689.1 387.9,689.1 389.0,688.6 390.1,688.1 391.2,688.4 392.3,689.1 393.3,689.1 394.4,688.9 395.5,689.1 396.6,688.0 397.7,688.4 398.8,687.8 399.9,688.0 401.0,688.4 402.1,688.2 403.2,689.2 404.3,689.1 405.4,688.9 406.5,689.2 407.6,689.4 408.7,688.9 409.8,689.1 410.9,688.8 411.9,689.1 413.0,689.0 414.1,689.2 415.2,689.5 416.3,689.9 417.4,690.1 418.5,689.2 419.6,689.2 420.7,689.9 421.8,690.2 422.9,689.7 424.0,689.0 425.1,688.9 426.2,689.2 427.3,688.9 428.4,688.5 429.4,688.6 430.5,688.4 431.6,689.1 432.7,689.4 433.8,687.9 434.9,688.0 436.0,687.7 437.1,687.9 438.2,688.3 439.3,687.6 440.4,687.2 441.5,687.0 442.6,686.7 443.7,687.6 444.8,687.2 445.9,686.2 446.9,686.6 448.0,686.5 449.1,686.4 450.2,685.9 451.3,685.4 452.4,686.0 453.5,686.9 454.6,687.8 455.7,686.2 456.8,686.6 457.9,687.1 459.0,686.7 460.1,686.6 461.2,685.7 462.3,686.8 463.4,684.9 464.4,684.6 465.5,686.1 466.6,686.0 467.7,686.9 468.8,686.5 469.9,685.3 471.0,685.4 472.1,685.9 473.2,686.3 474.3,685.7 475.4,685.1 476.5,684.5 477.6,685.1 478.7,684.9 479.8,684.6 480.9,684.2 481.9,683.6 483.0,683.1 484.1,683.2 485.2,682.7 486.3,682.9 487.4,681.9 488.5,681.2 489.6,680.7 490.7,680.0 491.8,678.8 492.9,677.3 494.0,676.2 495.1,674.6 496.2,671.2 497.3,666.0 498.4,659.3 499.4,650.1 500.5,637.7 501.6,622.8 502.7,605.2 503.8,588.4 504.9,575.6 506.0,571.3 507.1,577.5 508.2,591.5 509.3,608.7 510.4,625.8 511.5,640.5 512.6,652.5 513.7,661.8 514.8,667.3 515.9,671.5 516.9,674.7 518.0,676.2 519.1,677.8 520.2,678.7 521.3,680.1 522.4,680.1 523.5,680.8 524.6,680.6 525.7,680.7 526.8,680.8 527.9,680.3 529.0,679.5 530.1,680.1 531.2,680.4 532.3,681.3 533.4,681.0 534.4,680.4 535.5,680.6 536.6,680.9 537.7,681.0 538.8,680.7 539.9,681.3 541.0,681.3 542.1,680.0 543.2,680.1 544.3,679.1 545.4,678.7 546.5,680.5 547.6,679.4 548.7,680.0 549.8,679.9 550.9,679.2 552.0,679.0 553.0,679.4 554.1,679.7 555.2,679.2 556.3,678.5 557.4,677.2 558.5,676.8 559.6,675.5 560.7,674.7 561.8,672.6 562.9,670.2 564.0,668.3 565.1,667.3 566.2,665.4 567.3,667.5 568.4,669.5 569.5,672.1 570.5,674.6 571.6,676.4 572.7,677.6 573.8,678.9 574.9,679.6 576.0,680.6 577.1,680.8 578.2,682.5 579.3,683.0 580.4,683.1 581.5,683.9 582.6,684.1 583.7,684.2 584.8,685.0 585.9,685.1 587.0,685.2 588.0,685.0 589.1,685.1 590.2,685.4 591.3,685.2 592.4,685.3 593.5,685.7 594.6,686.1 595.7,686.7 596.8,686.5 597.9,686.7 599.0,687.0 600.1,686.6 601.2,687.7 602.3,688.0 603.4,687.5 604.5,687.0 605.5,688.3 606.6,688.5 607.7,687.3 608.8,687.5 609.9,687.5 611.0,688.0 612.1,687.9 613.2,688.2 614.3,688.2 615.4,688.0 616.5,688.6 617.6,688.4 618.7,687.8 619.8,688.2 620.9,689.0 622.0,688.4 623.0,688.3 624.1,688.6 625.2,688.7 626.3,688.0 627.4,686.7 628.5,688.0 629.6,687.4 630.7,686.1 631.8,686.5 632.9,687.0 634.0,686.5 635.1,686.5 636.2,686.8 637.3,686.3 638.4,687.7 639.5,686.8 640.5,686.4 641.6,686.1 642.7,686.9 643.8,686.4 644.9,685.8 646.0,685.5 647.1,684.5 648.2,684.7 649.3,684.8 650.4,685.1 651.5,684.5 652.6,685.1 653.7,685.5 654.8,685.8 655.9,685.0 657.0,684.9 658.0,685.0 659.1,684.2 660.2,683.2 661.3,682.4 662.4,682.0 663.5,682.5 664.6,682.8 665.7,682.8 666.8,683.5 667.9,683.8 669.0,683.7 670.1,684.1 671.2,684.6 672.3,684.8 673.4,685.1 674.5,685.6 675.5,685.8 676.6,686.1 677.7,686.9 678.8,686.7 679.9,687.5 681.0,686.8 682.1,688.0 683.2,687.2 684.3,687.9 685.4,688.2 686.5,686.8 687.6,687.3 688.7,688.0 689.8,687.4 690.9,687.8" fill="none" stroke="#c8960e" stroke-width="2.2" stroke-linejoin="round" stroke-linecap="round"/>
<line x1="498.9" y1="564.5" x2="498.9" y2="976.0" stroke="#f02020" stroke-width="2.5" stroke-dasharray="4.6 3.0"/>
<line x1="502.9" y1="564.5" x2="502.9" y2="976.0" stroke="#20903a" stroke-width="2.5" stroke-dasharray="4.6 3.0"/>
<line x1="506.9" y1="564.5" x2="506.9" y2="976.0" stroke="#e0a000" stroke-width="2.5" stroke-dasharray="4.6 3.0"/>
<text transform="translate(147.6 680.7) scale(1 1.015)" font-size="24.9" font-weight="bold">6</text>
<text transform="translate(147.8 728.4) scale(1 1.061)" font-size="24.1" font-weight="bold">5</text>
<text transform="translate(148.2 779.3) scale(1 1.141)" font-size="22.4" font-weight="bold">4</text>
<text transform="translate(148.0 825.5) scale(1 1.046)" font-size="24.1" font-weight="bold">3</text>
<text transform="translate(147.7 876.2) scale(1 1.015)" font-size="24.9" font-weight="bold">2</text>
<text transform="translate(145.6 928.3) skewX(-12)" font-size="26.5" stroke="#000" stroke-width="1.5" stroke-linejoin="round">1</text>
<text transform="translate(528.8 631.1) scale(1 0.960)" font-size="35.5" font-weight="bold" fill="#c8960e">960</text>
<line x1="532.1" y1="608.5" x2="521.2" y2="590.9" stroke="#c8960e" stroke-width="3.2"/>
<polygon points="511.0,574.3 529.1,586.0 521.2,590.9 513.4,595.8" fill="#c8960e"/>
<line x1="534.1" y1="636.3" x2="523.7" y2="646.9" stroke="#b373e0" stroke-width="3.2"/>
<polygon points="510.0,660.8 517.1,640.4 523.7,646.9 530.3,653.4" fill="#b373e0"/>
<text transform="translate(531.3 808.1) scale(1 1.041)" font-size="32.8" font-weight="bold" fill="#1763dc">955</text>
<line x1="532.1" y1="782.6" x2="519.4" y2="759.4" stroke="#2aa563" stroke-width="3.2"/>
<polygon points="510.0,742.3 527.5,755.0 519.4,759.4 511.3,763.8" fill="#2aa563"/>
<line x1="531.0" y1="797.3" x2="524.9" y2="799.3" stroke="#1763dc" stroke-width="3.2"/>
<polygon points="506.3,805.3 522.0,790.5 524.9,799.3 527.7,808.1" fill="#1763dc"/>
<text transform="translate(407.9 869.6) scale(1 0.969)" font-size="34.9" font-weight="bold" fill="#ee4450">950</text>
<line x1="468.7" y1="857.5" x2="478.4" y2="864.1" stroke="#ee4450" stroke-width="3.2"/>
<polygon points="494.5,875.0 473.2,871.7 478.4,864.1 483.6,856.4" fill="#ee4450"/>
<text transform="translate(709.2 66.4) scale(1 1.002)" font-size="49.0" stroke="#000" stroke-width="1.3">B</text>
<path d="M752.9 30.9H2001.2M752.9 460.0H2001.2" stroke="#000" stroke-width="3.9" fill="none"/>
<path d="M754.5 30.9V460.0M1999.6 30.9V460.0" stroke="#000" stroke-width="3.2" fill="none"/>
<text transform="translate(785.6 84.8) scale(1 0.960)" font-size="35.0" font-weight="bold">GP to Epiphysis Interface</text>
<g clip-path="url(#cp1)">
<g filter="url(#tx1)">
<rect x="769.1" y="82.1" width="266.8" height="368.5" fill="#16a4ee"/>
<ellipse cx="799.1" cy="402.1" rx="12.0" ry="45.0" fill="#1c7fa6"/>
<ellipse cx="795.1" cy="252.1" rx="7.0" ry="40.0" fill="#1c86a8"/>
<ellipse cx="989.1" cy="254.1" rx="16.0" ry="7.0" fill="#1685b0"/>
<ellipse cx="939.1" cy="302.1" rx="60.0" ry="40.0" fill="#1aaaf2"/>
<polygon points="769.1,82.1 769.1,142.1 787.1,141.6 812.1,173.1 852.1,205.1 857.6,211.6 869.1,220.1 886.9,231.6 926.9,231.6 945.5,219.6 964.1,213.1 982.9,207.6 1006.9,202.3 1039.1,197.1 1039.1,82.1" fill="#ff14c6"/>
<polygon points="837.1,164.1 869.1,174.1 901.1,198.1 939.1,210.1 929.1,230.1 889.1,233.1 861.1,214.1" fill="#e58fe4"/>
<ellipse cx="985.1" cy="182.1" rx="26.0" ry="14.0" fill="#ff3ccc"/>
<ellipse cx="864.1" cy="147.1" rx="28.0" ry="9.0" fill="#ff4fcc"/>
<ellipse cx="809.1" cy="144.1" rx="20.0" ry="11.0" fill="#e2123c" transform="rotate(25 809.1 144.1)"/>
<ellipse cx="827.1" cy="182.1" rx="8.0" ry="7.0" fill="#ea122c"/>
<ellipse cx="907.1" cy="104.1" rx="22.0" ry="5.0" fill="#d21222"/>
<ellipse cx="929.1" cy="105.1" rx="11.0" ry="4.0" fill="#153822"/>
<ellipse cx="943.1" cy="214.1" rx="4.0" ry="6.0" fill="#e2205c"/>
<ellipse cx="998.1" cy="240.1" rx="4.0" ry="8.0" fill="#8a2436"/>
<ellipse cx="996.1" cy="278.1" rx="3.0" ry="5.0" fill="#7c4a66"/>
<ellipse cx="801.1" cy="164.1" rx="9.0" ry="5.0" fill="#2a7a88" transform="rotate(40 801.1 164.1)"/>
</g>
<path d="M787.1 140.6 L812.1 172.1 L852.1 204.1 L857.6 210.6 L869.1 219.1 L886.9 230.6 L926.9 230.6 L945.5 218.6 L964.1 212.1 L982.9 206.6 L1006.9 201.3" fill="none" stroke="#fff" stroke-width="2.0" stroke-dasharray="9 6.3" stroke-linejoin="round"/>
<text transform="translate(798.2 132.9) scale(1 0.925)" font-size="36.5" font-weight="bold" fill="#fff">Epiphysis</text>
<text transform="translate(801.4 409.8) scale(1 1.008)" font-size="35.4" font-weight="bold" fill="#fff">GP</text>
<text transform="translate(915.6 409.8) scale(1 0.942)" font-size="36.8" font-weight="bold" fill="#fff">10µm</text>
<rect x="946.6" y="417.2" width="54.1" height="5.9" fill="#fff"/>
<text transform="translate(883.7 158.4) scale(1 0.960)" font-size="26.0" font-weight="bold">6</text>
<text transform="translate(908.4 165.6) scale(1 0.960)" font-size="26.0" font-weight="bold">5</text>
<text transform="translate(894.8 181.3) scale(1 0.960)" font-size="26.0" font-weight="bold">4</text>
<text transform="translate(913.0 196.4) scale(1 0.960)" font-size="26.0" font-weight="bold">3</text>
<text transform="translate(900.0 213.4) scale(1 0.960)" font-size="26.0" font-weight="bold">2</text>
<text transform="translate(908.8 234.9) scale(1 0.960)" font-size="26.0" font-weight="bold">1</text>
</g>
<g clip-path="url(#cp2)">
<rect x="1026.1" y="102.1" width="226.8" height="327.4" fill="#000"/>
<path d="M1024.1 140.6 L1049.1 172.1 L1089.1 204.1 L1094.6 210.6 L1106.1 219.1 L1123.9 230.6 L1163.9 230.6 L1182.5 218.6 L1201.1 212.1 L1219.9 206.6 L1243.9 201.3" fill="none" stroke="#fff" stroke-width="2.0" stroke-dasharray="9 6.3" stroke-linejoin="round"/>
<text transform="translate(1042.8 140.4) scale(1 0.960)" font-size="36.5" font-weight="bold" fill="#fff">ACP</text>
<rect x="1174.0" y="416.4" width="54.7" height="5.4" fill="#fff"/>
</g>
<g clip-path="url(#cp3)">
<rect x="1265.7" y="100.9" width="226.1" height="327.7" fill="#000"/>
<rect x="1392.7" y="101.9" width="4.0" height="5.0" fill="#6a6a10"/>
<rect x="1406.7" y="100.9" width="5.0" height="4.0" fill="#5a5a10"/>
<path d="M1263.7 140.2 L1288.7 171.7 L1328.7 203.7 L1334.2 210.2 L1345.7 218.7 L1363.5 230.2 L1403.5 230.2 L1422.1 218.2 L1440.7 211.7 L1459.5 206.2 L1483.5 200.9" fill="none" stroke="#fff" stroke-width="2.0" stroke-dasharray="9 6.3" stroke-linejoin="round"/>
<text transform="translate(1278.9 142.5) scale(1 0.960)" font-size="36.7" font-weight="bold" fill="#fff">ACP/HAP</text>
<rect x="1412.5" y="417.1" width="54.4" height="5.4" fill="#fff"/>
</g>
<g clip-path="url(#cp4)">
<rect x="1502.2" y="100.9" width="228.8" height="327.7" fill="#000"/>
<g filter="url(#tx2)">
<polygon points="1482.2,80.9 1482.2,138.9 1500.2,141.4 1525.2,172.9 1565.2,204.9 1570.7,211.4 1582.2,219.9 1600.0,231.4 1640.0,231.4 1658.6,219.4 1677.2,212.9 1696.0,207.4 1720.0,202.1 1752.2,197.9 1752.2,80.9" fill="#f40ee6"/>
<polygon points="1600.2,95.9 1603.2,106.9 1620.2,110.9 1628.2,117.9 1636.2,110.9 1650.2,106.9 1654.2,95.9" fill="#000"/>
<ellipse cx="1540.2" cy="142.9" rx="10.0" ry="3.0" fill="#30002a"/>
<ellipse cx="1642.2" cy="192.9" rx="3.0" ry="8.0" fill="#a0109a" transform="rotate(-20 1642.2 192.9)"/>
<ellipse cx="1658.2" cy="193.9" rx="2.0" ry="5.0" fill="#ff50f0"/>
</g>
<path d="M1500.2 139.4 L1525.2 170.9 L1565.2 202.9 L1570.7 209.4 L1582.2 217.9 L1600.0 229.4 L1640.0 229.4 L1658.6 217.4 L1677.2 210.9 L1696.0 205.4 L1720.0 200.1" fill="none" stroke="#fff" stroke-width="2.0" stroke-dasharray="9 6.3" stroke-linejoin="round"/>
<text transform="translate(1517.7 142.5) scale(1 0.960)" font-size="36.7" font-weight="bold" fill="#fff">HAP</text>
<rect x="1657.8" y="417.1" width="54.8" height="5.4" fill="#fff"/>
</g>
<g clip-path="url(#cp5)">
<g filter="url(#tx3)">
<rect x="1723.3" y="79.3" width="266.9" height="370.8" fill="#090998"/>
<ellipse cx="1863.3" cy="349.3" rx="110.0" ry="60.0" fill="#0b0ba8"/>
<polygon points="1723.3,79.3 1723.3,129.3 1753.3,147.3 1788.3,171.3 1828.3,199.3 1851.3,219.3 1883.3,223.3 1903.3,209.3 1938.3,198.3 1993.3,193.3 1993.3,79.3" fill="#03021a"/>
<ellipse cx="1954.3" cy="249.3" rx="4.0" ry="24.0" fill="#030330"/>
</g>
<path d="M1741.3 137.8 L1766.3 169.3 L1806.3 201.3 L1811.8 207.8 L1823.3 216.3 L1841.1 227.8 L1881.1 227.8 L1899.7 215.8 L1918.3 209.3 L1937.1 203.8 L1961.1 198.5" fill="none" stroke="#fff" stroke-width="2.0" stroke-dasharray="9 6.3" stroke-linejoin="round"/>
<text transform="translate(1757.1 142.8) scale(1 0.960)" font-size="36.8" font-weight="bold" fill="#fff">GAG</text>
<rect x="1892.0" y="413.6" width="54.8" height="5.4" fill="#fff"/>
</g>
<text transform="translate(708.4 602.5) scale(1 1.067)" font-size="45.7" stroke="#000" stroke-width="1.3">D</text>
<path d="M752.9 556.6H2001.2M752.9 985.4H2001.2" stroke="#000" stroke-width="3.9" fill="none"/>
<path d="M754.5 556.6V985.4M1999.6 556.6V985.4" stroke="#000" stroke-width="3.2" fill="none"/>
<text transform="translate(785.7 602.1) scale(1 0.960)" font-size="35.0" font-weight="bold">GP to Metaphysis Interface</text>
<g clip-path="url(#cp6)">
<g filter="url(#tx4)">
<rect x="767.2" y="601.3" width="262.6" height="388.5" fill="#1c84e6"/>
<ellipse cx="937.2" cy="711.3" rx="70.0" ry="55.0" fill="#1aa6f0"/>
<ellipse cx="847.2" cy="646.3" rx="70.0" ry="25.0" fill="#1c80e2"/>
<ellipse cx="827.2" cy="726.3" rx="55.0" ry="28.0" fill="#2466da"/>
<ellipse cx="987.2" cy="651.3" rx="30.0" ry="30.0" fill="#1d8ee8"/>
<polygon points="767.2,759.3 827.2,767.3 879.2,771.3 897.2,789.3 889.2,853.3 849.2,885.3 767.2,887.3" fill="#0e1266"/>
<polygon points="767.2,853.3 827.2,861.3 867.2,861.3 857.2,883.3 807.2,893.3 767.2,891.3" fill="#04041c"/>
<polygon points="955.2,827.3 1027.2,817.3 1027.2,867.3 959.2,861.3" fill="#0e2284"/>
<polygon points="787.2,771.3 828.2,761.3 852.2,753.3 860.2,766.3 878.2,780.3 884.2,806.3 878.2,846.3 860.2,863.3 820.2,871.3 787.2,859.3 767.2,851.3 767.2,771.3" fill="#52099e"/>
<polygon points="767.2,901.3 827.2,900.3 847.2,897.3 878.2,883.3 900.2,859.3 926.2,830.3 942.2,833.3 945.2,886.3 950.2,913.3 962.2,921.3 1027.2,921.3 1027.2,991.3 767.2,991.3" fill="#ff16a4"/>
<polygon points="959.2,859.3 1027.2,863.3 1027.2,956.3 987.2,971.3 955.2,921.3" fill="#8e1270"/>
<ellipse cx="832.2" cy="939.3" rx="50.0" ry="24.0" fill="#ff1aae"/>
<ellipse cx="897.2" cy="967.3" rx="70.0" ry="12.0" fill="#d21ac8"/>
<ellipse cx="992.2" cy="903.3" rx="14.0" ry="28.0" fill="#661250"/>
<ellipse cx="947.2" cy="873.3" rx="3.0" ry="22.0" fill="#a61212"/>
<polygon points="888.2,778.3 907.2,777.3 913.2,797.3 907.2,819.3 899.2,835.3 891.2,826.3 888.2,801.3" fill="#d8e820"/>
<polygon points="947.2,793.3 963.2,779.3 985.2,781.3 994.2,795.3 984.2,815.3 969.2,825.3 953.2,823.3 939.2,817.3" fill="#d8e820"/>
<polygon points="907.2,821.3 937.2,799.3 957.2,789.3 959.2,803.3 937.2,817.3 915.2,833.3" fill="#bcc41c"/>
<polygon points="953.2,809.3 972.2,808.3 969.2,822.3 955.2,824.3" fill="#0c0c14"/>
<polygon points="903.2,829.3 891.2,853.3 879.2,873.3 857.2,887.3 827.2,894.3 787.2,892.3 787.2,887.3 827.2,889.3 855.2,882.3 875.2,867.3 886.2,849.3 896.2,825.3" fill="#e8c818"/>
<ellipse cx="1001.2" cy="798.3" rx="7.0" ry="10.0" fill="#22e2f2"/>
</g>
<path d="M795.4 869.5 L814.6 877.2 L843.9 879.4 L867.9 864.7 L883.9 842.0 L887.1 826.0 L887.1 786.1 L890.6 776.7 L899.9 774.9 L915.9 775.4 L931.9 780.7 L950.6 779.4 L969.2 774.1 L982.5 774.9 L993.2 783.4 L1006.5 794.1 L1003.9 804.7 L995.9 816.7 L979.9 831.4 L969.2 850.0 L962.6 874.0 L961.2 892.7 L966.6 911.4 L977.2 927.4 L993.2 940.7 L1009.2 954.0 L1024.2 966.3" fill="none" stroke="#fff" stroke-width="2.0" stroke-dasharray="9 6.3" stroke-linejoin="round"/>
<path d="M794.6 892.7 L814.6 896.2 L843.9 897.5 L862.6 887.4 L881.2 871.4 L899.9 847.4 L915.9 828.7 L937.2 823.4 L953.2 824.7 L958.0 828.7 L956.4 844.7 L945.2 868.7 L942.6 892.7 L943.9 919.4 L953.2 938.0 L966.6 956.7 L982.5 968.7 L999.2 979.3" fill="none" stroke="#fff" stroke-width="2.0" stroke-dasharray="9 6.3" stroke-linejoin="round"/>
<text transform="translate(798.2 678.9) scale(1 0.960)" font-size="34.1" font-weight="bold" fill="#fff">GP</text>
<text transform="translate(793.2 921.8) scale(1 0.960)" font-size="35.2" font-weight="bold" fill="#fff">Metaphysis</text>
<text transform="translate(918.2 948.2) scale(1 0.960)" font-size="34.2" font-weight="bold" fill="#fff">10µm</text>
<rect x="929.8" y="955.9" width="54.1" height="5.9" fill="#fff"/>
<text transform="translate(971.0 783.1) scale(1 0.960)" font-size="24.5" font-weight="bold">1</text>
<text transform="translate(978.0 797.8) scale(1 0.960)" font-size="19.5" font-weight="bold">2</text>
<text transform="translate(932.0 826.3) scale(1 0.960)" font-size="25.5" font-weight="bold">3</text>
<text transform="translate(915.5 860.5) scale(1 0.960)" font-size="25.5" font-weight="bold">4</text>
<text transform="translate(898.7 881.2) scale(1 0.960)" font-size="25.5" font-weight="bold">5</text>
<text transform="translate(923.0 900.9) scale(1 0.960)" font-size="25.5" font-weight="bold">6</text>
</g>
<g clip-path="url(#cp7)">
<rect x="1024.2" y="623.2" width="225.8" height="347.4" fill="#000"/>
<g filter="url(#tx5)">
<polygon points="1126.2,780.2 1142.2,778.2 1154.2,793.2 1150.2,815.2 1138.2,835.2 1128.2,821.2" fill="#16d816"/>
<polygon points="1202.2,783.2 1220.2,778.2 1236.2,789.2 1249.2,801.2 1240.2,815.2 1222.2,807.2 1205.2,803.2" fill="#16e016"/>
<polygon points="1146.2,818.2 1130.2,851.2 1112.2,877.2 1104.2,873.2 1122.2,847.2 1136.2,818.2" fill="#0c980c"/>
<ellipse cx="1184.2" cy="801.2" rx="14.0" ry="12.0" fill="#086808"/>
<ellipse cx="1194.2" cy="885.2" rx="3.0" ry="20.0" fill="#065006"/>
</g>
<path d="M1035.4 871.4 L1054.6 879.1 L1083.9 881.3 L1107.9 866.6 L1123.9 843.9 L1127.1 827.9 L1127.1 788.0 L1130.6 778.6 L1139.9 776.8 L1155.9 777.3 L1171.9 782.6 L1190.6 781.3 L1209.2 776.0 L1222.5 776.8 L1233.2 785.3 L1246.5 796.0 L1243.9 806.6 L1235.9 818.6 L1219.9 833.3 L1209.2 851.9 L1202.6 875.9 L1201.2 894.6 L1206.6 913.3 L1217.2 929.3 L1233.2 942.6 L1249.2 955.9 L1264.2 968.2" fill="none" stroke="#fff" stroke-width="2.0" stroke-dasharray="9 6.3" stroke-linejoin="round"/>
<path d="M1034.6 894.6 L1054.6 898.1 L1083.9 899.4 L1102.6 889.3 L1121.2 873.3 L1139.9 849.3 L1155.9 830.6 L1177.2 825.3 L1193.2 826.6 L1198.0 830.6 L1196.4 846.6 L1185.2 870.6 L1182.6 894.6 L1183.9 921.3 L1193.2 939.9 L1206.6 958.6 L1222.5 970.6 L1239.2 981.2" fill="none" stroke="#fff" stroke-width="2.0" stroke-dasharray="9 6.3" stroke-linejoin="round"/>
<text transform="translate(1036.0 668.3) scale(1 0.960)" font-size="34.4" font-weight="bold" fill="#fff">ACP</text>
<rect x="1174.0" y="952.7" width="54.7" height="5.9" fill="#fff"/>
</g>
<g clip-path="url(#cp8)">
<rect x="1263.4" y="622.8" width="228.4" height="344.9" fill="#000"/>
<g filter="url(#tx6)">
<polygon points="1371.4,781.3 1384.4,778.3 1392.4,792.3 1389.4,816.3 1381.4,834.3 1373.4,823.3 1370.4,800.3" fill="#f0f014"/>
<polygon points="1423.4,794.3 1441.4,779.3 1465.4,779.3 1479.4,788.3 1485.4,800.3 1475.4,814.3 1461.4,819.3 1453.4,810.3 1437.4,812.3 1425.4,816.3" fill="#f0f014"/>
<polygon points="1387.4,798.3 1405.4,796.3 1425.4,790.3 1441.4,780.3 1437.4,810.3 1415.4,818.3 1401.4,814.3 1391.4,824.3" fill="#b8b812"/>
<polygon points="1433.4,812.3 1453.4,810.3 1451.4,823.3 1437.4,825.3" fill="#000"/>
<polygon points="1382.4,830.3 1369.4,854.3 1355.4,872.3 1331.4,886.3 1305.4,892.3 1269.4,891.3 1269.4,887.3 1305.4,888.3 1329.4,881.3 1350.4,867.3 1363.4,850.3 1375.4,826.3" fill="#c8c010"/>
<ellipse cx="1447.4" cy="832.3" rx="2.5" ry="12.0" fill="#a09a10"/>
<ellipse cx="1429.4" cy="882.3" rx="2.2" ry="16.0" fill="#8a8410"/>
</g>
<path d="M1276.6 868.5 L1295.8 876.2 L1325.1 878.4 L1349.1 863.7 L1365.1 841.0 L1368.3 825.0 L1368.3 785.1 L1371.8 775.7 L1381.1 773.9 L1397.1 774.4 L1413.1 779.7 L1431.8 778.4 L1450.4 773.1 L1463.7 773.9 L1474.4 782.4 L1487.7 793.1 L1485.1 803.7 L1477.1 815.7 L1461.1 830.4 L1450.4 849.0 L1443.8 873.0 L1442.4 891.7 L1447.8 910.4 L1458.4 926.4 L1474.4 939.7 L1490.4 953.0 L1505.4 965.3" fill="none" stroke="#fff" stroke-width="2.0" stroke-dasharray="9 6.3" stroke-linejoin="round"/>
<path d="M1275.8 891.7 L1295.8 895.2 L1325.1 896.5 L1343.8 886.4 L1362.4 870.4 L1381.1 846.4 L1397.1 827.7 L1418.4 822.4 L1434.4 823.7 L1439.2 827.7 L1437.6 843.7 L1426.4 867.7 L1423.8 891.7 L1425.1 918.4 L1434.4 937.0 L1447.8 955.7 L1463.7 967.7 L1480.4 978.3" fill="none" stroke="#fff" stroke-width="2.0" stroke-dasharray="9 6.3" stroke-linejoin="round"/>
<text transform="translate(1279.0 667.6) scale(1 0.960)" font-size="35.1" font-weight="bold" fill="#fff">ACP/HAP</text>
<rect x="1402.1" y="952.0" width="54.5" height="5.8" fill="#fff"/>
</g>
<g clip-path="url(#cp9)">
<rect x="1502.9" y="622.8" width="228.1" height="344.9" fill="#000"/>
<g filter="url(#tx7)">
<polygon points="1482.9,895.8 1512.9,897.8 1530.9,901.8 1564.9,901.8 1584.9,886.8 1607.9,869.8 1626.9,846.8 1645.9,832.8 1656.9,840.8 1664.9,857.8 1659.9,884.8 1659.9,922.8 1664.9,942.8 1680.9,958.8 1699.9,972.8 1699.9,992.8 1482.9,992.8" fill="#b400b4"/>
<polygon points="1670.9,830.8 1675.9,828.8 1676.9,846.8 1671.9,850.8" fill="#b400b4"/>
<ellipse cx="1620.9" cy="890.8" rx="6.0" ry="4.0" fill="#5a005a"/>
<ellipse cx="1602.9" cy="912.8" rx="8.0" ry="4.0" fill="#6a006a"/>
</g>
<path d="M1510.1 875.0 L1529.3 882.7 L1558.6 884.9 L1582.6 870.2 L1598.6 847.5 L1601.8 831.5 L1601.8 791.6 L1605.3 782.2 L1614.6 780.4 L1630.6 780.9 L1646.6 786.2 L1665.3 784.9 L1683.9 779.6 L1697.2 780.4 L1707.9 788.9 L1721.2 799.6 L1718.6 810.2 L1710.6 822.2 L1694.6 836.9 L1683.9 855.5 L1677.3 879.5 L1675.9 898.2 L1681.3 916.9 L1691.9 932.9 L1707.9 946.2 L1723.9 959.5 L1738.9 971.8" fill="none" stroke="#fff" stroke-width="2.0" stroke-dasharray="9 6.3" stroke-linejoin="round"/>
<path d="M1509.3 898.2 L1529.3 901.7 L1558.6 903.0 L1577.3 892.9 L1595.9 876.9 L1614.6 852.9 L1630.6 834.2 L1651.9 828.9 L1667.9 830.2 L1672.7 834.2 L1671.1 850.2 L1659.9 874.2 L1657.3 898.2 L1658.6 924.9 L1667.9 943.5 L1681.3 962.2 L1697.2 974.2 L1713.9 984.8" fill="none" stroke="#fff" stroke-width="2.0" stroke-dasharray="9 6.3" stroke-linejoin="round"/>
<text transform="translate(1528.2 667.6) scale(1 0.960)" font-size="34.9" font-weight="bold" fill="#fff">HAP</text>
<rect x="1650.1" y="952.0" width="54.4" height="5.8" fill="#fff"/>
</g>
<g clip-path="url(#cp10)">
<g filter="url(#tx8)">
<rect x="1726.3" y="601.6" width="265.8" height="388.1" fill="#0c0cc4"/>
<ellipse cx="1806.3" cy="751.6" rx="70.0" ry="30.0" fill="#0a0a9c"/>
<ellipse cx="1776.3" cy="836.6" rx="40.0" ry="28.0" fill="#080894"/>
<polygon points="1720.8,886.6 1750.8,886.6 1780.8,890.6 1810.8,874.6 1832.8,854.6 1840.8,824.6 1842.8,789.6 1852.8,782.6 1890.8,788.6 1930.8,780.6 1955.8,794.6 1958.8,806.6 1945.8,822.6 1930.8,839.6 1920.8,864.6 1916.8,899.6 1922.8,924.6 1936.8,944.6 1950.8,959.6 1950.8,994.6 1720.8,994.6" fill="#000005"/>
</g>
<path d="M1752.0 872.8 L1771.2 880.5 L1800.5 882.7 L1824.5 868.0 L1840.5 845.3 L1843.7 829.3 L1843.7 789.4 L1847.2 780.0 L1856.5 778.2 L1872.5 778.7 L1888.5 784.0 L1907.2 782.7 L1925.8 777.4 L1939.1 778.2 L1949.8 786.7 L1963.1 797.4 L1960.5 808.0 L1952.5 820.0 L1936.5 834.7 L1925.8 853.3 L1919.2 877.3 L1917.8 896.0 L1923.2 914.7 L1933.8 930.7 L1949.8 944.0 L1965.8 957.3 L1980.8 969.6" fill="none" stroke="#fff" stroke-width="2.0" stroke-dasharray="9 6.3" stroke-linejoin="round"/>
<path d="M1751.2 896.0 L1771.2 899.5 L1800.5 900.8 L1819.2 890.7 L1837.8 874.7 L1856.5 850.7 L1872.5 832.0 L1893.8 826.7 L1909.8 828.0 L1914.6 832.0 L1913.0 848.0 L1901.8 872.0 L1899.2 896.0 L1900.5 922.7 L1909.8 941.3 L1923.2 960.0 L1939.1 972.0 L1955.8 982.6" fill="none" stroke="#fff" stroke-width="2.0" stroke-dasharray="9 6.3" stroke-linejoin="round"/>
<text transform="translate(1759.4 663.0) scale(1 0.960)" font-size="35.8" font-weight="bold" fill="#fff">GAG</text>
<rect x="1898.1" y="950.1" width="54.8" height="5.8" fill="#fff"/>
</g>
<text transform="translate(50.3 1116.8) scale(1 1.063)" font-size="46.5" stroke="#000" stroke-width="1.3">E</text>
<g clip-path="url(#cp11)">
<g filter="url(#hm1)">
<rect x="80.1" y="1045.3" width="323.9" height="409.2" fill="url(#vg1)"/>
<polygon points="80.1,1170.3 182.1,1170.3 182.1,1215.3 80.1,1215.3" fill="#7a7a7a" filter="url(#bl5)"/>
<polygon points="80.1,1219.3 182.1,1215.3 182.1,1250.3 80.1,1250.3" fill="#4a4a4a" filter="url(#bl5)"/>
<polygon points="80.1,1089.3 140.1,1087.3 180.1,1097.3 230.1,1115.3 310.1,1125.3 410.1,1129.3 410.1,1149.3 310.1,1149.3 250.1,1139.3 190.1,1129.3 150.1,1133.3 80.1,1129.3" fill="#a7a7a7" filter="url(#bl8)"/>
<ellipse cx="150.1" cy="1113.3" rx="45.0" ry="16.0" fill="#b0b0b0" filter="url(#bl5)"/>
<polygon points="80.1,1075.3 410.1,1075.3 410.1,1083.3 80.1,1079.3" fill="#7d7d7d" filter="url(#bl3)"/>
</g></g>
<rect x="180.5" y="1077.0" width="192.0" height="266.9" fill="none" stroke="#000" stroke-width="3.0"/>
<text transform="translate(191.8 1125.6) scale(1 1.060)" font-size="33.6" font-weight="bold">Epiphysis</text>
<text transform="translate(117.2 1388.6) scale(1 1.050)" font-size="34.5" font-weight="bold" fill="#fff">GP</text>
<text transform="translate(284.4 1381.9) scale(1 1.050)" font-size="35.8" font-weight="bold" fill="#fff">5 µm</text>
<rect x="291.1" y="1393.1" width="68.6" height="9.6" fill="#fff"/>
<rect x="401.3" y="1084.1" width="26.6" height="327.3" fill="url(#cb)"/>
<line x1="401.7" y1="1084.1" x2="401.7" y2="1411.4" stroke="#48c8d0" stroke-width="0.8" opacity="0.7"/>
<line x1="427.9" y1="1129.9" x2="436.9" y2="1129.9" stroke="#15747c" stroke-width="1.7"/>
<text transform="translate(439.2 1138.3) scale(1 0.970)" font-size="24.4" stroke="#000" stroke-width="0.4">60</text>
<line x1="427.9" y1="1176.0" x2="432.9" y2="1176.0" stroke="#15747c" stroke-width="1.7"/>
<line x1="427.9" y1="1222.1" x2="436.9" y2="1222.1" stroke="#15747c" stroke-width="1.7"/>
<text transform="translate(439.2 1230.5) scale(1 0.970)" font-size="24.4" stroke="#000" stroke-width="0.4">40</text>
<line x1="427.9" y1="1268.2" x2="432.9" y2="1268.2" stroke="#15747c" stroke-width="1.7"/>
<line x1="427.9" y1="1314.3" x2="436.9" y2="1314.3" stroke="#15747c" stroke-width="1.7"/>
<text transform="translate(439.2 1322.7) scale(1 0.970)" font-size="24.4" stroke="#000" stroke-width="0.4">20</text>
<line x1="427.9" y1="1360.4" x2="432.9" y2="1360.4" stroke="#15747c" stroke-width="1.7"/>
<text transform="translate(515.9 1121.2) scale(1 1.050)" font-size="35.7" font-weight="bold">FWHM</text>
<text transform="translate(627.2 1124.7) scale(1 1.050)" font-size="23.9" font-weight="bold">960</text>
<g clip-path="url(#cp12)">
<g filter="url(#hm2)">
<rect x="458.5" y="1120.0" width="252.0" height="326.7" fill="url(#vg2)"/>
<polygon points="458.5,1120.0 718.5,1120.0 718.5,1214.0 638.5,1216.0 578.5,1206.0 528.5,1196.0 458.5,1196.0" fill="#333333" filter="url(#bl3)"/>
<polygon points="498.5,1236.0 548.5,1234.0 598.5,1238.0 638.5,1230.0 718.5,1236.0 718.5,1292.0 648.5,1290.0 598.5,1295.0 558.5,1280.0 518.5,1262.0" fill="#acacac" filter="url(#bl8)"/>
<ellipse cx="638.5" cy="1258.0" rx="40.0" ry="16.0" fill="#b5b5b5" filter="url(#bl5)"/>
<polygon points="458.5,1216.0 548.5,1214.0 608.5,1224.0 718.5,1230.0 718.5,1242.0 588.5,1240.0 458.5,1234.0" fill="#878787" filter="url(#bl8)"/>
<ellipse cx="533.5" cy="1400.0" rx="40.0" ry="12.0" fill="#616161" filter="url(#bl8)"/>
</g></g>
<rect x="488.5" y="1150.0" width="192.0" height="266.7" fill="none" stroke="#000" stroke-width="3.0"/>
<text transform="translate(596.6 1387.3) scale(1 1.050)" font-size="35.8" font-weight="bold" fill="#fff">5 µm</text>
<rect x="599.0" y="1396.6" width="68.1" height="9.4" fill="#fff"/>
<rect x="707.1" y="1153.8" width="20.2" height="263.2" fill="url(#cb)"/>
<line x1="707.5" y1="1153.8" x2="707.5" y2="1417.0" stroke="#48c8d0" stroke-width="0.8" opacity="0.7"/>
<line x1="727.3" y1="1161.6" x2="733.6" y2="1161.6" stroke="#15747c" stroke-width="1.7"/>
<text transform="translate(736.5 1169.4) scale(1 0.970)" font-size="19.1" stroke="#000" stroke-width="0.4">22</text>
<line x1="727.3" y1="1203.3" x2="731.1" y2="1203.3" stroke="#15747c" stroke-width="1.7"/>
<line x1="727.3" y1="1245.0" x2="733.6" y2="1245.0" stroke="#15747c" stroke-width="1.7"/>
<text transform="translate(736.5 1252.8) scale(1 0.970)" font-size="19.1" stroke="#000" stroke-width="0.4">20</text>
<line x1="727.3" y1="1286.7" x2="731.1" y2="1286.7" stroke="#15747c" stroke-width="1.7"/>
<line x1="727.3" y1="1328.3" x2="733.6" y2="1328.3" stroke="#15747c" stroke-width="1.7"/>
<text transform="translate(736.5 1336.1) scale(1 0.970)" font-size="19.1" stroke="#000" stroke-width="0.4">18</text>
<line x1="727.3" y1="1370.0" x2="731.1" y2="1370.0" stroke="#15747c" stroke-width="1.7"/>
<line x1="727.3" y1="1411.7" x2="733.6" y2="1411.7" stroke="#15747c" stroke-width="1.7"/>
<text transform="translate(736.5 1419.5) scale(1 0.970)" font-size="19.1" stroke="#000" stroke-width="0.4">16</text>
<text transform="translate(761.8 1110.0) scale(1 1.033)" font-size="47.0" stroke="#000" stroke-width="1.3">F</text>
<g clip-path="url(#cp13)">
<g filter="url(#hm3)">
<rect x="775.0" y="1053.3" width="326.4" height="392.9" fill="url(#vg3)"/>
<ellipse cx="850.0" cy="1153.3" rx="50.0" ry="40.0" fill="#828282" filter="url(#bl12)"/>
<ellipse cx="1005.0" cy="1213.3" rx="70.0" ry="40.0" fill="#858585" filter="url(#bl12)"/>
</g></g>
<rect x="880.5" y="1084.8" width="191.7" height="266.3" fill="none" stroke="#000" stroke-width="3.0"/>
<text transform="translate(887.2 1132.0) scale(1 1.050)" font-size="35.4" font-weight="bold">Epiphysis</text>
<text transform="translate(824.8 1395.2) scale(1 0.950)" font-size="31.5" font-weight="bold" fill="#fff">CO<tspan font-size="21.4" dy="8.2">3</tspan><tspan font-size="21.4" dy="-17.6">2-</tspan></text>
<text transform="translate(1016.1 1401.8) scale(1 1.050)" font-size="35.0" font-weight="bold" fill="#fff">GP</text>
<rect x="1116.7" y="1085.8" width="27.1" height="327.0" fill="url(#cb)"/>
<line x1="1117.1" y1="1085.8" x2="1117.1" y2="1412.8" stroke="#48c8d0" stroke-width="0.8" opacity="0.7"/>
<line x1="1143.8" y1="1123.4" x2="1148.3" y2="1123.4" stroke="#15747c" stroke-width="1.7"/>
<line x1="1143.8" y1="1163.6" x2="1151.8" y2="1163.6" stroke="#15747c" stroke-width="1.7"/>
<text transform="translate(1154.9 1172.2) scale(1 0.970)" font-size="23.2" stroke="#000" stroke-width="0.4">40</text>
<line x1="1143.8" y1="1203.8" x2="1148.3" y2="1203.8" stroke="#15747c" stroke-width="1.7"/>
<line x1="1143.8" y1="1243.9" x2="1151.8" y2="1243.9" stroke="#15747c" stroke-width="1.7"/>
<text transform="translate(1154.9 1252.5) scale(1 0.970)" font-size="23.2" stroke="#000" stroke-width="0.4">30</text>
<line x1="1143.8" y1="1284.1" x2="1148.3" y2="1284.1" stroke="#15747c" stroke-width="1.7"/>
<line x1="1143.8" y1="1324.3" x2="1151.8" y2="1324.3" stroke="#15747c" stroke-width="1.7"/>
<text transform="translate(1154.9 1332.9) scale(1 0.970)" font-size="23.2" stroke="#000" stroke-width="0.4">20</text>
<line x1="1143.8" y1="1364.5" x2="1148.3" y2="1364.5" stroke="#15747c" stroke-width="1.7"/>
<text transform="translate(1238.7 1123.8) scale(1 0.960)" font-size="31.8" font-weight="bold">CO<tspan font-size="21.6" dy="8.3">3</tspan><tspan font-size="21.6" dy="-17.8">2-</tspan><tspan dy="9.5">/</tspan>PO<tspan font-size="21.6" dy="8.3">4</tspan><tspan font-size="21.6" dy="-17.8">3-</tspan></text>
<g clip-path="url(#cp14)">
<g filter="url(#hm4)">
<rect x="1191.3" y="1118.6" width="252.1" height="326.9" fill="url(#vg4)"/>
<ellipse cx="1381.3" cy="1228.6" rx="50.0" ry="45.0" fill="#4f4f4f" filter="url(#bl12)"/>
<ellipse cx="1251.3" cy="1178.6" rx="30.0" ry="15.0" fill="#4f4f4f" filter="url(#bl8)"/>
</g></g>
<rect x="1221.3" y="1148.6" width="192.1" height="266.9" fill="none" stroke="#000" stroke-width="3.0"/>
<text transform="translate(1326.7 1387.3) scale(1 1.050)" font-size="35.5" font-weight="bold">5 µm</text>
<rect x="1335.2" y="1398.2" width="67.8" height="9.4" fill="#000"/>
<rect x="1448.0" y="1141.2" width="24.0" height="268.9" fill="url(#cb)"/>
<line x1="1448.4" y1="1141.2" x2="1448.4" y2="1410.1" stroke="#48c8d0" stroke-width="0.8" opacity="0.7"/>
<line x1="1472.0" y1="1150.3" x2="1478.5" y2="1150.3" stroke="#15747c" stroke-width="1.7"/>
<text transform="translate(1483.0 1158.0) scale(1 0.970)" font-size="21.4" stroke="#000" stroke-width="0.4">0.005</text>
<line x1="1472.0" y1="1181.7" x2="1476.0" y2="1181.7" stroke="#15747c" stroke-width="1.7"/>
<line x1="1472.0" y1="1213.1" x2="1478.5" y2="1213.1" stroke="#15747c" stroke-width="1.7"/>
<text transform="translate(1483.0 1220.8) scale(1 0.970)" font-size="21.4" stroke="#000" stroke-width="0.4">0.010</text>
<line x1="1472.0" y1="1244.5" x2="1476.0" y2="1244.5" stroke="#15747c" stroke-width="1.7"/>
<line x1="1472.0" y1="1275.9" x2="1478.5" y2="1275.9" stroke="#15747c" stroke-width="1.7"/>
<text transform="translate(1483.0 1283.6) scale(1 0.970)" font-size="21.4" stroke="#000" stroke-width="0.4">0.015</text>
<line x1="1472.0" y1="1307.3" x2="1476.0" y2="1307.3" stroke="#15747c" stroke-width="1.7"/>
<line x1="1472.0" y1="1338.7" x2="1478.5" y2="1338.7" stroke="#15747c" stroke-width="1.7"/>
<text transform="translate(1483.0 1346.4) scale(1 0.970)" font-size="21.4" stroke="#000" stroke-width="0.4">0.020</text>
<line x1="1472.0" y1="1370.1" x2="1476.0" y2="1370.1" stroke="#15747c" stroke-width="1.7"/>
<line x1="1472.0" y1="1401.5" x2="1478.5" y2="1401.5" stroke="#15747c" stroke-width="1.7"/>
<text transform="translate(1483.0 1409.2) scale(1 0.970)" font-size="21.4" stroke="#000" stroke-width="0.4">0.025</text>
<text transform="translate(1522.5 1107.3) scale(1 0.991)" font-size="50.0" stroke="#000" stroke-width="1.3">G</text>
<text transform="translate(1577.5 1065.9) scale(1 1.050)" font-size="35.3" font-weight="bold">Mineral/Collagen</text>
<g clip-path="url(#cp15)">
<g filter="url(#hm5)">
<rect x="1550.8" y="1050.0" width="330.2" height="400.7" fill="url(#vg5)"/>
<polygon points="1550.8,1230.0 1650.8,1226.0 1690.8,1240.0 1690.8,1280.0 1550.8,1280.0" fill="#424242" filter="url(#bl5)"/>
<polygon points="1550.8,1185.0 1660.8,1195.0 1680.8,1220.0 1650.8,1226.0 1550.8,1230.0" fill="#8a8a8a" filter="url(#bl8)"/>
<polygon points="1550.8,1050.0 1690.8,1050.0 1705.8,1088.0 1760.8,1112.0 1880.8,1120.0 1880.8,1154.0 1780.8,1154.0 1730.8,1140.0 1680.8,1128.0 1640.8,1138.0 1610.8,1158.0 1550.8,1152.0" fill="#dbdbdb" filter="url(#bl8)"/>
<polygon points="1720.8,1050.0 1880.8,1050.0 1880.8,1102.0 1780.8,1098.0" fill="#8a8a8a" filter="url(#bl5)"/>
<ellipse cx="1640.8" cy="1155.0" rx="25.0" ry="16.0" fill="#999999" filter="url(#bl5)"/>
</g></g>
<text transform="translate(1591.4 1115.4) scale(1 1.050)" font-size="35.4" font-weight="bold">Epiphysis</text>
<text transform="translate(1779.9 1350.5) scale(1 1.050)" font-size="35.5" font-weight="bold" fill="#fff">GP</text>
<text transform="translate(1760.7 1393.2) scale(1 1.050)" font-size="35.7" font-weight="bold" fill="#fff">5 µm</text>
<rect x="1766.4" y="1403.7" width="67.7" height="9.6" fill="#fff"/>
<rect x="1891.4" y="1082.3" width="27.8" height="327.7" fill="url(#cb)"/>
<line x1="1891.8" y1="1082.3" x2="1891.8" y2="1410.0" stroke="#48c8d0" stroke-width="0.8" opacity="0.7"/>
<line x1="1919.2" y1="1093.1" x2="1927.2" y2="1093.1" stroke="#15747c" stroke-width="1.7"/>
<text transform="translate(1931.5 1101.6) scale(1 0.970)" font-size="24.2" stroke="#000" stroke-width="0.4">1.4</text>
<line x1="1919.2" y1="1120.7" x2="1923.7" y2="1120.7" stroke="#15747c" stroke-width="1.7"/>
<line x1="1919.2" y1="1148.3" x2="1927.2" y2="1148.3" stroke="#15747c" stroke-width="1.7"/>
<text transform="translate(1931.5 1156.8) scale(1 0.970)" font-size="24.2" stroke="#000" stroke-width="0.4">1.2</text>
<line x1="1919.2" y1="1175.8" x2="1923.7" y2="1175.8" stroke="#15747c" stroke-width="1.7"/>
<line x1="1919.2" y1="1203.4" x2="1927.2" y2="1203.4" stroke="#15747c" stroke-width="1.7"/>
<text transform="translate(1931.5 1211.9) scale(1 0.970)" font-size="24.2" stroke="#000" stroke-width="0.4">1.0</text>
<line x1="1919.2" y1="1231.0" x2="1923.7" y2="1231.0" stroke="#15747c" stroke-width="1.7"/>
<line x1="1919.2" y1="1258.6" x2="1927.2" y2="1258.6" stroke="#15747c" stroke-width="1.7"/>
<text transform="translate(1931.5 1267.1) scale(1 0.970)" font-size="24.2" stroke="#000" stroke-width="0.4">0.8</text>
<line x1="1919.2" y1="1286.2" x2="1923.7" y2="1286.2" stroke="#15747c" stroke-width="1.7"/>
<line x1="1919.2" y1="1313.7" x2="1927.2" y2="1313.7" stroke="#15747c" stroke-width="1.7"/>
<text transform="translate(1931.5 1322.2) scale(1 0.970)" font-size="24.2" stroke="#000" stroke-width="0.4">0.6</text>
<line x1="1919.2" y1="1341.3" x2="1923.7" y2="1341.3" stroke="#15747c" stroke-width="1.7"/>
<line x1="1919.2" y1="1368.9" x2="1927.2" y2="1368.9" stroke="#15747c" stroke-width="1.7"/>
<text transform="translate(1931.5 1377.4) scale(1 0.970)" font-size="24.2" stroke="#000" stroke-width="0.4">0.4</text>
<line x1="1919.2" y1="1396.5" x2="1923.7" y2="1396.5" stroke="#15747c" stroke-width="1.7"/>
<text transform="translate(38.4 1553.6) scale(1 0.981)" font-size="49.1" stroke="#000" stroke-width="1.3">H</text>
<g clip-path="url(#cp16)">
<g filter="url(#hm6)">
<rect x="76.1" y="1487.1" width="321.1" height="395.8" fill="#454545"/>
<g>
<ellipse cx="168.9" cy="1793.5" rx="2.9" ry="4.4" fill="#666666" transform="rotate(-30 168.9 1793.5)"/>
</g>
<ellipse cx="367.0" cy="1597.0" rx="3.9" ry="5.0" fill="#666666"/>
<ellipse cx="328.2" cy="1526.6" rx="4.9" ry="3.5" fill="#666666"/>
<g>
<ellipse cx="153.8" cy="1625.1" rx="2.8" ry="5.3" fill="#666666" transform="rotate(-30 153.8 1625.1)"/>
</g>
<g>
<ellipse cx="228.7" cy="1592.9" rx="2.8" ry="5.5" fill="#666666" transform="rotate(-30 228.7 1592.9)"/>
</g>
<g>
<ellipse cx="252.3" cy="1664.1" rx="4.3" ry="3.2" fill="#666666" transform="rotate(-30 252.3 1664.1)"/>
</g>
<g>
<ellipse cx="327.9" cy="1549.0" rx="3.7" ry="3.2" fill="#666666" transform="rotate(-30 327.9 1549.0)"/>
</g>
<ellipse cx="360.1" cy="1608.5" rx="4.1" ry="5.8" fill="#666666"/>
<g>
<ellipse cx="197.8" cy="1695.1" rx="4.6" ry="5.3" fill="#666666" transform="rotate(30 197.8 1695.1)"/>
</g>
<g>
<ellipse cx="244.7" cy="1590.7" rx="3.7" ry="5.2" fill="#666666" transform="rotate(30 244.7 1590.7)"/>
</g>
<g>
<ellipse cx="109.4" cy="1848.0" rx="2.7" ry="4.9" fill="#666666" transform="rotate(-30 109.4 1848.0)"/>
</g>
<ellipse cx="136.9" cy="1848.3" rx="4.8" ry="5.1" fill="#666666"/>
<g>
<ellipse cx="276.9" cy="1566.6" rx="3.9" ry="3.1" fill="#666666" transform="rotate(30 276.9 1566.6)"/>
</g>
<ellipse cx="122.3" cy="1678.9" rx="4.4" ry="5.3" fill="#666666"/>
<g>
<ellipse cx="289.1" cy="1597.7" rx="4.2" ry="4.4" fill="#666666" transform="rotate(30 289.1 1597.7)"/>
</g>
<ellipse cx="360.4" cy="1551.7" rx="4.7" ry="3.7" fill="#666666"/>
<ellipse cx="307.6" cy="1546.0" rx="3.0" ry="3.1" fill="#666666"/>
<g>
<ellipse cx="238.3" cy="1718.1" rx="4.7" ry="4.4" fill="#666666" transform="rotate(30 238.3 1718.1)"/>
</g>
<g>
<ellipse cx="183.1" cy="1609.9" rx="3.7" ry="3.6" fill="#666666" transform="rotate(-30 183.1 1609.9)"/>
</g>
<g>
<ellipse cx="233.1" cy="1529.1" rx="4.4" ry="3.0" fill="#666666" transform="rotate(-30 233.1 1529.1)"/>
</g>
<g>
<ellipse cx="149.3" cy="1836.8" rx="3.5" ry="4.4" fill="#666666" transform="rotate(30 149.3 1836.8)"/>
</g>
<g>
<ellipse cx="128.6" cy="1693.0" rx="3.4" ry="3.6" fill="#666666" transform="rotate(30 128.6 1693.0)"/>
</g>
<g>
<ellipse cx="243.0" cy="1686.6" rx="3.6" ry="5.6" fill="#666666" transform="rotate(30 243.0 1686.6)"/>
</g>
<g>
<ellipse cx="347.5" cy="1609.3" rx="2.8" ry="3.4" fill="#666666" transform="rotate(-30 347.5 1609.3)"/>
</g>
<g>
<ellipse cx="118.9" cy="1823.2" rx="4.0" ry="4.7" fill="#666666" transform="rotate(-30 118.9 1823.2)"/>
</g>
<g>
<ellipse cx="137.4" cy="1749.5" rx="2.9" ry="5.4" fill="#666666" transform="rotate(-30 137.4 1749.5)"/>
</g>
<g>
<ellipse cx="359.0" cy="1537.4" rx="3.8" ry="4.9" fill="#666666" transform="rotate(30 359.0 1537.4)"/>
</g>
<g>
<ellipse cx="128.7" cy="1753.1" rx="2.8" ry="4.4" fill="#666666" transform="rotate(-30 128.7 1753.1)"/>
</g>
<g>
<ellipse cx="298.4" cy="1518.8" rx="3.7" ry="5.5" fill="#666666" transform="rotate(30 298.4 1518.8)"/>
</g>
<ellipse cx="328.1" cy="1542.9" rx="2.6" ry="3.1" fill="#666666"/>
<g>
<ellipse cx="116.1" cy="1780.8" rx="4.5" ry="5.5" fill="#666666" transform="rotate(30 116.1 1780.8)"/>
</g>
<g>
<ellipse cx="247.8" cy="1741.7" rx="2.8" ry="4.7" fill="#666666" transform="rotate(-30 247.8 1741.7)"/>
</g>
<g>
<ellipse cx="207.4" cy="1757.3" rx="3.0" ry="4.4" fill="#666666" transform="rotate(-30 207.4 1757.3)"/>
</g>
<g>
<ellipse cx="254.3" cy="1764.8" rx="3.4" ry="3.7" fill="#666666" transform="rotate(30 254.3 1764.8)"/>
</g>
<g>
<ellipse cx="207.0" cy="1738.6" rx="3.9" ry="3.6" fill="#666666" transform="rotate(-30 207.0 1738.6)"/>
</g>
<g>
<ellipse cx="131.3" cy="1781.2" rx="4.2" ry="4.9" fill="#666666" transform="rotate(-30 131.3 1781.2)"/>
</g>
<ellipse cx="274.3" cy="1581.4" rx="3.8" ry="5.4" fill="#666666"/>
<ellipse cx="172.5" cy="1784.7" rx="4.9" ry="4.0" fill="#666666"/>
<g>
<ellipse cx="222.8" cy="1618.7" rx="3.2" ry="5.8" fill="#666666" transform="rotate(30 222.8 1618.7)"/>
</g>
<g>
<ellipse cx="259.5" cy="1539.9" rx="3.3" ry="5.9" fill="#666666" transform="rotate(30 259.5 1539.9)"/>
</g>
<ellipse cx="243.1" cy="1659.0" rx="3.6" ry="5.5" fill="#666666"/>
<g>
<ellipse cx="247.5" cy="1675.9" rx="4.8" ry="5.7" fill="#666666" transform="rotate(30 247.5 1675.9)"/>
</g>
<g>
<ellipse cx="207.4" cy="1703.3" rx="4.1" ry="3.8" fill="#666666" transform="rotate(-30 207.4 1703.3)"/>
</g>
<g>
<ellipse cx="185.7" cy="1612.6" rx="3.8" ry="4.3" fill="#666666" transform="rotate(-30 185.7 1612.6)"/>
</g>
<g>
<ellipse cx="111.4" cy="1542.8" rx="3.4" ry="5.9" fill="#666666" transform="rotate(-30 111.4 1542.8)"/>
</g>
<ellipse cx="175.5" cy="1852.1" rx="2.9" ry="4.1" fill="#666666"/>
<ellipse cx="149.3" cy="1682.7" rx="3.3" ry="4.1" fill="#666666"/>
<g>
<ellipse cx="307.8" cy="1563.1" rx="3.4" ry="5.1" fill="#666666" transform="rotate(30 307.8 1563.1)"/>
</g>
<g>
<ellipse cx="218.8" cy="1584.4" rx="4.1" ry="3.1" fill="#666666" transform="rotate(30 218.8 1584.4)"/>
</g>
<ellipse cx="134.1" cy="1852.3" rx="4.8" ry="3.3" fill="#666666"/>
<g>
<ellipse cx="178.6" cy="1697.8" rx="4.7" ry="4.5" fill="#666666" transform="rotate(-30 178.6 1697.8)"/>
</g>
<g>
<ellipse cx="166.3" cy="1812.9" rx="4.3" ry="5.0" fill="#666666" transform="rotate(-30 166.3 1812.9)"/>
</g>
<g>
<ellipse cx="152.8" cy="1705.3" rx="3.1" ry="4.1" fill="#666666" transform="rotate(30 152.8 1705.3)"/>
</g>
<g>
<ellipse cx="119.8" cy="1700.4" rx="2.8" ry="3.6" fill="#666666" transform="rotate(-30 119.8 1700.4)"/>
</g>
<g>
<ellipse cx="223.6" cy="1738.4" rx="4.9" ry="3.3" fill="#666666" transform="rotate(30 223.6 1738.4)"/>
</g>
<g>
<ellipse cx="223.1" cy="1646.0" rx="3.6" ry="4.4" fill="#666666" transform="rotate(30 223.1 1646.0)"/>
</g>
<g>
<ellipse cx="149.9" cy="1731.9" rx="3.2" ry="5.4" fill="#666666" transform="rotate(-30 149.9 1731.9)"/>
</g>
<ellipse cx="192.2" cy="1677.2" rx="4.4" ry="3.7" fill="#666666"/>
<g>
<ellipse cx="117.6" cy="1842.3" rx="3.9" ry="5.3" fill="#666666" transform="rotate(-30 117.6 1842.3)"/>
</g>
<g>
<ellipse cx="321.7" cy="1525.5" rx="4.7" ry="5.8" fill="#666666" transform="rotate(-30 321.7 1525.5)"/>
</g>
<ellipse cx="165.6" cy="1680.7" rx="4.5" ry="3.9" fill="#666666"/>
<ellipse cx="256.7" cy="1577.8" rx="3.6" ry="5.8" fill="#666666"/>
<g>
<ellipse cx="155.0" cy="1791.4" rx="2.7" ry="3.0" fill="#666666" transform="rotate(30 155.0 1791.4)"/>
</g>
<g>
<ellipse cx="252.3" cy="1688.0" rx="4.6" ry="4.3" fill="#666666" transform="rotate(-30 252.3 1688.0)"/>
</g>
<g>
<ellipse cx="131.1" cy="1838.1" rx="3.7" ry="3.4" fill="#666666" transform="rotate(30 131.1 1838.1)"/>
</g>
<g>
<ellipse cx="133.5" cy="1571.9" rx="3.9" ry="3.8" fill="#666666" transform="rotate(30 133.5 1571.9)"/>
</g>
<g>
<ellipse cx="347.1" cy="1555.6" rx="4.3" ry="5.9" fill="#666666" transform="rotate(-30 347.1 1555.6)"/>
</g>
<g>
<ellipse cx="173.3" cy="1570.3" rx="3.2" ry="3.7" fill="#666666" transform="rotate(30 173.3 1570.3)"/>
</g>
<g>
<ellipse cx="295.1" cy="1575.5" rx="2.6" ry="5.0" fill="#666666" transform="rotate(30 295.1 1575.5)"/>
</g>
<g>
<ellipse cx="330.3" cy="1579.7" rx="4.5" ry="3.1" fill="#666666" transform="rotate(-30 330.3 1579.7)"/>
</g>
<g>
<ellipse cx="114.0" cy="1753.4" rx="3.6" ry="4.2" fill="#666666" transform="rotate(30 114.0 1753.4)"/>
</g>
<g>
<ellipse cx="139.9" cy="1826.3" rx="4.5" ry="5.5" fill="#666666" transform="rotate(30 139.9 1826.3)"/>
</g>
<g>
<ellipse cx="163.1" cy="1716.6" rx="4.8" ry="4.6" fill="#666666" transform="rotate(-30 163.1 1716.6)"/>
</g>
<g>
<ellipse cx="209.0" cy="1560.1" rx="4.5" ry="3.4" fill="#666666" transform="rotate(-30 209.0 1560.1)"/>
</g>
<ellipse cx="113.3" cy="1620.6" rx="2.9" ry="3.8" fill="#666666"/>
<ellipse cx="168.8" cy="1795.1" rx="3.0" ry="4.5" fill="#666666"/>
<g>
<ellipse cx="242.3" cy="1776.0" rx="3.6" ry="4.1" fill="#666666" transform="rotate(30 242.3 1776.0)"/>
</g>
<g>
<ellipse cx="361.8" cy="1584.2" rx="2.7" ry="3.6" fill="#666666" transform="rotate(30 361.8 1584.2)"/>
</g>
<g>
<ellipse cx="134.9" cy="1701.8" rx="3.9" ry="4.8" fill="#666666" transform="rotate(30 134.9 1701.8)"/>
</g>
<g>
<ellipse cx="149.3" cy="1618.5" rx="4.3" ry="5.7" fill="#666666" transform="rotate(-30 149.3 1618.5)"/>
</g>
<g>
<ellipse cx="122.6" cy="1517.4" rx="4.5" ry="5.4" fill="#666666" transform="rotate(30 122.6 1517.4)"/>
</g>
<g>
<ellipse cx="208.7" cy="1566.1" rx="3.9" ry="5.2" fill="#666666" transform="rotate(30 208.7 1566.1)"/>
</g>
<g>
<ellipse cx="225.4" cy="1652.9" rx="3.5" ry="5.1" fill="#666666" transform="rotate(-30 225.4 1652.9)"/>
</g>
<g>
<ellipse cx="116.7" cy="1797.1" rx="3.2" ry="3.2" fill="#666666" transform="rotate(-30 116.7 1797.1)"/>
</g>
<g>
<ellipse cx="320.2" cy="1548.8" rx="4.4" ry="3.7" fill="#666666" transform="rotate(30 320.2 1548.8)"/>
</g>
<g>
<ellipse cx="180.2" cy="1623.6" rx="4.2" ry="3.9" fill="#666666" transform="rotate(30 180.2 1623.6)"/>
</g>
<g>
<ellipse cx="286.3" cy="1610.9" rx="2.8" ry="3.6" fill="#666666" transform="rotate(-30 286.3 1610.9)"/>
</g>
<g>
<ellipse cx="230.3" cy="1749.2" rx="3.4" ry="4.2" fill="#666666" transform="rotate(-30 230.3 1749.2)"/>
</g>
<g>
<ellipse cx="122.1" cy="1766.5" rx="4.4" ry="4.1" fill="#666666" transform="rotate(30 122.1 1766.5)"/>
</g>
<ellipse cx="168.0" cy="1732.4" rx="3.9" ry="3.5" fill="#666666"/>
<g>
<ellipse cx="109.5" cy="1811.7" rx="3.8" ry="4.3" fill="#666666" transform="rotate(-30 109.5 1811.7)"/>
</g>
<g>
<ellipse cx="117.2" cy="1523.9" rx="4.4" ry="3.7" fill="#666666" transform="rotate(-30 117.2 1523.9)"/>
</g>
<g>
<ellipse cx="171.2" cy="1641.4" rx="4.2" ry="5.5" fill="#666666" transform="rotate(30 171.2 1641.4)"/>
</g>
<g>
<ellipse cx="112.1" cy="1826.3" rx="4.2" ry="4.7" fill="#666666" transform="rotate(30 112.1 1826.3)"/>
</g>
<ellipse cx="155.8" cy="1718.4" rx="4.6" ry="5.8" fill="#666666"/>
<polygon points="276.7,1616.1 298.1,1636.1 328.1,1652.1 406.1,1658.1 406.1,1887.1 166.1,1887.1 174.1,1837.1 186.1,1807.1 201.1,1788.1 251.1,1779.1 270.1,1749.1 264.1,1711.1 257.1,1686.1 262.1,1641.1" fill="#616161" filter="url(#bl5)"/>
<polygon points="276.7,1627.1 290.1,1653.1 308.1,1675.1 342.1,1689.1 406.1,1695.1 406.1,1887.1 178.1,1887.1 180.1,1853.1 188.1,1815.1 203.1,1796.1 252.1,1785.1 273.1,1751.1 268.1,1711.1 262.1,1686.1 267.1,1647.1" fill="#787878" filter="url(#bl5)"/>
<polygon points="218.1,1809.1 256.1,1799.1 278.1,1809.1 302.1,1847.1 302.1,1887.1 234.1,1887.1 230.1,1847.1" fill="#676767" filter="url(#bl5)"/>
<ellipse cx="276.7" cy="1657.1" rx="5.0" ry="14.0" fill="#858585" filter="url(#bl3)"/>
<polygon points="282.1,1747.1 302.1,1751.1 322.1,1773.1 344.1,1797.1 358.1,1817.1 406.1,1825.1 406.1,1887.1 312.1,1887.1 318.1,1839.1 302.1,1809.1 286.1,1779.1" fill="#adadad" filter="url(#bl3)"/>
<polygon points="320.1,1819.1 406.1,1809.1 406.1,1887.1 328.1,1887.1" fill="#cccccc" filter="url(#bl5)"/>
<g filter="url(#bl2)">
<ellipse cx="276.7" cy="1695.1" rx="3.5" ry="9.0" fill="#b2b2b2" transform="rotate(-5 276.7 1695.1)"/>
</g>
<g filter="url(#bl2)">
<ellipse cx="278.6" cy="1719.1" rx="4.0" ry="10.0" fill="#b2b2b2" transform="rotate(-8 278.6 1719.1)"/>
</g>
<ellipse cx="284.1" cy="1739.1" rx="5.0" ry="8.0" fill="#b8b8b8" filter="url(#bl2)"/>
<ellipse cx="304.1" cy="1734.1" rx="4.0" ry="5.0" fill="#b2b2b2" filter="url(#bl2)"/>
<ellipse cx="293.1" cy="1757.1" rx="9.0" ry="11.0" fill="#d1d1d1" filter="url(#bl3)"/>
<g filter="url(#bl3)">
<ellipse cx="216.1" cy="1843.1" rx="5.0" ry="13.0" fill="#b2b2b2" transform="rotate(-15 216.1 1843.1)"/>
</g>
<ellipse cx="206.1" cy="1819.1" rx="9.0" ry="16.0" fill="#858585" filter="url(#bl3)"/>
<ellipse cx="337.2" cy="1827.0" rx="4.1" ry="4.9" fill="#8c8c8c" filter="url(#bl2)"/>
<ellipse cx="355.0" cy="1830.5" rx="3.0" ry="2.6" fill="#969696" filter="url(#bl2)"/>
<ellipse cx="306.3" cy="1807.0" rx="3.6" ry="2.5" fill="#969696" filter="url(#bl2)"/>
<ellipse cx="319.6" cy="1770.5" rx="4.2" ry="3.5" fill="#8c8c8c" filter="url(#bl2)"/>
<ellipse cx="296.5" cy="1752.3" rx="4.2" ry="3.0" fill="#969696" filter="url(#bl2)"/>
<ellipse cx="364.8" cy="1768.9" rx="2.8" ry="3.3" fill="#969696" filter="url(#bl2)"/>
<ellipse cx="330.3" cy="1820.6" rx="2.9" ry="4.9" fill="#969696" filter="url(#bl2)"/>
<ellipse cx="365.4" cy="1842.4" rx="3.1" ry="3.4" fill="#969696" filter="url(#bl2)"/>
<ellipse cx="362.8" cy="1778.7" rx="3.2" ry="4.5" fill="#8c8c8c" filter="url(#bl2)"/>
<ellipse cx="335.0" cy="1823.6" rx="2.6" ry="3.4" fill="#d6d6d6" filter="url(#bl2)"/>
<ellipse cx="325.5" cy="1784.0" rx="3.5" ry="4.3" fill="#8c8c8c" filter="url(#bl2)"/>
<ellipse cx="363.9" cy="1788.2" rx="3.3" ry="3.9" fill="#cccccc" filter="url(#bl2)"/>
<ellipse cx="316.1" cy="1810.5" rx="2.5" ry="2.6" fill="#969696" filter="url(#bl2)"/>
<ellipse cx="337.2" cy="1848.5" rx="2.7" ry="3.1" fill="#cccccc" filter="url(#bl2)"/>
<ellipse cx="314.3" cy="1787.9" rx="3.5" ry="4.4" fill="#8c8c8c" filter="url(#bl2)"/>
<ellipse cx="334.5" cy="1831.0" rx="3.2" ry="3.2" fill="#cccccc" filter="url(#bl2)"/>
<ellipse cx="363.7" cy="1761.3" rx="3.2" ry="4.0" fill="#969696" filter="url(#bl2)"/>
<ellipse cx="330.8" cy="1783.7" rx="3.1" ry="2.9" fill="#8c8c8c" filter="url(#bl2)"/>
<ellipse cx="337.5" cy="1824.9" rx="3.1" ry="3.7" fill="#8c8c8c" filter="url(#bl2)"/>
<ellipse cx="361.8" cy="1755.3" rx="4.0" ry="3.4" fill="#d6d6d6" filter="url(#bl2)"/>
<ellipse cx="323.5" cy="1794.7" rx="2.6" ry="4.8" fill="#8c8c8c" filter="url(#bl2)"/>
<ellipse cx="351.8" cy="1785.9" rx="2.9" ry="5.0" fill="#969696" filter="url(#bl2)"/>
<ellipse cx="337.8" cy="1831.7" rx="2.7" ry="3.6" fill="#969696" filter="url(#bl2)"/>
<ellipse cx="337.0" cy="1769.2" rx="3.5" ry="4.9" fill="#d6d6d6" filter="url(#bl2)"/>
<ellipse cx="325.4" cy="1781.5" rx="3.3" ry="2.9" fill="#cccccc" filter="url(#bl2)"/>
<ellipse cx="353.5" cy="1805.8" rx="2.9" ry="4.8" fill="#d6d6d6" filter="url(#bl2)"/>
<ellipse cx="328.3" cy="1807.5" rx="3.5" ry="2.7" fill="#d6d6d6" filter="url(#bl2)"/>
<ellipse cx="343.1" cy="1819.2" rx="4.0" ry="3.4" fill="#d6d6d6" filter="url(#bl2)"/>
<ellipse cx="354.6" cy="1778.9" rx="4.5" ry="4.3" fill="#d6d6d6" filter="url(#bl2)"/>
<ellipse cx="339.4" cy="1810.7" rx="2.5" ry="3.9" fill="#d6d6d6" filter="url(#bl2)"/>
<ellipse cx="312.8" cy="1779.7" rx="3.1" ry="3.8" fill="#d6d6d6" filter="url(#bl2)"/>
<ellipse cx="314.6" cy="1817.2" rx="4.0" ry="4.6" fill="#d6d6d6" filter="url(#bl2)"/>
<polygon points="76.1,1835.1 146.1,1832.1 166.1,1845.1 168.1,1887.1 76.1,1887.1" fill="#828282" filter="url(#bl3)"/>
</g></g>
<rect x="175.0" y="1584.7" width="192.0" height="266.7" fill="none" stroke="#000" stroke-width="3.0"/>
<text transform="translate(187.8 1558.6) scale(1 0.950)" font-size="31.5" font-weight="bold" fill="#fff">PO<tspan font-size="21.4" dy="8.2">4</tspan><tspan font-size="21.4" dy="-17.6">3-</tspan></text>
<text transform="translate(180.4 1778.2) scale(1 1.050)" font-size="33.8" font-weight="bold">Metaphysis</text>
<text transform="translate(275.2 1821.2) scale(1 1.050)" font-size="35.9" font-weight="bold" fill="#fff">5 µm</text>
<rect x="282.4" y="1834.0" width="68.5" height="9.6" fill="#fff"/>
<rect x="397.9" y="1519.9" width="26.1" height="326.9" fill="url(#cb)"/>
<line x1="398.3" y1="1519.9" x2="398.3" y2="1846.8" stroke="#48c8d0" stroke-width="0.8" opacity="0.7"/>
<line x1="424.0" y1="1534.4" x2="432.0" y2="1534.4" stroke="#15747c" stroke-width="1.7"/>
<text transform="translate(436.1 1543.2) scale(1 0.970)" font-size="24.3" stroke="#000" stroke-width="0.4">250</text>
<line x1="424.0" y1="1563.4" x2="428.5" y2="1563.4" stroke="#15747c" stroke-width="1.7"/>
<line x1="424.0" y1="1592.5" x2="432.0" y2="1592.5" stroke="#15747c" stroke-width="1.7"/>
<text transform="translate(436.1 1601.3) scale(1 0.970)" font-size="24.3" stroke="#000" stroke-width="0.4">200</text>
<line x1="424.0" y1="1621.5" x2="428.5" y2="1621.5" stroke="#15747c" stroke-width="1.7"/>
<line x1="424.0" y1="1650.5" x2="432.0" y2="1650.5" stroke="#15747c" stroke-width="1.7"/>
<text transform="translate(436.1 1659.3) scale(1 0.970)" font-size="24.3" stroke="#000" stroke-width="0.4">150</text>
<line x1="424.0" y1="1679.6" x2="428.5" y2="1679.6" stroke="#15747c" stroke-width="1.7"/>
<line x1="424.0" y1="1708.6" x2="432.0" y2="1708.6" stroke="#15747c" stroke-width="1.7"/>
<text transform="translate(436.1 1717.4) scale(1 0.970)" font-size="24.3" stroke="#000" stroke-width="0.4">100</text>
<line x1="424.0" y1="1737.6" x2="428.5" y2="1737.6" stroke="#15747c" stroke-width="1.7"/>
<line x1="424.0" y1="1766.6" x2="432.0" y2="1766.6" stroke="#15747c" stroke-width="1.7"/>
<text transform="translate(436.1 1775.4) scale(1 0.970)" font-size="24.3" stroke="#000" stroke-width="0.4">50</text>
<line x1="424.0" y1="1795.7" x2="428.5" y2="1795.7" stroke="#15747c" stroke-width="1.7"/>
<line x1="424.0" y1="1824.7" x2="432.0" y2="1824.7" stroke="#15747c" stroke-width="1.7"/>
<text transform="translate(436.1 1833.5) scale(1 0.970)" font-size="24.3" stroke="#000" stroke-width="0.4">0</text>
<text transform="translate(508.0 1556.9) scale(1 1.050)" font-size="35.2" font-weight="bold">FWHM</text>
<text transform="translate(618.9 1560.7) scale(1 1.050)" font-size="23.3" font-weight="bold">960</text>
<g clip-path="url(#cp17)">
<g filter="url(#hm7)">
<rect x="459.9" y="1554.3" width="251.8" height="326.8" fill="#808080"/>
<polygon points="534.9,1554.3 719.9,1554.3 719.9,1612.3 639.9,1614.3 589.9,1618.3 534.9,1614.3" fill="#aaaaaa" filter="url(#bl5)"/>
<ellipse cx="546.9" cy="1626.3" rx="18.0" ry="20.0" fill="#afafaf" filter="url(#bl5)"/>
<ellipse cx="661.9" cy="1632.3" rx="20.0" ry="28.0" fill="#b0b0b0" filter="url(#bl5)"/>
<polygon points="459.9,1679.3 529.9,1676.3 561.9,1682.3 561.9,1709.3 539.9,1724.3 539.9,1779.3 514.9,1789.3 459.9,1784.3" fill="#b2b2b2" filter="url(#bl5)"/>
<polygon points="527.9,1614.3 561.9,1614.3 561.9,1734.3 533.9,1734.3" fill="#a4a4a4" filter="url(#bl5)"/>
<polygon points="459.9,1554.3 529.9,1554.3 529.9,1664.3 459.9,1674.3" fill="#858585" filter="url(#bl8)"/>
<polygon points="599.9,1658.3 617.9,1670.3 635.9,1693.3 653.9,1734.3 719.9,1774.3 719.9,1884.3 544.9,1884.3 551.9,1826.3 573.9,1793.3 590.9,1770.3 589.9,1704.3 591.9,1674.3" fill="#474747" filter="url(#bl5)"/>
<polygon points="639.9,1679.3 719.9,1679.3 719.9,1784.3 654.9,1734.3" fill="#616161" filter="url(#bl8)"/>
<polygon points="459.9,1799.3 519.9,1799.3 549.9,1834.3 529.9,1884.3 459.9,1884.3" fill="#757575" filter="url(#bl8)"/>
<ellipse cx="674.9" cy="1744.3" rx="12.0" ry="22.0" fill="#6b6b6b" filter="url(#bl5)"/>
</g></g>
<rect x="489.9" y="1584.3" width="191.8" height="266.8" fill="none" stroke="#000" stroke-width="3.0"/>
<text transform="translate(594.8 1819.1) scale(1 1.050)" font-size="35.4" font-weight="bold" fill="#fff">5 µm</text>
<rect x="605.9" y="1832.0" width="67.9" height="10.0" fill="#fff"/>
<rect x="707.2" y="1585.9" width="20.6" height="262.7" fill="url(#cb)"/>
<line x1="707.6" y1="1585.9" x2="707.6" y2="1848.6" stroke="#48c8d0" stroke-width="0.8" opacity="0.7"/>
<line x1="727.8" y1="1593.2" x2="734.1" y2="1593.2" stroke="#15747c" stroke-width="1.7"/>
<text transform="translate(736.8 1600.6) scale(1 0.970)" font-size="19.8" stroke="#000" stroke-width="0.4">22</text>
<line x1="727.8" y1="1634.9" x2="731.6" y2="1634.9" stroke="#15747c" stroke-width="1.7"/>
<line x1="727.8" y1="1676.6" x2="734.1" y2="1676.6" stroke="#15747c" stroke-width="1.7"/>
<text transform="translate(736.8 1684.0) scale(1 0.970)" font-size="19.8" stroke="#000" stroke-width="0.4">20</text>
<line x1="727.8" y1="1718.3" x2="731.6" y2="1718.3" stroke="#15747c" stroke-width="1.7"/>
<line x1="727.8" y1="1760.1" x2="734.1" y2="1760.1" stroke="#15747c" stroke-width="1.7"/>
<text transform="translate(736.8 1767.5) scale(1 0.970)" font-size="19.8" stroke="#000" stroke-width="0.4">18</text>
<line x1="727.8" y1="1801.8" x2="731.6" y2="1801.8" stroke="#15747c" stroke-width="1.7"/>
<line x1="727.8" y1="1843.5" x2="734.1" y2="1843.5" stroke="#15747c" stroke-width="1.7"/>
<text transform="translate(736.8 1850.9) scale(1 0.970)" font-size="19.8" stroke="#000" stroke-width="0.4">16</text>
<text transform="translate(761.5 1544.9) scale(1 1.078)" font-size="45.4" stroke="#000" stroke-width="1.3">I</text>
<g clip-path="url(#cp18)">
<g filter="url(#hm8)">
<rect x="775.0" y="1481.4" width="330.9" height="400.9" fill="#585858"/>
<polygon points="984.9,1615.4 1006.3,1635.4 1036.3,1651.4 1114.3,1657.4 1114.3,1886.4 874.3,1886.4 882.3,1836.4 894.3,1806.4 909.3,1787.4 959.3,1778.4 978.3,1748.4 972.3,1710.4 965.3,1685.4 970.3,1640.4" fill="#696969" filter="url(#bl5)"/>
<polygon points="984.9,1626.4 998.3,1652.4 1016.3,1674.4 1050.3,1688.4 1114.3,1694.4 1114.3,1886.4 886.3,1886.4 888.3,1852.4 896.3,1814.4 911.3,1795.4 960.3,1784.4 981.3,1750.4 976.3,1710.4 970.3,1685.4 975.3,1646.4" fill="#787878" filter="url(#bl5)"/>
<polygon points="926.3,1808.4 964.3,1798.4 986.3,1808.4 1010.3,1846.4 1010.3,1886.4 942.3,1886.4 938.3,1846.4" fill="#6b6b6b" filter="url(#bl5)"/>
<ellipse cx="984.9" cy="1656.4" rx="5.0" ry="14.0" fill="#858585" filter="url(#bl3)"/>
<polygon points="990.3,1746.4 1010.3,1750.4 1030.3,1772.4 1052.3,1796.4 1066.3,1816.4 1114.3,1824.4 1114.3,1886.4 1020.3,1886.4 1026.3,1838.4 1010.3,1808.4 994.3,1778.4" fill="#a6a6a6" filter="url(#bl3)"/>
<polygon points="1028.3,1818.4 1114.3,1808.4 1114.3,1886.4 1036.3,1886.4" fill="#b3b3b3" filter="url(#bl5)"/>
<g filter="url(#bl2)">
<ellipse cx="984.9" cy="1694.4" rx="3.5" ry="9.0" fill="#ababab" transform="rotate(-5 984.9 1694.4)"/>
</g>
<g filter="url(#bl2)">
<ellipse cx="986.8" cy="1718.4" rx="4.0" ry="10.0" fill="#ababab" transform="rotate(-8 986.8 1718.4)"/>
</g>
<ellipse cx="992.3" cy="1738.4" rx="5.0" ry="8.0" fill="#b0b0b0" filter="url(#bl2)"/>
<ellipse cx="1012.3" cy="1733.4" rx="4.0" ry="5.0" fill="#ababab" filter="url(#bl2)"/>
<ellipse cx="1001.3" cy="1756.4" rx="9.0" ry="11.0" fill="#c9c9c9" filter="url(#bl3)"/>
<g filter="url(#bl3)">
<ellipse cx="924.3" cy="1842.4" rx="5.0" ry="13.0" fill="#ababab" transform="rotate(-15 924.3 1842.4)"/>
</g>
<ellipse cx="914.3" cy="1818.4" rx="9.0" ry="16.0" fill="#858585" filter="url(#bl3)"/>
<ellipse cx="1076.2" cy="1772.5" rx="3.8" ry="3.6" fill="#c4c4c4" filter="url(#bl2)"/>
<ellipse cx="1026.3" cy="1809.3" rx="4.3" ry="3.5" fill="#c4c4c4" filter="url(#bl2)"/>
<ellipse cx="1013.5" cy="1753.4" rx="3.0" ry="3.5" fill="#c4c4c4" filter="url(#bl2)"/>
<ellipse cx="1053.8" cy="1818.4" rx="2.7" ry="4.5" fill="#c4c4c4" filter="url(#bl2)"/>
<ellipse cx="1045.2" cy="1789.5" rx="3.8" ry="3.3" fill="#8c8c8c" filter="url(#bl2)"/>
<ellipse cx="1035.1" cy="1817.0" rx="4.3" ry="4.0" fill="#969696" filter="url(#bl2)"/>
<ellipse cx="1044.1" cy="1805.9" rx="2.6" ry="4.3" fill="#969696" filter="url(#bl2)"/>
<ellipse cx="1071.9" cy="1809.9" rx="4.0" ry="4.7" fill="#cfcfcf" filter="url(#bl2)"/>
<ellipse cx="1040.0" cy="1837.8" rx="3.4" ry="2.9" fill="#8c8c8c" filter="url(#bl2)"/>
<ellipse cx="1037.9" cy="1783.1" rx="3.2" ry="4.1" fill="#c4c4c4" filter="url(#bl2)"/>
<ellipse cx="1035.6" cy="1771.4" rx="2.8" ry="3.8" fill="#8c8c8c" filter="url(#bl2)"/>
<ellipse cx="1060.6" cy="1837.9" rx="4.3" ry="3.9" fill="#cfcfcf" filter="url(#bl2)"/>
<ellipse cx="1014.3" cy="1752.6" rx="3.2" ry="3.2" fill="#c4c4c4" filter="url(#bl2)"/>
<ellipse cx="1015.2" cy="1781.5" rx="3.9" ry="3.5" fill="#c4c4c4" filter="url(#bl2)"/>
<ellipse cx="1064.2" cy="1754.0" rx="4.4" ry="2.9" fill="#8c8c8c" filter="url(#bl2)"/>
<ellipse cx="1022.3" cy="1768.6" rx="3.4" ry="3.1" fill="#c4c4c4" filter="url(#bl2)"/>
<ellipse cx="1040.5" cy="1792.5" rx="2.7" ry="2.7" fill="#8c8c8c" filter="url(#bl2)"/>
<ellipse cx="1057.0" cy="1804.7" rx="2.8" ry="4.8" fill="#c4c4c4" filter="url(#bl2)"/>
<ellipse cx="1052.4" cy="1850.4" rx="2.6" ry="2.5" fill="#969696" filter="url(#bl2)"/>
<ellipse cx="1022.2" cy="1817.9" rx="2.7" ry="3.2" fill="#cfcfcf" filter="url(#bl2)"/>
<ellipse cx="1073.4" cy="1751.7" rx="4.2" ry="3.0" fill="#8c8c8c" filter="url(#bl2)"/>
<ellipse cx="1066.7" cy="1839.2" rx="4.1" ry="4.5" fill="#969696" filter="url(#bl2)"/>
<ellipse cx="1030.5" cy="1759.8" rx="3.7" ry="3.7" fill="#c4c4c4" filter="url(#bl2)"/>
<ellipse cx="1059.1" cy="1789.9" rx="2.7" ry="4.3" fill="#969696" filter="url(#bl2)"/>
<ellipse cx="1053.3" cy="1803.4" rx="2.7" ry="4.8" fill="#c4c4c4" filter="url(#bl2)"/>
<ellipse cx="1061.2" cy="1797.4" rx="2.6" ry="2.6" fill="#8c8c8c" filter="url(#bl2)"/>
<ellipse cx="1052.4" cy="1813.2" rx="2.5" ry="3.4" fill="#c4c4c4" filter="url(#bl2)"/>
<ellipse cx="1037.6" cy="1850.2" rx="4.0" ry="4.0" fill="#969696" filter="url(#bl2)"/>
<ellipse cx="1035.4" cy="1784.1" rx="3.3" ry="3.8" fill="#969696" filter="url(#bl2)"/>
<ellipse cx="1068.8" cy="1826.5" rx="4.4" ry="5.0" fill="#969696" filter="url(#bl2)"/>
<ellipse cx="1046.2" cy="1759.4" rx="3.3" ry="4.4" fill="#cfcfcf" filter="url(#bl2)"/>
<polygon points="775.0,1829.4 845.0,1826.4 865.0,1839.4 867.0,1881.4 775.0,1881.4" fill="#828282" filter="url(#bl3)"/>
</g></g>
<rect x="883.2" y="1585.3" width="191.9" height="266.6" fill="none" stroke="#000" stroke-width="3.0"/>
<text transform="translate(826.6 1551.0) scale(1 0.950)" font-size="31.5" font-weight="bold" fill="#fff">CO<tspan font-size="21.4" dy="8.2">3</tspan><tspan font-size="21.4" dy="-17.6">2-</tspan></text>
<text transform="translate(883.4 1777.6) scale(1 1.050)" font-size="35.1" font-weight="bold">Metaphysis</text>
<text transform="translate(987.4 1820.6) scale(1 1.050)" font-size="35.9" font-weight="bold" fill="#fff">5 µm</text>
<rect x="994.5" y="1833.9" width="68.3" height="9.8" fill="#fff"/>
<rect x="1116.2" y="1512.1" width="26.7" height="326.6" fill="url(#cb)"/>
<line x1="1116.6" y1="1512.1" x2="1116.6" y2="1838.7" stroke="#48c8d0" stroke-width="0.8" opacity="0.7"/>
<line x1="1142.9" y1="1552.4" x2="1150.9" y2="1552.4" stroke="#15747c" stroke-width="1.7"/>
<text transform="translate(1154.8 1560.8) scale(1 0.970)" font-size="24.0" stroke="#000" stroke-width="0.4">60</text>
<line x1="1142.9" y1="1599.1" x2="1147.4" y2="1599.1" stroke="#15747c" stroke-width="1.7"/>
<line x1="1142.9" y1="1645.9" x2="1150.9" y2="1645.9" stroke="#15747c" stroke-width="1.7"/>
<text transform="translate(1154.8 1654.3) scale(1 0.970)" font-size="24.0" stroke="#000" stroke-width="0.4">40</text>
<line x1="1142.9" y1="1692.6" x2="1147.4" y2="1692.6" stroke="#15747c" stroke-width="1.7"/>
<line x1="1142.9" y1="1739.3" x2="1150.9" y2="1739.3" stroke="#15747c" stroke-width="1.7"/>
<text transform="translate(1154.8 1747.7) scale(1 0.970)" font-size="24.0" stroke="#000" stroke-width="0.4">20</text>
<line x1="1142.9" y1="1786.1" x2="1147.4" y2="1786.1" stroke="#15747c" stroke-width="1.7"/>
<line x1="1142.9" y1="1832.8" x2="1150.9" y2="1832.8" stroke="#15747c" stroke-width="1.7"/>
<text transform="translate(1154.8 1841.2) scale(1 0.970)" font-size="24.0" stroke="#000" stroke-width="0.4">0</text>
<text transform="translate(1238.1 1564.4) scale(1 0.960)" font-size="31.8" font-weight="bold">CO<tspan font-size="21.6" dy="8.3">3</tspan><tspan font-size="21.6" dy="-17.8">2-</tspan><tspan dy="9.5">/</tspan>PO<tspan font-size="21.6" dy="8.3">4</tspan><tspan font-size="21.6" dy="-17.8">3-</tspan></text>
<g clip-path="url(#cp19)">
<g filter="url(#hm9)">
<rect x="1184.8" y="1558.5" width="252.0" height="327.5" fill="url(#vg6)"/>
<polygon points="1312.8,1637.5 1335.8,1648.5 1348.8,1659.5 1357.8,1682.5 1401.8,1686.5 1444.8,1688.5 1444.8,1888.5 1234.8,1888.5 1236.8,1828.5 1254.8,1798.5 1301.8,1793.5 1306.8,1738.5 1304.8,1678.5" fill="#454545" filter="url(#bl5)"/>
<polygon points="1269.8,1804.5 1312.8,1800.5 1314.8,1838.5 1284.8,1850.5 1264.8,1833.5" fill="#6b6b6b" filter="url(#bl5)"/>
<ellipse cx="1389.8" cy="1758.5" rx="12.0" ry="25.0" fill="#666666" filter="url(#bl5)"/>
<ellipse cx="1374.8" cy="1698.5" rx="14.0" ry="10.0" fill="#5e5e5e" filter="url(#bl5)"/>
</g></g>
<rect x="1214.8" y="1588.5" width="192.0" height="267.5" fill="none" stroke="#000" stroke-width="3.0"/>
<text transform="translate(1317.4 1822.7) scale(1 1.050)" font-size="35.2" font-weight="bold" fill="#fff">5 µm</text>
<rect x="1332.6" y="1835.3" width="67.9" height="9.6" fill="#fff"/>
<rect x="1445.6" y="1577.7" width="23.8" height="289.1" fill="url(#cb)"/>
<line x1="1446.0" y1="1577.7" x2="1446.0" y2="1866.8" stroke="#48c8d0" stroke-width="0.8" opacity="0.7"/>
<line x1="1469.4" y1="1586.1" x2="1475.9" y2="1586.1" stroke="#15747c" stroke-width="1.7"/>
<text transform="translate(1482.5 1593.6) scale(1 0.970)" font-size="20.9" stroke="#000" stroke-width="0.4">0.005</text>
<line x1="1469.4" y1="1617.5" x2="1473.4" y2="1617.5" stroke="#15747c" stroke-width="1.7"/>
<line x1="1469.4" y1="1648.9" x2="1475.9" y2="1648.9" stroke="#15747c" stroke-width="1.7"/>
<text transform="translate(1482.5 1656.4) scale(1 0.970)" font-size="20.9" stroke="#000" stroke-width="0.4">0.010</text>
<line x1="1469.4" y1="1680.4" x2="1473.4" y2="1680.4" stroke="#15747c" stroke-width="1.7"/>
<line x1="1469.4" y1="1711.8" x2="1475.9" y2="1711.8" stroke="#15747c" stroke-width="1.7"/>
<text transform="translate(1482.5 1719.3) scale(1 0.970)" font-size="20.9" stroke="#000" stroke-width="0.4">0.015</text>
<line x1="1469.4" y1="1743.2" x2="1473.4" y2="1743.2" stroke="#15747c" stroke-width="1.7"/>
<line x1="1469.4" y1="1774.7" x2="1475.9" y2="1774.7" stroke="#15747c" stroke-width="1.7"/>
<text transform="translate(1482.5 1782.2) scale(1 0.970)" font-size="20.9" stroke="#000" stroke-width="0.4">0.020</text>
<line x1="1469.4" y1="1806.1" x2="1473.4" y2="1806.1" stroke="#15747c" stroke-width="1.7"/>
<line x1="1469.4" y1="1837.5" x2="1475.9" y2="1837.5" stroke="#15747c" stroke-width="1.7"/>
<text transform="translate(1482.5 1845.0) scale(1 0.970)" font-size="20.9" stroke="#000" stroke-width="0.4">0.025</text>
<text transform="translate(1543.2 1544.2) scale(1 1.020)" font-size="47.6" stroke="#000" stroke-width="1.3">J</text>
<text transform="translate(1580.1 1496.7) scale(1 1.050)" font-size="35.4" font-weight="bold">Mineral/Collagen</text>
<g clip-path="url(#cp20)">
<g filter="url(#hm10)">
<rect x="1550.8" y="1483.1" width="330.2" height="397.7" fill="#424242"/>
<polygon points="1762.8,1615.1 1780.8,1625.1 1805.8,1645.1 1880.8,1663.1 1880.8,1883.1 1668.8,1883.1 1670.8,1829.1 1678.8,1796.1 1701.8,1778.1 1736.8,1753.1 1750.8,1728.1 1746.8,1702.1 1737.8,1677.1 1740.8,1642.1" fill="#5c5c5c" filter="url(#bl3)"/>
<polygon points="1762.8,1623.1 1776.8,1663.1 1795.8,1698.1 1842.8,1718.1 1880.8,1723.1 1880.8,1883.1 1672.8,1883.1 1675.8,1829.1 1682.8,1799.1 1704.8,1783.1 1740.8,1759.1 1754.8,1728.1 1750.8,1702.1 1741.8,1677.1 1744.8,1642.1" fill="#787878" filter="url(#bl3)"/>
<polygon points="1759.8,1681.1 1770.8,1703.1 1772.8,1738.1 1820.8,1745.1 1830.8,1781.1 1880.8,1788.1 1880.8,1883.1 1780.8,1883.1 1785.8,1813.1 1760.8,1775.1 1756.8,1743.1" fill="#bdbdbd" filter="url(#bl3)"/>
<polygon points="1686.8,1805.1 1700.8,1813.1 1708.8,1883.1 1688.8,1883.1" fill="#a8a8a8" filter="url(#bl3)"/>
<ellipse cx="1798.2" cy="1745.8" rx="2.2" ry="3.7" fill="#808080" filter="url(#bl2)"/>
<ellipse cx="1786.0" cy="1761.0" rx="3.0" ry="2.7" fill="#dbdbdb" filter="url(#bl2)"/>
<ellipse cx="1821.4" cy="1805.4" rx="2.3" ry="3.9" fill="#e6e6e6" filter="url(#bl2)"/>
<ellipse cx="1768.2" cy="1723.1" rx="2.2" ry="3.0" fill="#dbdbdb" filter="url(#bl2)"/>
<ellipse cx="1830.2" cy="1832.2" rx="3.5" ry="2.4" fill="#8a8a8a" filter="url(#bl2)"/>
<ellipse cx="1823.9" cy="1754.0" rx="2.1" ry="2.5" fill="#8a8a8a" filter="url(#bl2)"/>
<ellipse cx="1791.7" cy="1740.5" rx="2.1" ry="3.4" fill="#808080" filter="url(#bl2)"/>
<ellipse cx="1789.9" cy="1765.7" rx="2.0" ry="2.8" fill="#808080" filter="url(#bl2)"/>
<ellipse cx="1836.3" cy="1738.6" rx="3.4" ry="2.3" fill="#808080" filter="url(#bl2)"/>
<ellipse cx="1801.9" cy="1779.4" rx="2.9" ry="2.4" fill="#808080" filter="url(#bl2)"/>
<ellipse cx="1791.8" cy="1790.4" rx="2.1" ry="3.2" fill="#8a8a8a" filter="url(#bl2)"/>
<ellipse cx="1844.9" cy="1804.0" rx="2.1" ry="2.5" fill="#dbdbdb" filter="url(#bl2)"/>
<ellipse cx="1836.3" cy="1808.3" rx="3.2" ry="3.2" fill="#808080" filter="url(#bl2)"/>
<ellipse cx="1788.7" cy="1796.4" rx="2.9" ry="3.5" fill="#808080" filter="url(#bl2)"/>
<ellipse cx="1839.2" cy="1744.5" rx="2.3" ry="2.4" fill="#dbdbdb" filter="url(#bl2)"/>
<ellipse cx="1825.9" cy="1746.8" rx="3.0" ry="2.0" fill="#808080" filter="url(#bl2)"/>
<ellipse cx="1773.7" cy="1757.7" rx="2.5" ry="2.2" fill="#949494" filter="url(#bl2)"/>
<ellipse cx="1831.9" cy="1766.7" rx="3.1" ry="2.5" fill="#808080" filter="url(#bl2)"/>
<ellipse cx="1847.3" cy="1750.5" rx="2.6" ry="3.7" fill="#949494" filter="url(#bl2)"/>
<ellipse cx="1766.4" cy="1731.9" rx="3.1" ry="3.8" fill="#808080" filter="url(#bl2)"/>
<ellipse cx="1849.4" cy="1785.0" rx="2.0" ry="2.1" fill="#8a8a8a" filter="url(#bl2)"/>
<ellipse cx="1780.7" cy="1763.9" rx="2.4" ry="3.9" fill="#dbdbdb" filter="url(#bl2)"/>
<ellipse cx="1807.9" cy="1816.6" rx="2.9" ry="3.6" fill="#949494" filter="url(#bl2)"/>
<ellipse cx="1828.4" cy="1831.0" rx="2.8" ry="2.2" fill="#808080" filter="url(#bl2)"/>
<ellipse cx="1831.0" cy="1820.9" rx="2.3" ry="3.6" fill="#808080" filter="url(#bl2)"/>
<ellipse cx="1772.7" cy="1762.7" rx="2.9" ry="3.1" fill="#808080" filter="url(#bl2)"/>
<ellipse cx="1769.8" cy="1764.1" rx="3.5" ry="3.1" fill="#808080" filter="url(#bl2)"/>
<ellipse cx="1809.7" cy="1781.4" rx="2.7" ry="2.6" fill="#dbdbdb" filter="url(#bl2)"/>
<ellipse cx="1805.4" cy="1835.9" rx="2.1" ry="3.3" fill="#dbdbdb" filter="url(#bl2)"/>
<ellipse cx="1774.8" cy="1706.2" rx="2.2" ry="3.0" fill="#808080" filter="url(#bl2)"/>
<ellipse cx="1800.8" cy="1790.1" rx="2.1" ry="3.2" fill="#949494" filter="url(#bl2)"/>
<ellipse cx="1776.7" cy="1760.2" rx="2.6" ry="3.9" fill="#dbdbdb" filter="url(#bl2)"/>
<ellipse cx="1814.0" cy="1830.2" rx="2.1" ry="3.2" fill="#dbdbdb" filter="url(#bl2)"/>
<ellipse cx="1757.4" cy="1751.9" rx="2.9" ry="2.2" fill="#808080" filter="url(#bl2)"/>
<ellipse cx="1759.2" cy="1742.7" rx="2.8" ry="3.1" fill="#808080" filter="url(#bl2)"/>
<ellipse cx="1761.1" cy="1737.1" rx="2.7" ry="2.9" fill="#8a8a8a" filter="url(#bl2)"/>
<ellipse cx="1848.5" cy="1848.8" rx="3.3" ry="2.2" fill="#949494" filter="url(#bl2)"/>
<ellipse cx="1818.6" cy="1758.9" rx="2.2" ry="3.9" fill="#808080" filter="url(#bl2)"/>
<ellipse cx="1763.6" cy="1703.3" rx="3.5" ry="4.0" fill="#949494" filter="url(#bl2)"/>
<ellipse cx="1763.0" cy="1687.0" rx="3.0" ry="2.4" fill="#808080" filter="url(#bl2)"/>
<ellipse cx="1795.8" cy="1841.7" rx="2.0" ry="2.2" fill="#e6e6e6" filter="url(#bl2)"/>
<ellipse cx="1758.5" cy="1725.3" rx="3.4" ry="3.2" fill="#8a8a8a" filter="url(#bl2)"/>
<ellipse cx="1815.4" cy="1797.5" rx="2.2" ry="2.1" fill="#8a8a8a" filter="url(#bl2)"/>
<ellipse cx="1848.4" cy="1815.2" rx="3.4" ry="3.9" fill="#949494" filter="url(#bl2)"/>
<ellipse cx="1812.0" cy="1765.7" rx="2.6" ry="3.7" fill="#e6e6e6" filter="url(#bl2)"/>
<ellipse cx="1782.3" cy="1761.5" rx="3.5" ry="2.9" fill="#e6e6e6" filter="url(#bl2)"/>
<ellipse cx="1771.1" cy="1750.7" rx="2.5" ry="2.3" fill="#dbdbdb" filter="url(#bl2)"/>
<ellipse cx="1788.5" cy="1833.7" rx="3.5" ry="2.2" fill="#e6e6e6" filter="url(#bl2)"/>
<ellipse cx="1847.1" cy="1783.8" rx="3.5" ry="3.3" fill="#e6e6e6" filter="url(#bl2)"/>
<ellipse cx="1773.5" cy="1774.1" rx="2.5" ry="2.0" fill="#dbdbdb" filter="url(#bl2)"/>
<ellipse cx="1824.1" cy="1811.4" rx="3.3" ry="3.0" fill="#e6e6e6" filter="url(#bl2)"/>
<ellipse cx="1756.9" cy="1708.2" rx="2.3" ry="2.2" fill="#e6e6e6" filter="url(#bl2)"/>
<ellipse cx="1816.4" cy="1749.5" rx="3.4" ry="3.0" fill="#8a8a8a" filter="url(#bl2)"/>
<ellipse cx="1802.7" cy="1743.1" rx="3.5" ry="2.4" fill="#e6e6e6" filter="url(#bl2)"/>
<ellipse cx="1808.4" cy="1817.4" rx="3.2" ry="2.4" fill="#8a8a8a" filter="url(#bl2)"/>
<ellipse cx="1837.6" cy="1796.9" rx="3.5" ry="3.5" fill="#949494" filter="url(#bl2)"/>
<ellipse cx="1780.7" cy="1769.9" rx="2.8" ry="4.0" fill="#8a8a8a" filter="url(#bl2)"/>
<polygon points="1550.8,1835.1 1620.8,1831.1 1640.8,1843.1 1640.8,1883.1 1550.8,1883.1" fill="#808080" filter="url(#bl3)"/>
</g></g>
<text transform="translate(1591.2 1552.6) scale(1 1.050)" font-size="34.5" font-weight="bold" fill="#fff">GP</text>
<text transform="translate(1639.4 1785.4) scale(1 1.050)" font-size="35.3" font-weight="bold">Metaphysis</text>
<text transform="translate(1757.4 1822.8) scale(1 1.050)" font-size="35.8" font-weight="bold" fill="#fff">5 µm</text>
<rect x="1765.9" y="1832.6" width="67.9" height="9.6" fill="#fff"/>
<rect x="1888.4" y="1530.1" width="27.5" height="327.7" fill="url(#cb)"/>
<line x1="1888.8" y1="1530.1" x2="1888.8" y2="1857.8" stroke="#48c8d0" stroke-width="0.8" opacity="0.7"/>
<line x1="1915.9" y1="1538.9" x2="1923.9" y2="1538.9" stroke="#15747c" stroke-width="1.7"/>
<text transform="translate(1928.5 1547.2) scale(1 0.970)" font-size="24.3" stroke="#000" stroke-width="0.4">5.0</text>
<line x1="1915.9" y1="1569.7" x2="1920.4" y2="1569.7" stroke="#15747c" stroke-width="1.7"/>
<line x1="1915.9" y1="1600.4" x2="1923.9" y2="1600.4" stroke="#15747c" stroke-width="1.7"/>
<text transform="translate(1928.5 1608.7) scale(1 0.970)" font-size="24.3" stroke="#000" stroke-width="0.4">4.0</text>
<line x1="1915.9" y1="1631.2" x2="1920.4" y2="1631.2" stroke="#15747c" stroke-width="1.7"/>
<line x1="1915.9" y1="1661.9" x2="1923.9" y2="1661.9" stroke="#15747c" stroke-width="1.7"/>
<text transform="translate(1928.5 1670.2) scale(1 0.970)" font-size="24.3" stroke="#000" stroke-width="0.4">3.0</text>
<line x1="1915.9" y1="1692.7" x2="1920.4" y2="1692.7" stroke="#15747c" stroke-width="1.7"/>
<line x1="1915.9" y1="1723.5" x2="1923.9" y2="1723.5" stroke="#15747c" stroke-width="1.7"/>
<text transform="translate(1928.5 1731.8) scale(1 0.970)" font-size="24.3" stroke="#000" stroke-width="0.4">2.0</text>
<line x1="1915.9" y1="1754.2" x2="1920.4" y2="1754.2" stroke="#15747c" stroke-width="1.7"/>
<line x1="1915.9" y1="1785.0" x2="1923.9" y2="1785.0" stroke="#15747c" stroke-width="1.7"/>
<text transform="translate(1928.5 1793.3) scale(1 0.970)" font-size="24.3" stroke="#000" stroke-width="0.4">1.0</text>
<line x1="1915.9" y1="1815.7" x2="1920.4" y2="1815.7" stroke="#15747c" stroke-width="1.7"/>
<line x1="1915.9" y1="1846.5" x2="1923.9" y2="1846.5" stroke="#15747c" stroke-width="1.7"/>
<text transform="translate(1928.5 1854.8) scale(1 0.970)" font-size="24.3" stroke="#000" stroke-width="0.4">0.0</text>
</svg>
</body></html>
